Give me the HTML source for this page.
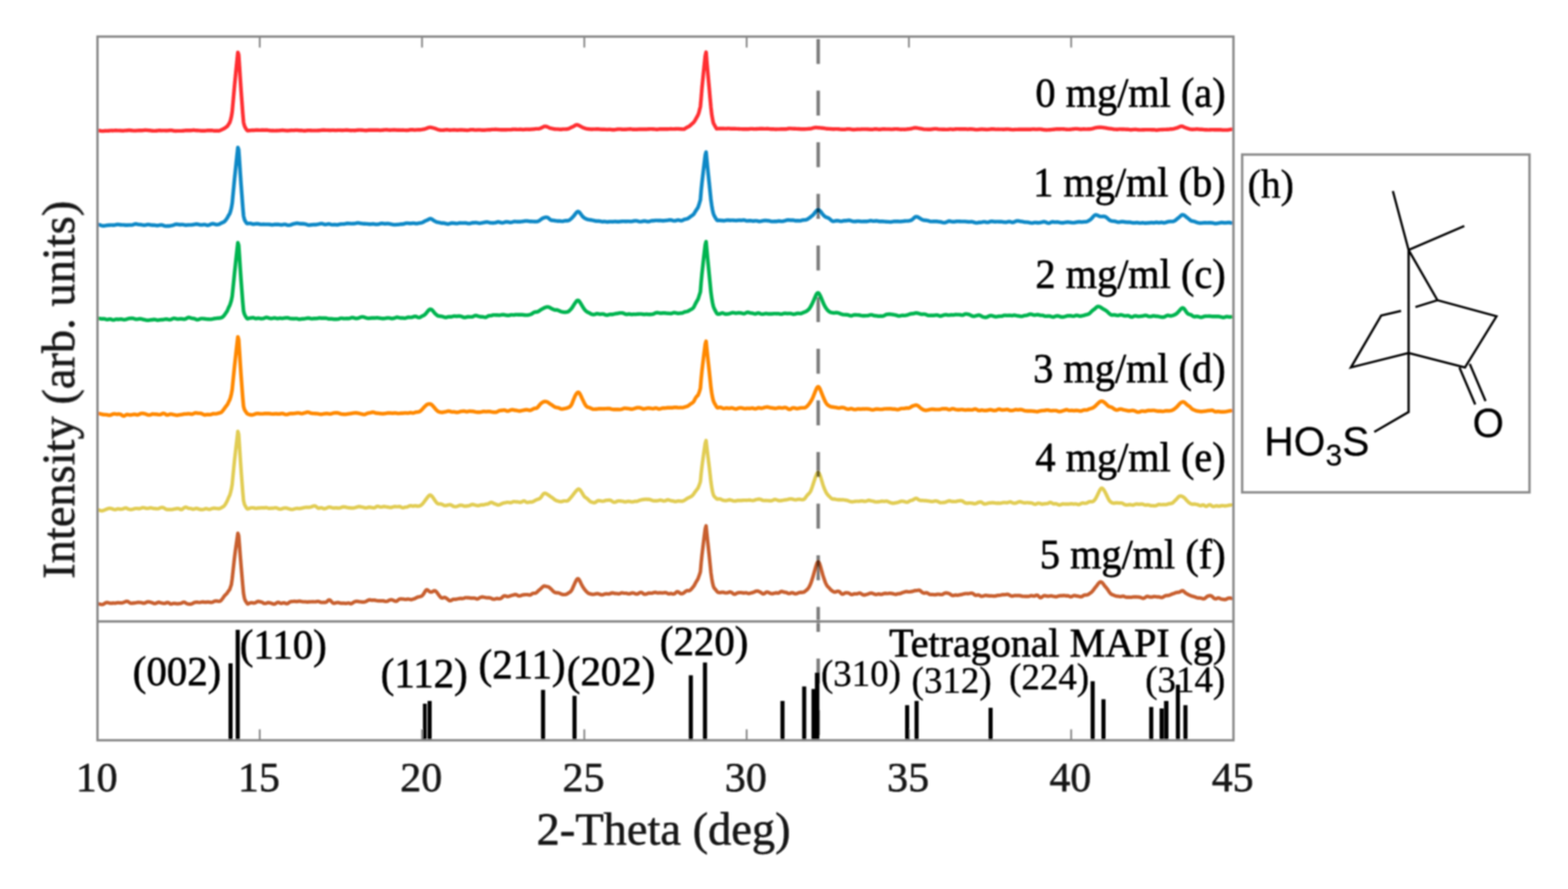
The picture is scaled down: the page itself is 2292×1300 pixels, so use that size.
<!DOCTYPE html>
<html lang="en"><head><meta charset="utf-8"><title>XRD patterns</title>
<style>html,body{margin:0;padding:0;background:#fff;}body{width:2292px;height:1300px;overflow:hidden;}svg{display:block;}text{font-family:"Liberation Serif", "Times New Roman", Times, serif;fill:#000;stroke:#000;stroke-width:0.9px;stroke-linejoin:round;}.sans{font-family:"Liberation Sans", Arial, Helvetica, sans-serif;}.c{fill:none;stroke-linejoin:round;stroke-linecap:butt;}</style></head><body>
<svg width="2292" height="1300" viewBox="0 0 2292 1300">
<defs><filter id="b" x="-2%" y="-2%" width="104%" height="104%"><feGaussianBlur stdDeviation="0.9"/></filter></defs>
<rect width="2292" height="1300" fill="#fff"/>
<g filter="url(#b)">
<path d="M379.7,53.5 v16 M379.7,1082.5 v-16 M616.9,53.5 v16 M616.9,1082.5 v-16 M854.1,53.5 v16 M854.1,1082.5 v-16 M1091.4,53.5 v16 M1091.4,1082.5 v-16 M1328.6,53.5 v16 M1328.6,1082.5 v-16 M1565.8,53.5 v16 M1565.8,1082.5 v-16" stroke="#868686" stroke-width="2.6" fill="none"/>
<path class="c" d="M142.5,190.9 L143.7,190.9 L144.9,191.0 L146.1,191.2 L147.2,191.4 L148.4,191.6 L149.6,191.6 L150.8,191.6 L152.0,191.5 L153.2,191.4 L154.4,191.3 L155.5,191.4 L156.7,191.4 L157.9,191.3 L159.1,191.2 L160.3,191.1 L161.5,190.9 L162.7,190.9 L163.8,191.0 L165.0,191.0 L166.2,190.9 L167.4,190.9 L168.6,190.8 L169.8,190.8 L171.0,190.9 L172.2,190.9 L173.3,190.9 L174.5,190.9 L175.7,191.0 L176.9,191.0 L178.1,191.1 L179.3,191.2 L180.5,191.1 L181.6,191.0 L182.8,190.9 L184.0,190.9 L185.2,190.8 L186.4,190.7 L187.6,190.5 L188.8,190.5 L189.9,190.5 L191.1,190.7 L192.3,190.8 L193.5,190.9 L194.7,191.1 L195.9,191.1 L197.1,191.1 L198.2,191.1 L199.4,191.0 L200.6,190.9 L201.8,190.9 L203.0,190.8 L204.2,190.8 L205.4,190.7 L206.5,190.7 L207.7,190.7 L208.9,190.6 L210.1,190.5 L211.3,190.4 L212.5,190.3 L213.7,190.4 L214.9,190.4 L216.0,190.5 L217.2,190.6 L218.4,190.7 L219.6,190.8 L220.8,191.0 L222.0,191.2 L223.2,191.3 L224.3,191.4 L225.5,191.4 L226.7,191.4 L227.9,191.3 L229.1,191.2 L230.3,191.0 L231.5,190.9 L232.6,190.8 L233.8,190.8 L235.0,190.9 L236.2,191.0 L237.4,190.9 L238.6,190.9 L239.8,190.9 L240.9,190.9 L242.1,191.0 L243.3,191.0 L244.5,191.0 L245.7,190.9 L246.9,190.7 L248.1,190.6 L249.2,190.5 L250.4,190.6 L251.6,190.7 L252.8,191.0 L254.0,191.3 L255.2,191.4 L256.4,191.5 L257.5,191.5 L258.7,191.4 L259.9,191.4 L261.1,191.4 L262.3,191.4 L263.5,191.4 L264.7,191.4 L265.9,191.4 L267.0,191.3 L268.2,191.2 L269.4,191.0 L270.6,190.9 L271.8,190.8 L273.0,190.8 L274.2,190.8 L275.3,190.8 L276.5,190.8 L277.7,190.8 L278.9,190.7 L280.1,190.6 L281.3,190.5 L282.5,190.4 L283.6,190.3 L284.8,190.5 L286.0,190.6 L287.2,190.7 L288.4,190.8 L289.6,190.9 L290.8,190.9 L291.9,191.0 L293.1,191.1 L294.3,191.2 L295.5,191.3 L296.7,191.3 L297.9,191.2 L299.1,191.2 L300.2,191.1 L301.4,191.0 L302.6,190.9 L303.8,190.8 L305.0,190.7 L306.2,190.7 L307.4,190.7 L308.6,190.7 L309.7,190.8 L310.9,190.9 L312.1,191.1 L313.3,191.3 L314.5,191.3 L315.7,191.3 L316.9,191.2 L318.0,191.1 L319.2,191.2 L320.4,191.2 L321.6,190.8 L322.8,190.3 L324.0,189.7 L325.2,189.1 L326.3,188.6 L327.5,188.1 L328.7,187.2 L329.9,186.4 L331.1,185.5 L332.3,184.6 L333.5,182.9 L334.6,181.1 L335.8,179.3 L337.0,175.5 L338.2,170.7 L339.4,163.5 L340.6,150.2 L341.8,136.8 L342.9,124.4 L344.1,112.2 L345.3,100.0 L346.5,88.3 L347.7,76.6 L348.9,80.2 L350.1,97.8 L351.2,115.2 L352.4,132.7 L353.6,148.8 L354.8,165.0 L356.0,178.8 L357.2,183.7 L358.4,186.3 L359.6,188.3 L360.7,190.2 L361.9,191.1 L363.1,191.0 L364.3,190.9 L365.5,190.7 L366.7,190.6 L367.9,190.5 L369.0,190.5 L370.2,190.5 L371.4,190.5 L372.6,190.4 L373.8,190.3 L375.0,190.2 L376.2,190.2 L377.3,190.3 L378.5,190.4 L379.7,190.4 L380.9,190.4 L382.1,190.3 L383.3,190.2 L384.5,190.3 L385.6,190.3 L386.8,190.4 L388.0,190.3 L389.2,190.3 L390.4,190.3 L391.6,190.4 L392.8,190.6 L393.9,190.8 L395.1,190.9 L396.3,191.0 L397.5,191.0 L398.7,191.0 L399.9,191.0 L401.1,191.1 L402.2,191.1 L403.4,191.0 L404.6,191.0 L405.8,191.0 L407.0,190.9 L408.2,190.9 L409.4,190.7 L410.6,190.6 L411.7,190.5 L412.9,190.4 L414.1,190.5 L415.3,190.6 L416.5,190.8 L417.7,190.9 L418.9,191.0 L420.0,191.1 L421.2,191.0 L422.4,190.9 L423.6,190.8 L424.8,190.6 L426.0,190.5 L427.2,190.6 L428.3,190.6 L429.5,190.6 L430.7,190.5 L431.9,190.4 L433.1,190.4 L434.3,190.4 L435.5,190.5 L436.6,190.6 L437.8,190.7 L439.0,190.7 L440.2,190.8 L441.4,190.9 L442.6,191.0 L443.8,191.1 L444.9,191.2 L446.1,191.2 L447.3,191.0 L448.5,190.9 L449.7,190.7 L450.9,190.6 L452.1,190.6 L453.3,190.7 L454.4,190.8 L455.6,190.9 L456.8,190.9 L458.0,190.9 L459.2,190.9 L460.4,190.9 L461.6,190.9 L462.7,190.9 L463.9,190.9 L465.1,190.8 L466.3,190.7 L467.5,190.6 L468.7,190.5 L469.9,190.4 L471.0,190.3 L472.2,190.3 L473.4,190.3 L474.6,190.3 L475.8,190.4 L477.0,190.4 L478.2,190.4 L479.3,190.4 L480.5,190.5 L481.7,190.5 L482.9,190.6 L484.1,190.5 L485.3,190.4 L486.5,190.4 L487.6,190.4 L488.8,190.5 L490.0,190.6 L491.2,190.6 L492.4,190.5 L493.6,190.4 L494.8,190.4 L495.9,190.4 L497.1,190.4 L498.3,190.5 L499.5,190.5 L500.7,190.6 L501.9,190.5 L503.1,190.4 L504.3,190.4 L505.4,190.3 L506.6,190.3 L507.8,190.3 L509.0,190.4 L510.2,190.5 L511.4,190.6 L512.6,190.7 L513.7,190.7 L514.9,190.6 L516.1,190.6 L517.3,190.7 L518.5,190.7 L519.7,190.7 L520.9,190.5 L522.0,190.4 L523.2,190.2 L524.4,190.1 L525.6,190.1 L526.8,190.1 L528.0,190.2 L529.2,190.3 L530.3,190.4 L531.5,190.5 L532.7,190.6 L533.9,190.7 L535.1,190.8 L536.3,190.7 L537.5,190.5 L538.6,190.3 L539.8,190.2 L541.0,190.2 L542.2,190.1 L543.4,190.2 L544.6,190.2 L545.8,190.2 L547.0,190.2 L548.1,190.2 L549.3,190.2 L550.5,190.2 L551.7,190.2 L552.9,190.3 L554.1,190.4 L555.3,190.5 L556.4,190.5 L557.6,190.4 L558.8,190.3 L560.0,190.2 L561.2,190.0 L562.4,189.9 L563.6,189.9 L564.7,189.8 L565.9,189.9 L567.1,190.0 L568.3,190.1 L569.5,190.2 L570.7,190.2 L571.9,190.1 L573.0,190.1 L574.2,190.0 L575.4,190.0 L576.6,190.0 L577.8,190.0 L579.0,190.1 L580.2,190.2 L581.3,190.2 L582.5,190.2 L583.7,190.3 L584.9,190.3 L586.1,190.4 L587.3,190.3 L588.5,190.3 L589.6,190.3 L590.8,190.4 L592.0,190.4 L593.2,190.5 L594.4,190.5 L595.6,190.5 L596.8,190.3 L598.0,190.2 L599.1,189.9 L600.3,189.7 L601.5,189.6 L602.7,189.7 L603.9,189.8 L605.1,190.0 L606.3,190.1 L607.4,190.0 L608.6,189.9 L609.8,189.9 L611.0,189.8 L612.2,189.8 L613.4,189.8 L614.6,189.7 L615.7,189.6 L616.9,189.4 L618.1,189.2 L619.3,189.0 L620.5,188.8 L621.7,188.4 L622.9,188.0 L624.0,187.5 L625.2,187.0 L626.4,186.6 L627.6,186.4 L628.8,186.3 L630.0,186.4 L631.2,186.6 L632.3,186.8 L633.5,187.2 L634.7,187.5 L635.9,187.9 L637.1,188.3 L638.3,188.8 L639.5,189.2 L640.6,189.6 L641.8,189.9 L643.0,190.2 L644.2,190.3 L645.4,190.4 L646.6,190.4 L647.8,190.3 L649.0,190.2 L650.1,190.0 L651.3,189.9 L652.5,189.8 L653.7,189.8 L654.9,189.9 L656.1,190.1 L657.3,190.2 L658.4,190.2 L659.6,190.1 L660.8,190.1 L662.0,190.0 L663.2,190.0 L664.4,190.0 L665.6,190.0 L666.7,190.1 L667.9,190.2 L669.1,190.2 L670.3,190.1 L671.5,190.0 L672.7,190.0 L673.9,190.0 L675.0,190.0 L676.2,190.0 L677.4,190.1 L678.6,190.2 L679.8,190.3 L681.0,190.4 L682.2,190.5 L683.3,190.5 L684.5,190.4 L685.7,190.2 L686.9,189.9 L688.1,189.7 L689.3,189.6 L690.5,189.6 L691.7,189.7 L692.8,189.9 L694.0,190.1 L695.2,190.1 L696.4,190.1 L697.6,190.0 L698.8,189.9 L700.0,189.9 L701.1,189.9 L702.3,190.0 L703.5,190.1 L704.7,190.2 L705.9,190.2 L707.1,190.2 L708.3,190.2 L709.4,190.1 L710.6,190.0 L711.8,189.9 L713.0,189.9 L714.2,189.8 L715.4,189.8 L716.6,189.7 L717.7,189.6 L718.9,189.4 L720.1,189.4 L721.3,189.4 L722.5,189.4 L723.7,189.3 L724.9,189.3 L726.0,189.4 L727.2,189.4 L728.4,189.5 L729.6,189.6 L730.8,189.6 L732.0,189.7 L733.2,189.7 L734.3,189.7 L735.5,189.8 L736.7,189.8 L737.9,189.8 L739.1,189.8 L740.3,189.7 L741.5,189.6 L742.7,189.6 L743.8,189.6 L745.0,189.6 L746.2,189.6 L747.4,189.5 L748.6,189.3 L749.8,189.2 L751.0,189.1 L752.1,189.1 L753.3,189.2 L754.5,189.3 L755.7,189.4 L756.9,189.4 L758.1,189.4 L759.3,189.3 L760.4,189.3 L761.6,189.3 L762.8,189.4 L764.0,189.5 L765.2,189.5 L766.4,189.4 L767.6,189.3 L768.7,189.2 L769.9,189.1 L771.1,189.1 L772.3,189.2 L773.5,189.2 L774.7,189.2 L775.9,189.1 L777.0,189.0 L778.2,189.0 L779.4,188.9 L780.6,188.8 L781.8,188.6 L783.0,188.4 L784.2,188.4 L785.4,188.4 L786.5,188.4 L787.7,188.3 L788.9,188.0 L790.1,187.6 L791.3,187.0 L792.5,186.4 L793.7,185.8 L794.8,185.2 L796.0,184.9 L797.2,184.8 L798.4,185.0 L799.6,185.4 L800.8,185.8 L802.0,186.4 L803.1,186.9 L804.3,187.4 L805.5,187.7 L806.7,188.0 L807.9,188.2 L809.1,188.5 L810.3,188.7 L811.4,188.8 L812.6,188.9 L813.8,188.9 L815.0,188.9 L816.2,189.0 L817.4,189.1 L818.6,189.2 L819.7,189.2 L820.9,189.2 L822.1,189.0 L823.3,188.9 L824.5,188.9 L825.7,188.9 L826.9,188.9 L828.0,188.8 L829.2,188.7 L830.4,188.4 L831.6,187.9 L832.8,187.4 L834.0,186.8 L835.2,186.2 L836.4,185.7 L837.5,185.2 L838.7,184.6 L839.9,183.9 L841.1,183.1 L842.3,182.7 L843.5,182.5 L844.7,182.8 L845.8,183.3 L847.0,183.9 L848.2,184.5 L849.4,185.2 L850.6,185.8 L851.8,186.4 L853.0,186.9 L854.1,187.4 L855.3,187.7 L856.5,188.1 L857.7,188.3 L858.9,188.5 L860.1,188.7 L861.3,188.8 L862.4,188.9 L863.6,189.0 L864.8,189.0 L866.0,189.0 L867.2,188.9 L868.4,188.9 L869.6,188.9 L870.7,188.9 L871.9,188.8 L873.1,188.8 L874.3,188.8 L875.5,188.9 L876.7,189.0 L877.9,189.1 L879.1,189.2 L880.2,189.2 L881.4,189.2 L882.6,189.3 L883.8,189.3 L885.0,189.4 L886.2,189.4 L887.4,189.5 L888.5,189.4 L889.7,189.4 L890.9,189.3 L892.1,189.4 L893.3,189.5 L894.5,189.7 L895.7,189.8 L896.8,189.8 L898.0,189.7 L899.2,189.6 L900.4,189.4 L901.6,189.2 L902.8,189.0 L904.0,188.9 L905.1,188.9 L906.3,188.9 L907.5,189.0 L908.7,189.2 L909.9,189.3 L911.1,189.4 L912.3,189.3 L913.4,189.3 L914.6,189.2 L915.8,189.1 L917.0,189.0 L918.2,188.9 L919.4,188.9 L920.6,188.8 L921.7,188.8 L922.9,188.9 L924.1,189.1 L925.3,189.2 L926.5,189.3 L927.7,189.3 L928.9,189.4 L930.1,189.3 L931.2,189.2 L932.4,189.1 L933.6,189.0 L934.8,189.0 L936.0,189.0 L937.2,189.0 L938.4,189.0 L939.5,189.0 L940.7,189.0 L941.9,189.0 L943.1,189.0 L944.3,189.0 L945.5,189.0 L946.7,188.9 L947.8,188.8 L949.0,188.7 L950.2,188.6 L951.4,188.6 L952.6,188.6 L953.8,188.7 L955.0,188.8 L956.1,188.9 L957.3,189.0 L958.5,189.1 L959.7,189.2 L960.9,189.2 L962.1,189.1 L963.3,188.9 L964.4,188.7 L965.6,188.6 L966.8,188.7 L968.0,188.8 L969.2,188.8 L970.4,188.8 L971.6,188.8 L972.8,188.7 L973.9,188.7 L975.1,188.8 L976.3,188.7 L977.5,188.6 L978.7,188.6 L979.9,188.5 L981.1,188.5 L982.2,188.6 L983.4,188.6 L984.6,188.6 L985.8,188.6 L987.0,188.5 L988.2,188.5 L989.4,188.4 L990.5,188.4 L991.7,188.5 L992.9,188.5 L994.1,188.6 L995.3,188.7 L996.5,188.8 L997.7,188.9 L998.8,188.9 L1000.0,188.8 L1001.2,188.1 L1002.4,187.3 L1003.6,186.6 L1004.8,186.0 L1006.0,185.4 L1007.1,184.9 L1008.3,184.0 L1009.5,182.9 L1010.7,181.8 L1011.9,180.8 L1013.1,179.7 L1014.3,178.6 L1015.4,176.9 L1016.6,174.8 L1017.8,172.7 L1019.0,170.6 L1020.2,168.4 L1021.4,165.3 L1022.6,160.5 L1023.8,155.8 L1024.9,143.5 L1026.1,128.5 L1027.3,116.6 L1028.5,104.6 L1029.7,93.0 L1030.9,81.6 L1032.1,76.3 L1033.2,90.1 L1034.4,103.7 L1035.6,116.9 L1036.8,130.0 L1038.0,144.1 L1039.2,157.1 L1040.4,167.5 L1041.5,173.9 L1042.7,179.7 L1043.9,182.1 L1045.1,184.3 L1046.3,186.4 L1047.5,188.3 L1048.7,188.1 L1049.8,188.1 L1051.0,188.0 L1052.2,188.0 L1053.4,187.9 L1054.6,188.0 L1055.8,188.0 L1057.0,188.0 L1058.1,188.0 L1059.3,188.1 L1060.5,188.1 L1061.7,188.1 L1062.9,188.0 L1064.1,187.9 L1065.3,187.9 L1066.4,188.0 L1067.6,188.1 L1068.8,188.2 L1070.0,188.3 L1071.2,188.3 L1072.4,188.2 L1073.6,188.3 L1074.8,188.3 L1075.9,188.4 L1077.1,188.4 L1078.3,188.4 L1079.5,188.5 L1080.7,188.5 L1081.9,188.6 L1083.1,188.6 L1084.2,188.6 L1085.4,188.7 L1086.6,188.7 L1087.8,188.8 L1089.0,188.8 L1090.2,188.8 L1091.4,188.8 L1092.5,188.8 L1093.7,188.7 L1094.9,188.6 L1096.1,188.5 L1097.3,188.4 L1098.5,188.4 L1099.7,188.4 L1100.8,188.5 L1102.0,188.6 L1103.2,188.6 L1104.4,188.6 L1105.6,188.5 L1106.8,188.5 L1108.0,188.4 L1109.1,188.4 L1110.3,188.3 L1111.5,188.3 L1112.7,188.2 L1113.9,188.2 L1115.1,188.3 L1116.3,188.4 L1117.5,188.4 L1118.6,188.4 L1119.8,188.4 L1121.0,188.3 L1122.2,188.3 L1123.4,188.4 L1124.6,188.5 L1125.8,188.6 L1126.9,188.7 L1128.1,188.8 L1129.3,188.8 L1130.5,188.8 L1131.7,188.9 L1132.9,189.0 L1134.1,189.0 L1135.2,189.0 L1136.4,188.9 L1137.6,188.9 L1138.8,188.9 L1140.0,188.9 L1141.2,188.8 L1142.4,188.8 L1143.5,188.7 L1144.7,188.6 L1145.9,188.7 L1147.1,188.7 L1148.3,188.7 L1149.5,188.7 L1150.7,188.5 L1151.8,188.2 L1153.0,188.0 L1154.2,187.9 L1155.4,187.9 L1156.6,188.0 L1157.8,188.1 L1159.0,188.1 L1160.1,188.2 L1161.3,188.2 L1162.5,188.3 L1163.7,188.4 L1164.9,188.4 L1166.1,188.5 L1167.3,188.5 L1168.5,188.5 L1169.6,188.7 L1170.8,188.8 L1172.0,188.8 L1173.2,188.8 L1174.4,188.7 L1175.6,188.7 L1176.8,188.7 L1177.9,188.6 L1179.1,188.6 L1180.3,188.5 L1181.5,188.4 L1182.7,188.3 L1183.9,188.3 L1185.1,188.1 L1186.2,187.9 L1187.4,187.5 L1188.6,187.2 L1189.8,186.9 L1191.0,186.7 L1192.2,186.5 L1193.4,186.5 L1194.5,186.6 L1195.7,186.7 L1196.9,186.8 L1198.1,186.9 L1199.3,187.0 L1200.5,187.1 L1201.7,187.2 L1202.8,187.3 L1204.0,187.5 L1205.2,187.7 L1206.4,187.9 L1207.6,188.1 L1208.8,188.2 L1210.0,188.3 L1211.2,188.4 L1212.3,188.4 L1213.5,188.5 L1214.7,188.5 L1215.9,188.6 L1217.1,188.7 L1218.3,188.7 L1219.5,188.7 L1220.6,188.6 L1221.8,188.6 L1223.0,188.6 L1224.2,188.6 L1225.4,188.7 L1226.6,188.8 L1227.8,189.0 L1228.9,189.1 L1230.1,189.3 L1231.3,189.3 L1232.5,189.4 L1233.7,189.3 L1234.9,189.3 L1236.1,189.1 L1237.2,188.9 L1238.4,188.7 L1239.6,188.6 L1240.8,188.6 L1242.0,188.8 L1243.2,188.9 L1244.4,189.1 L1245.5,189.3 L1246.7,189.5 L1247.9,189.5 L1249.1,189.5 L1250.3,189.4 L1251.5,189.3 L1252.7,189.1 L1253.8,189.0 L1255.0,189.1 L1256.2,189.1 L1257.4,189.1 L1258.6,189.0 L1259.8,188.9 L1261.0,188.9 L1262.2,188.9 L1263.3,188.9 L1264.5,188.9 L1265.7,188.9 L1266.9,188.9 L1268.1,189.0 L1269.3,189.0 L1270.5,189.1 L1271.6,189.3 L1272.8,189.3 L1274.0,189.4 L1275.2,189.3 L1276.4,189.1 L1277.6,188.9 L1278.8,188.7 L1279.9,188.7 L1281.1,188.7 L1282.3,188.9 L1283.5,189.1 L1284.7,189.2 L1285.9,189.3 L1287.1,189.2 L1288.2,189.0 L1289.4,188.9 L1290.6,188.8 L1291.8,188.7 L1293.0,188.8 L1294.2,188.9 L1295.4,188.9 L1296.5,188.9 L1297.7,188.9 L1298.9,188.9 L1300.1,188.9 L1301.3,189.0 L1302.5,189.1 L1303.7,189.1 L1304.8,189.0 L1306.0,188.9 L1307.2,188.8 L1308.4,188.6 L1309.6,188.6 L1310.8,188.6 L1312.0,188.7 L1313.2,188.9 L1314.3,189.0 L1315.5,189.1 L1316.7,189.2 L1317.9,189.2 L1319.1,189.1 L1320.3,189.1 L1321.5,189.2 L1322.6,189.2 L1323.8,189.1 L1325.0,189.0 L1326.2,188.8 L1327.4,188.7 L1328.6,188.6 L1329.8,188.5 L1330.9,188.4 L1332.1,188.1 L1333.3,187.8 L1334.5,187.5 L1335.7,187.2 L1336.9,187.0 L1338.1,187.0 L1339.2,187.0 L1340.4,187.2 L1341.6,187.4 L1342.8,187.6 L1344.0,187.8 L1345.2,188.0 L1346.4,188.2 L1347.5,188.5 L1348.7,188.7 L1349.9,188.9 L1351.1,189.1 L1352.3,189.1 L1353.5,189.1 L1354.7,189.1 L1355.9,189.2 L1357.0,189.2 L1358.2,189.3 L1359.4,189.3 L1360.6,189.2 L1361.8,189.0 L1363.0,188.8 L1364.2,188.6 L1365.3,188.5 L1366.5,188.4 L1367.7,188.4 L1368.9,188.5 L1370.1,188.7 L1371.3,188.9 L1372.5,189.1 L1373.6,189.1 L1374.8,189.1 L1376.0,189.1 L1377.2,189.2 L1378.4,189.2 L1379.6,189.3 L1380.8,189.3 L1381.9,189.4 L1383.1,189.4 L1384.3,189.4 L1385.5,189.3 L1386.7,189.1 L1387.9,189.0 L1389.1,188.9 L1390.2,188.9 L1391.4,189.1 L1392.6,189.2 L1393.8,189.1 L1395.0,189.0 L1396.2,188.8 L1397.4,188.7 L1398.5,188.6 L1399.7,188.6 L1400.9,188.6 L1402.1,188.7 L1403.3,188.7 L1404.5,188.8 L1405.7,188.8 L1406.9,188.8 L1408.0,188.7 L1409.2,188.6 L1410.4,188.7 L1411.6,188.8 L1412.8,188.9 L1414.0,189.0 L1415.2,189.0 L1416.3,188.9 L1417.5,188.8 L1418.7,188.8 L1419.9,188.8 L1421.1,188.9 L1422.3,189.0 L1423.5,189.2 L1424.6,189.4 L1425.8,189.5 L1427.0,189.6 L1428.2,189.6 L1429.4,189.5 L1430.6,189.4 L1431.8,189.2 L1432.9,189.1 L1434.1,189.0 L1435.3,188.9 L1436.5,189.0 L1437.7,189.1 L1438.9,189.2 L1440.1,189.3 L1441.2,189.4 L1442.4,189.5 L1443.6,189.4 L1444.8,189.3 L1446.0,189.1 L1447.2,189.0 L1448.4,188.8 L1449.6,188.7 L1450.7,188.7 L1451.9,188.8 L1453.1,188.9 L1454.3,189.0 L1455.5,189.1 L1456.7,189.1 L1457.9,189.1 L1459.0,189.0 L1460.2,189.1 L1461.4,189.1 L1462.6,189.1 L1463.8,189.1 L1465.0,189.1 L1466.2,189.2 L1467.3,189.2 L1468.5,189.1 L1469.7,189.0 L1470.9,189.0 L1472.1,188.9 L1473.3,188.9 L1474.5,189.0 L1475.6,189.1 L1476.8,189.3 L1478.0,189.4 L1479.2,189.6 L1480.4,189.6 L1481.6,189.6 L1482.8,189.5 L1483.9,189.4 L1485.1,189.4 L1486.3,189.4 L1487.5,189.4 L1488.7,189.3 L1489.9,189.3 L1491.1,189.2 L1492.2,189.3 L1493.4,189.3 L1494.6,189.3 L1495.8,189.2 L1497.0,189.2 L1498.2,189.2 L1499.4,189.2 L1500.6,189.2 L1501.7,189.3 L1502.9,189.3 L1504.1,189.3 L1505.3,189.2 L1506.5,189.2 L1507.7,189.1 L1508.9,188.9 L1510.0,188.9 L1511.2,188.9 L1512.4,189.0 L1513.6,189.1 L1514.8,189.1 L1516.0,189.1 L1517.2,189.0 L1518.3,188.9 L1519.5,188.9 L1520.7,188.9 L1521.9,189.1 L1523.1,189.2 L1524.3,189.5 L1525.5,189.7 L1526.6,189.8 L1527.8,189.9 L1529.0,190.0 L1530.2,190.0 L1531.4,189.9 L1532.6,189.9 L1533.8,189.8 L1534.9,189.7 L1536.1,189.6 L1537.3,189.5 L1538.5,189.4 L1539.7,189.3 L1540.9,189.2 L1542.1,189.0 L1543.3,188.9 L1544.4,188.8 L1545.6,188.8 L1546.8,188.8 L1548.0,188.8 L1549.2,188.7 L1550.4,188.7 L1551.6,188.6 L1552.7,188.6 L1553.9,188.7 L1555.1,188.8 L1556.3,188.9 L1557.5,189.1 L1558.7,189.2 L1559.9,189.3 L1561.0,189.4 L1562.2,189.4 L1563.4,189.3 L1564.6,189.2 L1565.8,189.1 L1567.0,188.9 L1568.2,188.8 L1569.3,188.6 L1570.5,188.5 L1571.7,188.4 L1572.9,188.4 L1574.1,188.4 L1575.3,188.5 L1576.5,188.6 L1577.6,188.8 L1578.8,189.0 L1580.0,189.0 L1581.2,189.0 L1582.4,188.9 L1583.6,188.8 L1584.8,188.8 L1585.9,188.9 L1587.1,188.9 L1588.3,188.9 L1589.5,188.9 L1590.7,188.8 L1591.9,188.7 L1593.1,188.7 L1594.3,188.6 L1595.4,188.5 L1596.6,188.2 L1597.8,187.9 L1599.0,187.5 L1600.2,187.2 L1601.4,186.9 L1602.6,186.7 L1603.7,186.5 L1604.9,186.4 L1606.1,186.3 L1607.3,186.3 L1608.5,186.3 L1609.7,186.3 L1610.9,186.4 L1612.0,186.5 L1613.2,186.7 L1614.4,186.9 L1615.6,187.0 L1616.8,187.2 L1618.0,187.5 L1619.2,187.7 L1620.3,187.9 L1621.5,188.0 L1622.7,188.1 L1623.9,188.2 L1625.1,188.4 L1626.3,188.6 L1627.5,188.8 L1628.6,189.0 L1629.8,189.1 L1631.0,189.1 L1632.2,189.2 L1633.4,189.2 L1634.6,189.1 L1635.8,188.9 L1637.0,188.9 L1638.1,188.9 L1639.3,189.0 L1640.5,189.0 L1641.7,189.0 L1642.9,189.0 L1644.1,189.1 L1645.3,189.1 L1646.4,189.2 L1647.6,189.2 L1648.8,189.3 L1650.0,189.4 L1651.2,189.6 L1652.4,189.7 L1653.6,189.7 L1654.7,189.6 L1655.9,189.5 L1657.1,189.4 L1658.3,189.4 L1659.5,189.3 L1660.7,189.4 L1661.9,189.5 L1663.0,189.6 L1664.2,189.8 L1665.4,189.9 L1666.6,189.9 L1667.8,189.9 L1669.0,189.9 L1670.2,189.8 L1671.3,189.8 L1672.5,189.7 L1673.7,189.6 L1674.9,189.6 L1676.1,189.6 L1677.3,189.6 L1678.5,189.6 L1679.6,189.6 L1680.8,189.6 L1682.0,189.6 L1683.2,189.7 L1684.4,189.7 L1685.6,189.7 L1686.8,189.8 L1688.0,189.9 L1689.1,190.1 L1690.3,190.2 L1691.5,190.2 L1692.7,190.0 L1693.9,189.8 L1695.1,189.6 L1696.3,189.6 L1697.4,189.5 L1698.6,189.6 L1699.8,189.5 L1701.0,189.4 L1702.2,189.4 L1703.4,189.4 L1704.6,189.4 L1705.7,189.3 L1706.9,189.3 L1708.1,189.1 L1709.3,189.0 L1710.5,188.8 L1711.7,188.8 L1712.9,188.7 L1714.0,188.6 L1715.2,188.4 L1716.4,188.1 L1717.6,187.8 L1718.8,187.4 L1720.0,187.1 L1721.2,186.8 L1722.3,186.3 L1723.5,185.8 L1724.7,185.2 L1725.9,184.7 L1727.1,184.6 L1728.3,184.7 L1729.5,185.2 L1730.6,185.8 L1731.8,186.4 L1733.0,186.8 L1734.2,187.2 L1735.4,187.6 L1736.6,188.0 L1737.8,188.4 L1739.0,188.8 L1740.1,189.0 L1741.3,189.1 L1742.5,189.2 L1743.7,189.2 L1744.9,189.1 L1746.1,189.1 L1747.3,189.0 L1748.4,188.9 L1749.6,188.8 L1750.8,188.9 L1752.0,189.0 L1753.2,189.1 L1754.4,189.2 L1755.6,189.2 L1756.7,189.3 L1757.9,189.4 L1759.1,189.5 L1760.3,189.6 L1761.5,189.7 L1762.7,189.7 L1763.9,189.8 L1765.0,189.9 L1766.2,189.9 L1767.4,189.9 L1768.6,189.8 L1769.8,189.7 L1771.0,189.6 L1772.2,189.6 L1773.3,189.6 L1774.5,189.7 L1775.7,189.7 L1776.9,189.7 L1778.1,189.8 L1779.3,189.8 L1780.5,189.8 L1781.7,189.8 L1782.8,189.8 L1784.0,189.8 L1785.2,189.9 L1786.4,190.0 L1787.6,190.1 L1788.8,190.1 L1790.0,190.1 L1791.1,190.1 L1792.3,190.1 L1793.5,190.1 L1794.7,190.0 L1795.9,189.8 L1797.1,189.6 L1798.3,189.4 L1799.4,189.3 L1800.6,189.3 L1801.5,189.3 L1801.5,189.4" stroke="#ff2d30" stroke-width="5.4"/>
<path class="c" d="M142.5,328.4 L143.7,328.5 L144.9,328.7 L146.1,329.0 L147.2,329.4 L148.4,329.8 L149.6,330.1 L150.8,330.2 L152.0,330.2 L153.2,330.1 L154.4,329.9 L155.5,329.7 L156.7,329.5 L157.9,329.4 L159.1,329.3 L160.3,329.2 L161.5,329.1 L162.7,329.1 L163.8,329.1 L165.0,329.2 L166.2,329.2 L167.4,329.1 L168.6,328.8 L169.8,328.5 L171.0,328.4 L172.2,328.3 L173.3,328.4 L174.5,328.5 L175.7,328.7 L176.9,328.8 L178.1,328.9 L179.3,328.9 L180.5,328.9 L181.6,329.0 L182.8,329.2 L184.0,329.3 L185.2,329.3 L186.4,329.2 L187.6,329.1 L188.8,329.0 L189.9,329.1 L191.1,329.1 L192.3,329.1 L193.5,328.9 L194.7,328.5 L195.9,328.1 L197.1,327.7 L198.2,327.5 L199.4,327.6 L200.6,327.9 L201.8,328.2 L203.0,328.4 L204.2,328.4 L205.4,328.5 L206.5,328.6 L207.7,328.9 L208.9,329.1 L210.1,329.3 L211.3,329.3 L212.5,329.1 L213.7,328.8 L214.9,328.5 L216.0,328.4 L217.2,328.4 L218.4,328.5 L219.6,328.8 L220.8,329.0 L222.0,329.2 L223.2,329.2 L224.3,329.2 L225.5,329.3 L226.7,329.4 L227.9,329.6 L229.1,329.7 L230.3,329.8 L231.5,329.6 L232.6,329.4 L233.8,329.1 L235.0,329.0 L236.2,328.9 L237.4,329.2 L238.6,329.6 L239.8,330.0 L240.9,330.4 L242.1,330.6 L243.3,330.6 L244.5,330.5 L245.7,330.5 L246.9,330.5 L248.1,330.4 L249.2,330.2 L250.4,329.9 L251.6,329.7 L252.8,329.4 L254.0,329.0 L255.2,328.5 L256.4,328.1 L257.5,327.9 L258.7,328.0 L259.9,328.2 L261.1,328.4 L262.3,328.5 L263.5,328.5 L264.7,328.5 L265.9,328.4 L267.0,328.4 L268.2,328.6 L269.4,328.8 L270.6,329.1 L271.8,329.2 L273.0,329.1 L274.2,329.0 L275.3,328.9 L276.5,328.9 L277.7,328.9 L278.9,328.9 L280.1,328.9 L281.3,328.7 L282.5,328.5 L283.6,328.3 L284.8,328.0 L286.0,327.8 L287.2,327.7 L288.4,327.8 L289.6,328.0 L290.8,328.3 L291.9,328.6 L293.1,328.9 L294.3,328.9 L295.5,328.8 L296.7,328.6 L297.9,328.4 L299.1,328.4 L300.2,328.7 L301.4,329.0 L302.6,329.3 L303.8,329.5 L305.0,329.2 L306.2,328.7 L307.4,328.2 L308.6,327.7 L309.7,327.4 L310.9,327.2 L312.1,327.3 L313.3,327.6 L314.5,328.0 L315.7,328.4 L316.9,328.5 L318.0,328.4 L319.2,328.2 L320.4,327.9 L321.6,327.2 L322.8,326.6 L324.0,326.0 L325.2,325.4 L326.3,325.0 L327.5,324.4 L328.7,323.3 L329.9,321.9 L331.1,320.2 L332.3,318.5 L333.5,316.2 L334.6,314.3 L335.8,312.5 L337.0,308.9 L338.2,304.2 L339.4,297.4 L340.6,284.8 L341.8,272.3 L342.9,260.8 L344.1,249.5 L345.3,238.1 L346.5,226.9 L347.7,215.7 L348.9,219.2 L350.1,236.3 L351.2,253.2 L352.4,270.1 L353.6,285.8 L354.8,301.7 L356.0,315.6 L357.2,320.6 L358.4,323.3 L359.6,325.1 L360.7,326.6 L361.9,327.0 L363.1,326.7 L364.3,326.6 L365.5,326.6 L366.7,326.9 L367.9,327.2 L369.0,327.6 L370.2,327.7 L371.4,327.7 L372.6,327.5 L373.8,327.4 L375.0,327.3 L376.2,327.3 L377.3,327.3 L378.5,327.5 L379.7,327.8 L380.9,328.0 L382.1,328.1 L383.3,328.1 L384.5,328.0 L385.6,328.0 L386.8,328.1 L388.0,328.1 L389.2,328.1 L390.4,328.1 L391.6,328.1 L392.8,328.1 L393.9,328.2 L395.1,328.4 L396.3,328.6 L397.5,328.7 L398.7,328.6 L399.9,328.5 L401.1,328.3 L402.2,328.3 L403.4,328.3 L404.6,328.3 L405.8,328.3 L407.0,328.3 L408.2,328.4 L409.4,328.6 L410.6,328.8 L411.7,328.8 L412.9,328.6 L414.1,328.3 L415.3,328.1 L416.5,328.1 L417.7,328.4 L418.9,328.8 L420.0,329.2 L421.2,329.4 L422.4,329.4 L423.6,329.2 L424.8,328.9 L426.0,328.4 L427.2,327.9 L428.3,327.6 L429.5,327.3 L430.7,327.0 L431.9,326.8 L433.1,326.5 L434.3,326.4 L435.5,326.5 L436.6,326.8 L437.8,327.0 L439.0,327.2 L440.2,327.2 L441.4,327.2 L442.6,327.2 L443.8,327.3 L444.9,327.5 L446.1,327.7 L447.3,328.0 L448.5,328.4 L449.7,328.8 L450.9,329.1 L452.1,329.2 L453.3,329.0 L454.4,328.8 L455.6,328.7 L456.8,328.6 L458.0,328.5 L459.2,328.5 L460.4,328.5 L461.6,328.5 L462.7,328.3 L463.9,328.1 L465.1,327.9 L466.3,327.7 L467.5,327.4 L468.7,327.1 L469.9,327.0 L471.0,327.1 L472.2,327.5 L473.4,327.9 L474.6,328.2 L475.8,328.3 L477.0,328.1 L478.2,327.9 L479.3,327.6 L480.5,327.5 L481.7,327.7 L482.9,328.0 L484.1,328.4 L485.3,328.6 L486.5,328.6 L487.6,328.5 L488.8,328.4 L490.0,328.5 L491.2,328.6 L492.4,328.7 L493.6,328.7 L494.8,328.5 L495.9,328.2 L497.1,327.9 L498.3,327.7 L499.5,327.6 L500.7,327.6 L501.9,327.6 L503.1,327.5 L504.3,327.3 L505.4,327.1 L506.6,326.8 L507.8,326.7 L509.0,326.7 L510.2,326.9 L511.4,326.9 L512.6,327.0 L513.7,327.1 L514.9,327.1 L516.1,327.0 L517.3,327.0 L518.5,326.8 L519.7,326.6 L520.9,326.3 L522.0,326.1 L523.2,326.0 L524.4,326.1 L525.6,326.3 L526.8,326.6 L528.0,326.8 L529.2,326.9 L530.3,327.1 L531.5,327.2 L532.7,327.3 L533.9,327.3 L535.1,327.4 L536.3,327.4 L537.5,327.5 L538.6,327.6 L539.8,327.7 L541.0,327.8 L542.2,327.7 L543.4,327.6 L544.6,327.5 L545.8,327.5 L547.0,327.6 L548.1,327.8 L549.3,328.0 L550.5,328.1 L551.7,328.0 L552.9,327.9 L554.1,327.6 L555.3,327.3 L556.4,326.9 L557.6,326.7 L558.8,326.7 L560.0,326.9 L561.2,327.1 L562.4,327.3 L563.6,327.2 L564.7,327.1 L565.9,327.0 L567.1,327.0 L568.3,327.1 L569.5,327.3 L570.7,327.6 L571.9,327.9 L573.0,328.2 L574.2,328.4 L575.4,328.5 L576.6,328.6 L577.8,328.6 L579.0,328.5 L580.2,328.4 L581.3,328.4 L582.5,328.3 L583.7,328.1 L584.9,327.9 L586.1,327.8 L587.3,327.8 L588.5,327.7 L589.6,327.5 L590.8,327.3 L592.0,326.9 L593.2,326.5 L594.4,326.4 L595.6,326.4 L596.8,326.5 L598.0,326.6 L599.1,326.7 L600.3,326.7 L601.5,326.6 L602.7,326.5 L603.9,326.4 L605.1,326.4 L606.3,326.6 L607.4,326.9 L608.6,327.0 L609.8,326.9 L611.0,326.6 L612.2,326.3 L613.4,326.1 L614.6,326.0 L615.7,325.8 L616.9,325.5 L618.1,325.0 L619.3,324.4 L620.5,323.7 L621.7,323.1 L622.9,322.6 L624.0,322.1 L625.2,321.6 L626.4,320.9 L627.6,320.2 L628.8,319.8 L630.0,319.9 L631.2,320.4 L632.3,321.2 L633.5,322.1 L634.7,322.8 L635.9,323.5 L637.1,324.2 L638.3,324.7 L639.5,325.0 L640.6,325.2 L641.8,325.4 L643.0,325.7 L644.2,326.0 L645.4,326.2 L646.6,326.3 L647.8,326.2 L649.0,326.3 L650.1,326.5 L651.3,326.9 L652.5,327.2 L653.7,327.5 L654.9,327.6 L656.1,327.3 L657.3,327.0 L658.4,326.6 L659.6,326.3 L660.8,326.2 L662.0,326.3 L663.2,326.4 L664.4,326.5 L665.6,326.7 L666.7,326.9 L667.9,326.9 L669.1,326.7 L670.3,326.4 L671.5,326.2 L672.7,326.0 L673.9,326.1 L675.0,326.1 L676.2,326.1 L677.4,326.1 L678.6,326.1 L679.8,326.0 L681.0,326.1 L682.2,326.3 L683.3,326.6 L684.5,326.8 L685.7,326.9 L686.9,326.8 L688.1,326.5 L689.3,326.1 L690.5,325.8 L691.7,325.7 L692.8,325.7 L694.0,325.6 L695.2,325.5 L696.4,325.6 L697.6,325.8 L698.8,326.1 L700.0,326.4 L701.1,326.5 L702.3,326.4 L703.5,326.2 L704.7,325.9 L705.9,325.7 L707.1,325.5 L708.3,325.2 L709.4,325.0 L710.6,324.8 L711.8,324.7 L713.0,324.9 L714.2,325.2 L715.4,325.5 L716.6,325.8 L717.7,325.9 L718.9,325.9 L720.1,326.0 L721.3,326.0 L722.5,325.9 L723.7,325.7 L724.9,325.5 L726.0,325.0 L727.2,324.6 L728.4,324.5 L729.6,324.7 L730.8,325.1 L732.0,325.5 L733.2,325.7 L734.3,325.8 L735.5,325.6 L736.7,325.3 L737.9,324.9 L739.1,324.5 L740.3,324.4 L741.5,324.5 L742.7,324.6 L743.8,324.9 L745.0,325.2 L746.2,325.3 L747.4,325.1 L748.6,324.8 L749.8,324.5 L751.0,324.2 L752.1,324.0 L753.3,324.0 L754.5,324.1 L755.7,324.2 L756.9,324.3 L758.1,324.3 L759.3,324.3 L760.4,324.2 L761.6,324.1 L762.8,323.9 L764.0,323.8 L765.2,323.6 L766.4,323.4 L767.6,323.2 L768.7,323.1 L769.9,323.1 L771.1,323.2 L772.3,323.4 L773.5,323.6 L774.7,323.7 L775.9,323.8 L777.0,323.8 L778.2,323.9 L779.4,323.9 L780.6,324.0 L781.8,324.0 L783.0,324.1 L784.2,324.0 L785.4,323.9 L786.5,323.5 L787.7,323.0 L788.9,322.2 L790.1,321.3 L791.3,320.4 L792.5,319.6 L793.7,319.0 L794.8,318.5 L796.0,318.2 L797.2,317.9 L798.4,317.8 L799.6,317.9 L800.8,318.3 L802.0,319.1 L803.1,320.2 L804.3,321.2 L805.5,321.9 L806.7,322.2 L807.9,322.3 L809.1,322.4 L810.3,322.5 L811.4,322.8 L812.6,322.9 L813.8,323.1 L815.0,323.2 L816.2,323.3 L817.4,323.3 L818.6,323.3 L819.7,323.4 L820.9,323.6 L822.1,323.6 L823.3,323.5 L824.5,323.2 L825.7,322.9 L826.9,322.7 L828.0,322.7 L829.2,322.7 L830.4,322.6 L831.6,322.2 L832.8,321.5 L834.0,320.5 L835.2,319.4 L836.4,318.3 L837.5,317.1 L838.7,315.8 L839.9,314.3 L841.1,312.7 L842.3,311.1 L843.5,309.9 L844.7,309.3 L845.8,309.6 L847.0,310.5 L848.2,312.0 L849.4,313.6 L850.6,315.2 L851.8,316.7 L853.0,317.8 L854.1,318.7 L855.3,319.4 L856.5,320.0 L857.7,320.4 L858.9,320.9 L860.1,321.2 L861.3,321.4 L862.4,321.5 L863.6,321.7 L864.8,321.8 L866.0,322.1 L867.2,322.3 L868.4,322.6 L869.6,322.9 L870.7,323.2 L871.9,323.3 L873.1,323.4 L874.3,323.3 L875.5,323.3 L876.7,323.5 L877.9,323.7 L879.1,324.0 L880.2,324.2 L881.4,324.2 L882.6,324.0 L883.8,323.9 L885.0,324.1 L886.2,324.3 L887.4,324.5 L888.5,324.5 L889.7,324.3 L890.9,324.2 L892.1,324.1 L893.3,324.1 L894.5,324.2 L895.7,324.2 L896.8,324.1 L898.0,324.0 L899.2,324.0 L900.4,324.0 L901.6,324.2 L902.8,324.3 L904.0,324.3 L905.1,324.2 L906.3,324.0 L907.5,323.9 L908.7,323.7 L909.9,323.6 L911.1,323.6 L912.3,323.6 L913.4,323.7 L914.6,323.8 L915.8,323.8 L917.0,323.6 L918.2,323.6 L919.4,323.6 L920.6,323.8 L921.7,323.9 L922.9,323.9 L924.1,323.7 L925.3,323.5 L926.5,323.2 L927.7,323.0 L928.9,322.9 L930.1,322.9 L931.2,323.2 L932.4,323.4 L933.6,323.8 L934.8,324.1 L936.0,324.1 L937.2,324.0 L938.4,323.8 L939.5,323.5 L940.7,323.3 L941.9,323.2 L943.1,323.3 L944.3,323.5 L945.5,323.8 L946.7,324.0 L947.8,324.0 L949.0,323.8 L950.2,323.5 L951.4,323.2 L952.6,322.9 L953.8,322.7 L955.0,322.7 L956.1,322.6 L957.3,322.5 L958.5,322.4 L959.7,322.4 L960.9,322.4 L962.1,322.5 L963.3,322.5 L964.4,322.5 L965.6,322.5 L966.8,322.6 L968.0,322.7 L969.2,322.7 L970.4,322.7 L971.6,322.6 L972.8,322.5 L973.9,322.4 L975.1,322.3 L976.3,322.1 L977.5,321.8 L978.7,321.7 L979.9,321.6 L981.1,321.7 L982.2,322.1 L983.4,322.5 L984.6,322.8 L985.8,322.9 L987.0,322.9 L988.2,322.5 L989.4,322.1 L990.5,321.9 L991.7,321.8 L992.9,322.1 L994.1,322.4 L995.3,322.7 L996.5,322.6 L997.7,322.2 L998.8,321.6 L1000.0,321.0 L1001.2,320.6 L1002.4,320.4 L1003.6,320.1 L1004.8,319.7 L1006.0,319.2 L1007.1,318.4 L1008.3,317.5 L1009.5,316.6 L1010.7,315.7 L1011.9,314.9 L1013.1,314.1 L1014.3,312.9 L1015.4,311.0 L1016.6,309.0 L1017.8,307.1 L1019.0,305.4 L1020.2,303.6 L1021.4,300.2 L1022.6,296.3 L1023.8,292.3 L1024.9,278.8 L1026.1,267.1 L1027.3,256.9 L1028.5,246.7 L1029.7,236.8 L1030.9,227.0 L1032.1,222.4 L1033.2,234.1 L1034.4,246.0 L1035.6,257.6 L1036.8,268.9 L1038.0,280.6 L1039.2,292.4 L1040.4,300.7 L1041.5,307.0 L1042.7,312.1 L1043.9,315.2 L1045.1,317.4 L1046.3,319.5 L1047.5,321.4 L1048.7,322.4 L1049.8,322.3 L1051.0,322.3 L1052.2,322.3 L1053.4,322.3 L1054.6,322.5 L1055.8,322.5 L1057.0,322.7 L1058.1,322.7 L1059.3,322.6 L1060.5,322.3 L1061.7,322.1 L1062.9,322.0 L1064.1,322.0 L1065.3,322.0 L1066.4,322.2 L1067.6,322.2 L1068.8,322.1 L1070.0,322.1 L1071.2,322.1 L1072.4,322.2 L1073.6,322.4 L1074.8,322.4 L1075.9,322.5 L1077.1,322.4 L1078.3,322.3 L1079.5,322.1 L1080.7,322.0 L1081.9,322.1 L1083.1,322.2 L1084.2,322.1 L1085.4,322.0 L1086.6,321.8 L1087.8,321.9 L1089.0,322.2 L1090.2,322.6 L1091.4,322.9 L1092.5,323.0 L1093.7,322.9 L1094.9,322.7 L1096.1,322.7 L1097.3,322.7 L1098.5,322.9 L1099.7,323.1 L1100.8,323.2 L1102.0,323.2 L1103.2,323.0 L1104.4,322.9 L1105.6,322.9 L1106.8,323.1 L1108.0,323.4 L1109.1,323.7 L1110.3,323.7 L1111.5,323.6 L1112.7,323.4 L1113.9,323.1 L1115.1,322.8 L1116.3,322.6 L1117.5,322.5 L1118.6,322.4 L1119.8,322.5 L1121.0,322.6 L1122.2,322.7 L1123.4,322.8 L1124.6,323.0 L1125.8,323.3 L1126.9,323.6 L1128.1,323.8 L1129.3,323.9 L1130.5,323.9 L1131.7,323.8 L1132.9,323.8 L1134.1,323.8 L1135.2,323.7 L1136.4,323.5 L1137.6,323.3 L1138.8,323.2 L1140.0,323.3 L1141.2,323.5 L1142.4,323.6 L1143.5,323.6 L1144.7,323.5 L1145.9,323.2 L1147.1,322.9 L1148.3,322.5 L1149.5,322.1 L1150.7,321.8 L1151.8,321.7 L1153.0,321.7 L1154.2,321.9 L1155.4,322.0 L1156.6,322.0 L1157.8,322.0 L1159.0,322.0 L1160.1,322.2 L1161.3,322.5 L1162.5,322.7 L1163.7,322.8 L1164.9,322.8 L1166.1,322.8 L1167.3,322.8 L1168.5,322.9 L1169.6,322.8 L1170.8,322.6 L1172.0,322.2 L1173.2,321.9 L1174.4,321.7 L1175.6,321.6 L1176.8,321.6 L1177.9,321.5 L1179.1,321.2 L1180.3,320.6 L1181.5,319.8 L1182.7,318.9 L1183.9,318.0 L1185.1,317.1 L1186.2,316.2 L1187.4,315.3 L1188.6,314.2 L1189.8,312.8 L1191.0,311.3 L1192.2,309.7 L1193.4,308.3 L1194.5,307.4 L1195.7,307.0 L1196.9,307.2 L1198.1,307.9 L1199.3,309.0 L1200.5,310.5 L1201.7,312.2 L1202.8,313.7 L1204.0,315.0 L1205.2,316.1 L1206.4,317.0 L1207.6,317.6 L1208.8,318.0 L1210.0,318.5 L1211.2,319.0 L1212.3,319.8 L1213.5,320.8 L1214.7,321.9 L1215.9,322.8 L1217.1,323.5 L1218.3,323.6 L1219.5,323.4 L1220.6,323.1 L1221.8,322.8 L1223.0,322.6 L1224.2,322.7 L1225.4,322.9 L1226.6,323.2 L1227.8,323.5 L1228.9,323.6 L1230.1,323.6 L1231.3,323.3 L1232.5,323.0 L1233.7,322.8 L1234.9,322.7 L1236.1,322.7 L1237.2,322.7 L1238.4,322.5 L1239.6,322.3 L1240.8,322.2 L1242.0,322.3 L1243.2,322.6 L1244.4,323.0 L1245.5,323.3 L1246.7,323.6 L1247.9,323.8 L1249.1,323.9 L1250.3,323.8 L1251.5,323.7 L1252.7,323.5 L1253.8,323.4 L1255.0,323.4 L1256.2,323.5 L1257.4,323.6 L1258.6,323.8 L1259.8,323.9 L1261.0,323.9 L1262.2,323.8 L1263.3,323.7 L1264.5,323.7 L1265.7,323.7 L1266.9,323.7 L1268.1,323.6 L1269.3,323.4 L1270.5,323.2 L1271.6,322.9 L1272.8,322.8 L1274.0,322.9 L1275.2,323.1 L1276.4,323.4 L1277.6,323.4 L1278.8,323.3 L1279.9,323.0 L1281.1,322.9 L1282.3,323.1 L1283.5,323.4 L1284.7,323.7 L1285.9,323.7 L1287.1,323.7 L1288.2,323.7 L1289.4,323.7 L1290.6,323.8 L1291.8,323.9 L1293.0,324.0 L1294.2,324.1 L1295.4,324.2 L1296.5,324.3 L1297.7,324.4 L1298.9,324.4 L1300.1,324.5 L1301.3,324.6 L1302.5,324.5 L1303.7,324.3 L1304.8,324.1 L1306.0,323.9 L1307.2,323.8 L1308.4,323.8 L1309.6,323.8 L1310.8,323.8 L1312.0,323.7 L1313.2,323.8 L1314.3,323.9 L1315.5,324.0 L1316.7,323.9 L1317.9,323.7 L1319.1,323.6 L1320.3,323.5 L1321.5,323.3 L1322.6,323.2 L1323.8,323.1 L1325.0,323.1 L1326.2,323.1 L1327.4,323.1 L1328.6,322.9 L1329.8,322.7 L1330.9,322.4 L1332.1,321.9 L1333.3,321.2 L1334.5,320.2 L1335.7,319.0 L1336.9,317.9 L1338.1,317.2 L1339.2,316.9 L1340.4,317.0 L1341.6,317.4 L1342.8,318.1 L1344.0,318.8 L1345.2,319.6 L1346.4,320.4 L1347.5,321.0 L1348.7,321.5 L1349.9,321.8 L1351.1,322.0 L1352.3,322.2 L1353.5,322.3 L1354.7,322.4 L1355.9,322.6 L1357.0,322.9 L1358.2,323.3 L1359.4,323.6 L1360.6,323.9 L1361.8,323.9 L1363.0,323.9 L1364.2,323.8 L1365.3,323.7 L1366.5,323.7 L1367.7,323.6 L1368.9,323.7 L1370.1,323.8 L1371.3,324.1 L1372.5,324.2 L1373.6,324.4 L1374.8,324.5 L1376.0,324.7 L1377.2,325.1 L1378.4,325.4 L1379.6,325.6 L1380.8,325.6 L1381.9,325.3 L1383.1,324.9 L1384.3,324.4 L1385.5,323.8 L1386.7,323.4 L1387.9,323.3 L1389.1,323.5 L1390.2,323.8 L1391.4,324.1 L1392.6,324.3 L1393.8,324.3 L1395.0,324.3 L1396.2,324.0 L1397.4,323.8 L1398.5,323.7 L1399.7,323.6 L1400.9,323.6 L1402.1,323.7 L1403.3,323.8 L1404.5,323.9 L1405.7,323.9 L1406.9,323.9 L1408.0,323.9 L1409.2,323.9 L1410.4,323.9 L1411.6,324.0 L1412.8,324.1 L1414.0,324.3 L1415.2,324.4 L1416.3,324.5 L1417.5,324.4 L1418.7,324.4 L1419.9,324.3 L1421.1,324.4 L1422.3,324.6 L1423.5,325.0 L1424.6,325.4 L1425.8,325.7 L1427.0,325.9 L1428.2,325.8 L1429.4,325.6 L1430.6,325.3 L1431.8,325.3 L1432.9,325.2 L1434.1,325.1 L1435.3,324.9 L1436.5,324.6 L1437.7,324.4 L1438.9,324.4 L1440.1,324.5 L1441.2,324.8 L1442.4,325.0 L1443.6,325.1 L1444.8,325.0 L1446.0,324.6 L1447.2,324.1 L1448.4,323.7 L1449.6,323.6 L1450.7,323.7 L1451.9,324.0 L1453.1,324.2 L1454.3,324.3 L1455.5,324.3 L1456.7,324.1 L1457.9,324.1 L1459.0,324.1 L1460.2,324.2 L1461.4,324.3 L1462.6,324.3 L1463.8,324.3 L1465.0,324.4 L1466.2,324.6 L1467.3,324.8 L1468.5,324.9 L1469.7,325.0 L1470.9,325.0 L1472.1,324.7 L1473.3,324.4 L1474.5,324.1 L1475.6,324.0 L1476.8,324.3 L1478.0,324.7 L1479.2,325.1 L1480.4,325.2 L1481.6,325.0 L1482.8,324.5 L1483.9,323.9 L1485.1,323.4 L1486.3,323.1 L1487.5,323.0 L1488.7,323.1 L1489.9,323.3 L1491.1,323.6 L1492.2,323.8 L1493.4,323.9 L1494.6,324.1 L1495.8,324.4 L1497.0,324.6 L1498.2,324.8 L1499.4,324.9 L1500.6,324.9 L1501.7,325.0 L1502.9,325.1 L1504.1,325.4 L1505.3,325.7 L1506.5,325.9 L1507.7,326.1 L1508.9,326.1 L1510.0,325.9 L1511.2,325.6 L1512.4,325.4 L1513.6,325.4 L1514.8,325.5 L1516.0,325.7 L1517.2,325.8 L1518.3,325.8 L1519.5,325.6 L1520.7,325.5 L1521.9,325.2 L1523.1,324.9 L1524.3,324.5 L1525.5,324.3 L1526.6,324.3 L1527.8,324.6 L1529.0,325.0 L1530.2,325.6 L1531.4,326.0 L1532.6,326.3 L1533.8,326.1 L1534.9,325.7 L1536.1,325.1 L1537.3,324.7 L1538.5,324.5 L1539.7,324.5 L1540.9,324.8 L1542.1,324.9 L1543.3,324.9 L1544.4,324.8 L1545.6,324.8 L1546.8,324.9 L1548.0,325.1 L1549.2,325.4 L1550.4,325.6 L1551.6,325.8 L1552.7,325.8 L1553.9,325.8 L1555.1,325.6 L1556.3,325.4 L1557.5,325.2 L1558.7,325.0 L1559.9,324.9 L1561.0,324.8 L1562.2,324.9 L1563.4,325.1 L1564.6,325.2 L1565.8,325.4 L1567.0,325.6 L1568.2,325.6 L1569.3,325.6 L1570.5,325.5 L1571.7,325.3 L1572.9,325.0 L1574.1,324.8 L1575.3,324.7 L1576.5,324.5 L1577.6,324.4 L1578.8,324.5 L1580.0,324.6 L1581.2,324.7 L1582.4,324.6 L1583.6,324.5 L1584.8,324.4 L1585.9,324.4 L1587.1,324.3 L1588.3,324.1 L1589.5,323.7 L1590.7,323.1 L1591.9,322.4 L1593.1,321.7 L1594.3,320.8 L1595.4,319.7 L1596.6,318.4 L1597.8,317.0 L1599.0,315.7 L1600.2,314.8 L1601.4,314.3 L1602.6,314.4 L1603.7,314.7 L1604.9,315.2 L1606.1,315.8 L1607.3,316.3 L1608.5,316.6 L1609.7,316.6 L1610.9,316.6 L1612.0,316.5 L1613.2,316.5 L1614.4,316.5 L1615.6,316.9 L1616.8,317.6 L1618.0,318.5 L1619.2,319.6 L1620.3,320.7 L1621.5,321.6 L1622.7,322.3 L1623.9,322.9 L1625.1,323.2 L1626.3,323.4 L1627.5,323.4 L1628.6,323.5 L1629.8,323.6 L1631.0,324.0 L1632.2,324.4 L1633.4,324.7 L1634.6,325.0 L1635.8,324.9 L1637.0,324.7 L1638.1,324.4 L1639.3,324.2 L1640.5,324.2 L1641.7,324.2 L1642.9,324.4 L1644.1,324.7 L1645.3,324.8 L1646.4,324.9 L1647.6,325.0 L1648.8,325.0 L1650.0,325.0 L1651.2,325.0 L1652.4,325.1 L1653.6,325.4 L1654.7,325.6 L1655.9,325.8 L1657.1,325.9 L1658.3,325.9 L1659.5,325.7 L1660.7,325.6 L1661.9,325.5 L1663.0,325.6 L1664.2,325.8 L1665.4,326.0 L1666.6,326.1 L1667.8,326.1 L1669.0,325.9 L1670.2,325.8 L1671.3,325.9 L1672.5,326.1 L1673.7,326.2 L1674.9,326.2 L1676.1,326.1 L1677.3,326.0 L1678.5,326.0 L1679.6,325.9 L1680.8,325.7 L1682.0,325.6 L1683.2,325.5 L1684.4,325.6 L1685.6,325.7 L1686.8,325.7 L1688.0,325.6 L1689.1,325.3 L1690.3,325.2 L1691.5,325.3 L1692.7,325.5 L1693.9,325.7 L1695.1,325.6 L1696.3,325.4 L1697.4,325.2 L1698.6,325.3 L1699.8,325.5 L1701.0,325.8 L1702.2,325.8 L1703.4,325.5 L1704.6,325.2 L1705.7,324.7 L1706.9,324.4 L1708.1,324.1 L1709.3,324.0 L1710.5,323.9 L1711.7,323.9 L1712.9,323.9 L1714.0,323.9 L1715.2,323.6 L1716.4,323.2 L1717.6,322.5 L1718.8,321.7 L1720.0,320.6 L1721.2,319.7 L1722.3,318.7 L1723.5,317.7 L1724.7,316.7 L1725.9,315.6 L1727.1,314.6 L1728.3,314.1 L1729.5,314.1 L1730.6,314.6 L1731.8,315.4 L1733.0,316.4 L1734.2,317.4 L1735.4,318.3 L1736.6,319.2 L1737.8,320.2 L1739.0,321.3 L1740.1,322.2 L1741.3,322.9 L1742.5,323.3 L1743.7,323.4 L1744.9,323.7 L1746.1,324.0 L1747.3,324.4 L1748.4,324.9 L1749.6,325.3 L1750.8,325.6 L1752.0,325.9 L1753.2,326.1 L1754.4,326.2 L1755.6,326.1 L1756.7,326.1 L1757.9,326.0 L1759.1,325.9 L1760.3,325.7 L1761.5,325.7 L1762.7,325.8 L1763.9,325.9 L1765.0,325.9 L1766.2,325.8 L1767.4,325.8 L1768.6,325.7 L1769.8,325.8 L1771.0,325.8 L1772.2,326.0 L1773.3,326.2 L1774.5,326.5 L1775.7,326.8 L1776.9,326.9 L1778.1,326.8 L1779.3,326.6 L1780.5,326.4 L1781.7,326.2 L1782.8,326.0 L1784.0,325.7 L1785.2,325.5 L1786.4,325.4 L1787.6,325.6 L1788.8,325.7 L1790.0,325.9 L1791.1,325.9 L1792.3,325.8 L1793.5,325.6 L1794.7,325.5 L1795.9,325.5 L1797.1,325.5 L1798.3,325.7 L1799.4,326.0 L1800.6,326.1 L1801.5,326.2 L1801.5,326.4" stroke="#0d88c6" stroke-width="5.4"/>
<path class="c" d="M142.5,466.3 L143.7,465.9 L144.9,465.8 L146.1,465.9 L147.2,466.1 L148.4,466.2 L149.6,466.2 L150.8,466.2 L152.0,466.3 L153.2,466.4 L154.4,466.8 L155.5,467.1 L156.7,467.3 L157.9,467.2 L159.1,466.9 L160.3,466.6 L161.5,466.6 L162.7,467.0 L163.8,467.5 L165.0,467.9 L166.2,467.9 L167.4,467.6 L168.6,467.1 L169.8,466.9 L171.0,466.8 L172.2,467.0 L173.3,467.0 L174.5,466.9 L175.7,466.8 L176.9,466.7 L178.1,466.8 L179.3,467.1 L180.5,467.3 L181.6,467.5 L182.8,467.4 L184.0,467.2 L185.2,466.8 L186.4,466.3 L187.6,466.0 L188.8,465.7 L189.9,465.6 L191.1,465.5 L192.3,465.5 L193.5,465.5 L194.7,465.7 L195.9,466.0 L197.1,466.4 L198.2,466.8 L199.4,466.9 L200.6,466.8 L201.8,466.6 L203.0,466.4 L204.2,466.2 L205.4,466.3 L206.5,466.4 L207.7,466.8 L208.9,467.0 L210.1,467.3 L211.3,467.5 L212.5,467.8 L213.7,468.1 L214.9,468.3 L216.0,468.4 L217.2,468.3 L218.4,468.1 L219.6,467.9 L220.8,467.8 L222.0,467.7 L223.2,467.5 L224.3,467.3 L225.5,467.2 L226.7,467.4 L227.9,467.7 L229.1,468.0 L230.3,468.2 L231.5,468.1 L232.6,467.9 L233.8,467.7 L235.0,467.6 L236.2,467.5 L237.4,467.5 L238.6,467.3 L239.8,467.1 L240.9,466.9 L242.1,466.8 L243.3,466.7 L244.5,466.8 L245.7,467.1 L246.9,467.3 L248.1,467.5 L249.2,467.4 L250.4,467.0 L251.6,466.4 L252.8,465.8 L254.0,465.5 L255.2,465.6 L256.4,465.9 L257.5,466.2 L258.7,466.5 L259.9,466.6 L261.1,466.5 L262.3,466.4 L263.5,466.3 L264.7,466.2 L265.9,466.3 L267.0,466.5 L268.2,466.7 L269.4,466.7 L270.6,466.6 L271.8,466.1 L273.0,465.4 L274.2,464.7 L275.3,464.3 L276.5,464.3 L277.7,464.6 L278.9,465.0 L280.1,465.4 L281.3,465.6 L282.5,465.7 L283.6,465.9 L284.8,466.3 L286.0,466.8 L287.2,467.3 L288.4,467.5 L289.6,467.4 L290.8,467.0 L291.9,466.5 L293.1,466.2 L294.3,465.9 L295.5,465.9 L296.7,465.9 L297.9,466.1 L299.1,466.2 L300.2,466.3 L301.4,466.5 L302.6,466.6 L303.8,466.8 L305.0,466.8 L306.2,466.9 L307.4,466.9 L308.6,466.8 L309.7,466.6 L310.9,466.4 L312.1,466.1 L313.3,465.8 L314.5,465.7 L315.7,465.6 L316.9,465.4 L318.0,465.3 L319.2,465.2 L320.4,465.2 L321.6,465.0 L322.8,464.8 L324.0,464.4 L325.2,463.7 L326.3,462.7 L327.5,461.5 L328.7,459.8 L329.9,458.1 L331.1,456.3 L332.3,454.3 L333.5,451.5 L334.6,448.9 L335.8,446.7 L337.0,443.1 L338.2,439.1 L339.4,433.2 L340.6,421.5 L341.8,409.7 L342.9,398.6 L344.1,387.5 L345.3,376.3 L346.5,365.6 L347.7,355.0 L348.9,358.9 L350.1,376.2 L351.2,393.2 L352.4,410.3 L353.6,426.0 L354.8,441.5 L356.0,454.7 L357.2,459.2 L358.4,461.7 L359.6,463.6 L360.7,465.4 L361.9,466.1 L363.1,465.8 L364.3,465.4 L365.5,465.2 L366.7,465.0 L367.9,464.8 L369.0,464.5 L370.2,464.6 L371.4,465.0 L372.6,465.5 L373.8,465.8 L375.0,465.7 L376.2,465.5 L377.3,465.3 L378.5,465.4 L379.7,465.6 L380.9,465.8 L382.1,466.0 L383.3,465.9 L384.5,465.8 L385.6,465.5 L386.8,465.0 L388.0,464.5 L389.2,464.2 L390.4,464.3 L391.6,464.6 L392.8,465.0 L393.9,465.4 L395.1,465.6 L396.3,465.7 L397.5,465.6 L398.7,465.4 L399.9,465.2 L401.1,465.0 L402.2,465.0 L403.4,465.3 L404.6,465.6 L405.8,465.7 L407.0,465.6 L408.2,465.4 L409.4,465.3 L410.6,465.4 L411.7,465.5 L412.9,465.6 L414.1,465.4 L415.3,465.2 L416.5,465.0 L417.7,464.9 L418.9,464.8 L420.0,464.8 L421.2,464.9 L422.4,465.2 L423.6,465.6 L424.8,465.9 L426.0,465.9 L427.2,466.0 L428.3,466.0 L429.5,466.1 L430.7,466.0 L431.9,465.9 L433.1,465.9 L434.3,466.0 L435.5,466.4 L436.6,466.7 L437.8,466.8 L439.0,466.7 L440.2,466.5 L441.4,466.3 L442.6,466.2 L443.8,466.2 L444.9,466.1 L446.1,465.9 L447.3,465.7 L448.5,465.4 L449.7,465.2 L450.9,465.1 L452.1,465.2 L453.3,465.6 L454.4,465.9 L455.6,466.1 L456.8,466.0 L458.0,465.9 L459.2,465.8 L460.4,465.8 L461.6,465.7 L462.7,465.6 L463.9,465.5 L465.1,465.3 L466.3,465.0 L467.5,465.0 L468.7,465.2 L469.9,465.3 L471.0,465.3 L472.2,465.2 L473.4,465.2 L474.6,465.1 L475.8,465.2 L477.0,465.4 L478.2,465.7 L479.3,466.0 L480.5,466.3 L481.7,466.3 L482.9,466.2 L484.1,466.2 L485.3,466.3 L486.5,466.5 L487.6,466.7 L488.8,466.8 L490.0,466.8 L491.2,466.8 L492.4,466.7 L493.6,466.6 L494.8,466.5 L495.9,466.1 L497.1,465.7 L498.3,465.4 L499.5,465.4 L500.7,465.5 L501.9,465.8 L503.1,465.9 L504.3,465.9 L505.4,465.8 L506.6,465.7 L507.8,465.7 L509.0,465.7 L510.2,465.7 L511.4,465.4 L512.6,465.0 L513.7,464.6 L514.9,464.4 L516.1,464.5 L517.3,464.9 L518.5,465.3 L519.7,465.5 L520.9,465.7 L522.0,465.6 L523.2,465.4 L524.4,464.9 L525.6,464.5 L526.8,464.0 L528.0,463.6 L529.2,463.4 L530.3,463.4 L531.5,463.6 L532.7,464.0 L533.9,464.4 L535.1,464.8 L536.3,465.1 L537.5,465.4 L538.6,465.5 L539.8,465.4 L541.0,465.3 L542.2,465.2 L543.4,465.0 L544.6,464.9 L545.8,465.0 L547.0,465.0 L548.1,465.0 L549.3,464.9 L550.5,464.8 L551.7,464.7 L552.9,464.9 L554.1,465.1 L555.3,465.2 L556.4,465.4 L557.6,465.6 L558.8,465.8 L560.0,465.8 L561.2,465.7 L562.4,465.6 L563.6,465.4 L564.7,465.2 L565.9,465.0 L567.1,464.9 L568.3,464.9 L569.5,465.1 L570.7,465.4 L571.9,465.7 L573.0,465.8 L574.2,465.7 L575.4,465.5 L576.6,465.1 L577.8,464.7 L579.0,464.3 L580.2,463.9 L581.3,464.0 L582.5,464.3 L583.7,464.7 L584.9,464.9 L586.1,465.0 L587.3,464.9 L588.5,465.0 L589.6,465.2 L590.8,465.4 L592.0,465.3 L593.2,465.0 L594.4,464.6 L595.6,464.2 L596.8,464.0 L598.0,464.0 L599.1,464.1 L600.3,464.1 L601.5,464.0 L602.7,463.8 L603.9,463.4 L605.1,462.9 L606.3,462.6 L607.4,462.6 L608.6,463.0 L609.8,463.6 L611.0,464.2 L612.2,464.4 L613.4,464.3 L614.6,463.7 L615.7,463.0 L616.9,462.3 L618.1,461.7 L619.3,461.2 L620.5,460.4 L621.7,459.4 L622.9,458.1 L624.0,456.7 L625.2,455.2 L626.4,453.7 L627.6,452.8 L628.8,452.3 L630.0,452.4 L631.2,453.0 L632.3,454.1 L633.5,455.5 L634.7,457.0 L635.9,458.4 L637.1,459.5 L638.3,460.6 L639.5,461.5 L640.6,462.0 L641.8,462.2 L643.0,462.3 L644.2,462.5 L645.4,462.7 L646.6,462.9 L647.8,463.3 L649.0,463.7 L650.1,464.0 L651.3,464.2 L652.5,464.1 L653.7,463.7 L654.9,463.4 L656.1,463.2 L657.3,463.2 L658.4,463.3 L659.6,463.3 L660.8,463.0 L662.0,462.7 L663.2,462.4 L664.4,462.3 L665.6,462.4 L666.7,462.5 L667.9,462.5 L669.1,462.4 L670.3,462.2 L671.5,462.2 L672.7,462.4 L673.9,462.6 L675.0,463.0 L676.2,463.5 L677.4,464.0 L678.6,464.2 L679.8,464.2 L681.0,464.0 L682.2,463.6 L683.3,463.3 L684.5,463.2 L685.7,463.3 L686.9,463.4 L688.1,463.4 L689.3,463.4 L690.5,463.3 L691.7,462.8 L692.8,462.2 L694.0,461.7 L695.2,461.4 L696.4,461.5 L697.6,461.9 L698.8,462.3 L700.0,462.6 L701.1,462.9 L702.3,463.2 L703.5,463.3 L704.7,463.3 L705.9,463.4 L707.1,463.7 L708.3,463.9 L709.4,464.0 L710.6,463.8 L711.8,463.2 L713.0,462.5 L714.2,461.9 L715.4,461.6 L716.6,461.6 L717.7,461.5 L718.9,461.3 L720.1,460.9 L721.3,460.6 L722.5,460.6 L723.7,460.6 L724.9,460.7 L726.0,460.8 L727.2,460.8 L728.4,460.9 L729.6,461.0 L730.8,460.9 L732.0,460.7 L733.2,460.4 L734.3,460.3 L735.5,460.2 L736.7,460.3 L737.9,460.5 L739.1,460.8 L740.3,461.0 L741.5,461.2 L742.7,461.3 L743.8,461.2 L745.0,461.0 L746.2,460.6 L747.4,460.4 L748.6,460.4 L749.8,460.6 L751.0,460.6 L752.1,460.5 L753.3,460.2 L754.5,460.1 L755.7,460.1 L756.9,460.2 L758.1,460.2 L759.3,460.2 L760.4,460.2 L761.6,460.1 L762.8,460.2 L764.0,460.3 L765.2,460.5 L766.4,460.7 L767.6,460.8 L768.7,460.9 L769.9,460.9 L771.1,460.8 L772.3,460.6 L773.5,460.3 L774.7,460.0 L775.9,459.7 L777.0,459.1 L778.2,458.4 L779.4,457.6 L780.6,456.8 L781.8,456.4 L783.0,456.3 L784.2,456.2 L785.4,456.0 L786.5,455.6 L787.7,454.9 L788.9,454.1 L790.1,453.3 L791.3,452.5 L792.5,451.8 L793.7,451.2 L794.8,450.6 L796.0,450.0 L797.2,449.5 L798.4,449.2 L799.6,448.9 L800.8,448.9 L802.0,449.0 L803.1,449.6 L804.3,450.1 L805.5,450.8 L806.7,451.5 L807.9,452.1 L809.1,452.6 L810.3,453.0 L811.4,453.3 L812.6,453.2 L813.8,453.2 L815.0,453.4 L816.2,453.9 L817.4,454.4 L818.6,455.0 L819.7,455.5 L820.9,455.9 L822.1,456.1 L823.3,456.4 L824.5,456.5 L825.7,456.6 L826.9,456.5 L828.0,456.4 L829.2,456.2 L830.4,455.7 L831.6,454.9 L832.8,453.8 L834.0,452.6 L835.2,451.3 L836.4,449.8 L837.5,448.0 L838.7,446.1 L839.9,444.3 L841.1,442.5 L842.3,440.9 L843.5,439.6 L844.7,439.2 L845.8,439.6 L847.0,440.9 L848.2,442.7 L849.4,444.7 L850.6,446.7 L851.8,448.7 L853.0,450.5 L854.1,452.2 L855.3,453.6 L856.5,454.8 L857.7,455.7 L858.9,456.5 L860.1,457.1 L861.3,457.6 L862.4,458.2 L863.6,458.9 L864.8,459.4 L866.0,459.8 L867.2,460.0 L868.4,459.9 L869.6,459.6 L870.7,459.2 L871.9,458.8 L873.1,458.7 L874.3,458.9 L875.5,459.2 L876.7,459.5 L877.9,459.4 L879.1,459.3 L880.2,459.1 L881.4,459.1 L882.6,459.4 L883.8,460.0 L885.0,460.4 L886.2,460.8 L887.4,460.8 L888.5,460.6 L889.7,460.2 L890.9,459.8 L892.1,459.6 L893.3,459.7 L894.5,459.8 L895.7,459.7 L896.8,459.4 L898.0,459.2 L899.2,458.9 L900.4,458.7 L901.6,458.5 L902.8,458.3 L904.0,458.0 L905.1,457.8 L906.3,457.6 L907.5,457.6 L908.7,457.6 L909.9,457.7 L911.1,458.0 L912.3,458.5 L913.4,459.1 L914.6,459.5 L915.8,459.7 L917.0,459.6 L918.2,459.3 L919.4,459.2 L920.6,459.3 L921.7,459.6 L922.9,459.7 L924.1,459.7 L925.3,459.6 L926.5,459.5 L927.7,459.6 L928.9,459.6 L930.1,459.5 L931.2,459.4 L932.4,459.3 L933.6,459.2 L934.8,459.1 L936.0,459.1 L937.2,459.1 L938.4,459.3 L939.5,459.5 L940.7,459.7 L941.9,459.7 L943.1,459.6 L944.3,459.5 L945.5,459.4 L946.7,459.6 L947.8,459.7 L949.0,459.7 L950.2,459.7 L951.4,459.7 L952.6,459.6 L953.8,459.5 L955.0,459.2 L956.1,458.7 L957.3,458.1 L958.5,457.6 L959.7,457.3 L960.9,457.3 L962.1,457.4 L963.3,457.6 L964.4,457.8 L965.6,458.0 L966.8,458.0 L968.0,457.8 L969.2,457.7 L970.4,457.7 L971.6,457.7 L972.8,457.8 L973.9,458.0 L975.1,458.1 L976.3,458.2 L977.5,458.3 L978.7,458.4 L979.9,458.5 L981.1,458.5 L982.2,458.1 L983.4,457.7 L984.6,457.3 L985.8,457.2 L987.0,457.4 L988.2,457.7 L989.4,458.0 L990.5,458.2 L991.7,458.3 L992.9,458.1 L994.1,458.0 L995.3,457.9 L996.5,457.8 L997.7,457.6 L998.8,457.1 L1000.0,456.6 L1001.2,456.1 L1002.4,455.8 L1003.6,455.6 L1004.8,455.3 L1006.0,454.9 L1007.1,454.2 L1008.3,453.5 L1009.5,452.8 L1010.7,452.2 L1011.9,451.5 L1013.1,450.5 L1014.3,448.9 L1015.4,446.6 L1016.6,444.1 L1017.8,441.9 L1019.0,439.7 L1020.2,437.8 L1021.4,434.3 L1022.6,430.5 L1023.8,426.6 L1024.9,412.6 L1026.1,400.1 L1027.3,389.2 L1028.5,378.3 L1029.7,368.0 L1030.9,358.0 L1032.1,353.4 L1033.2,365.8 L1034.4,378.3 L1035.6,390.6 L1036.8,402.7 L1038.0,415.1 L1039.2,427.4 L1040.4,436.0 L1041.5,442.5 L1042.7,447.9 L1043.9,451.1 L1045.1,453.4 L1046.3,455.6 L1047.5,457.8 L1048.7,459.1 L1049.8,459.2 L1051.0,459.2 L1052.2,459.0 L1053.4,458.5 L1054.6,458.0 L1055.8,457.7 L1057.0,457.9 L1058.1,458.4 L1059.3,458.9 L1060.5,459.2 L1061.7,459.3 L1062.9,459.1 L1064.1,459.0 L1065.3,458.8 L1066.4,458.5 L1067.6,458.2 L1068.8,457.8 L1070.0,457.4 L1071.2,457.3 L1072.4,457.4 L1073.6,457.6 L1074.8,457.9 L1075.9,458.0 L1077.1,457.9 L1078.3,457.7 L1079.5,457.5 L1080.7,457.5 L1081.9,457.6 L1083.1,457.7 L1084.2,458.0 L1085.4,458.3 L1086.6,458.6 L1087.8,458.7 L1089.0,458.3 L1090.2,457.7 L1091.4,457.1 L1092.5,456.7 L1093.7,456.7 L1094.9,457.1 L1096.1,457.5 L1097.3,457.8 L1098.5,457.9 L1099.7,458.0 L1100.8,458.3 L1102.0,458.7 L1103.2,459.0 L1104.4,459.0 L1105.6,458.6 L1106.8,458.1 L1108.0,457.8 L1109.1,457.8 L1110.3,458.2 L1111.5,458.7 L1112.7,459.1 L1113.9,459.4 L1115.1,459.4 L1116.3,459.2 L1117.5,458.8 L1118.6,458.6 L1119.8,458.5 L1121.0,458.7 L1122.2,458.9 L1123.4,459.0 L1124.6,459.0 L1125.8,459.0 L1126.9,459.0 L1128.1,459.0 L1129.3,458.9 L1130.5,458.7 L1131.7,458.6 L1132.9,458.6 L1134.1,458.6 L1135.2,458.7 L1136.4,458.6 L1137.6,458.6 L1138.8,458.8 L1140.0,459.1 L1141.2,459.3 L1142.4,459.4 L1143.5,459.1 L1144.7,458.7 L1145.9,458.4 L1147.1,458.2 L1148.3,458.2 L1149.5,458.4 L1150.7,458.6 L1151.8,458.5 L1153.0,458.4 L1154.2,458.4 L1155.4,458.5 L1156.6,458.7 L1157.8,459.0 L1159.0,459.3 L1160.1,459.5 L1161.3,459.4 L1162.5,459.2 L1163.7,458.7 L1164.9,458.4 L1166.1,458.2 L1167.3,458.3 L1168.5,458.4 L1169.6,458.5 L1170.8,458.5 L1172.0,458.1 L1173.2,457.6 L1174.4,457.1 L1175.6,456.6 L1176.8,456.1 L1177.9,455.6 L1179.1,454.9 L1180.3,454.1 L1181.5,453.0 L1182.7,451.8 L1183.9,450.2 L1185.1,448.2 L1186.2,446.0 L1187.4,443.7 L1188.6,441.1 L1189.8,438.4 L1191.0,435.5 L1192.2,432.7 L1193.4,430.3 L1194.5,428.7 L1195.7,428.2 L1196.9,428.9 L1198.1,430.7 L1199.3,433.1 L1200.5,435.9 L1201.7,438.7 L1202.8,441.6 L1204.0,444.3 L1205.2,446.9 L1206.4,449.0 L1207.6,450.9 L1208.8,452.5 L1210.0,453.9 L1211.2,454.9 L1212.3,455.8 L1213.5,456.4 L1214.7,456.9 L1215.9,457.2 L1217.1,457.4 L1218.3,457.5 L1219.5,457.6 L1220.6,457.4 L1221.8,457.3 L1223.0,457.3 L1224.2,457.4 L1225.4,457.7 L1226.6,458.0 L1227.8,458.5 L1228.9,459.0 L1230.1,459.4 L1231.3,459.8 L1232.5,460.0 L1233.7,460.1 L1234.9,460.1 L1236.1,460.2 L1237.2,460.2 L1238.4,460.3 L1239.6,460.5 L1240.8,460.9 L1242.0,461.4 L1243.2,461.8 L1244.4,461.8 L1245.5,461.5 L1246.7,461.0 L1247.9,460.7 L1249.1,460.5 L1250.3,460.5 L1251.5,460.5 L1252.7,460.6 L1253.8,460.6 L1255.0,460.7 L1256.2,460.8 L1257.4,461.1 L1258.6,461.4 L1259.8,461.6 L1261.0,461.7 L1262.2,461.8 L1263.3,461.7 L1264.5,461.7 L1265.7,461.6 L1266.9,461.6 L1268.1,461.5 L1269.3,461.3 L1270.5,461.0 L1271.6,460.6 L1272.8,460.4 L1274.0,460.4 L1275.2,460.7 L1276.4,461.1 L1277.6,461.5 L1278.8,461.7 L1279.9,461.7 L1281.1,461.9 L1282.3,462.0 L1283.5,462.3 L1284.7,462.4 L1285.9,462.3 L1287.1,462.3 L1288.2,462.3 L1289.4,462.3 L1290.6,462.1 L1291.8,461.7 L1293.0,461.2 L1294.2,460.5 L1295.4,460.0 L1296.5,459.7 L1297.7,459.6 L1298.9,459.5 L1300.1,459.5 L1301.3,459.5 L1302.5,459.6 L1303.7,459.8 L1304.8,460.0 L1306.0,460.2 L1307.2,460.4 L1308.4,460.6 L1309.6,460.9 L1310.8,461.2 L1312.0,461.7 L1313.2,462.0 L1314.3,462.1 L1315.5,461.9 L1316.7,461.6 L1317.9,461.4 L1319.1,461.3 L1320.3,461.3 L1321.5,461.4 L1322.6,461.4 L1323.8,461.2 L1325.0,460.9 L1326.2,460.6 L1327.4,460.2 L1328.6,459.8 L1329.8,459.4 L1330.9,459.0 L1332.1,458.8 L1333.3,458.8 L1334.5,458.7 L1335.7,458.5 L1336.9,458.1 L1338.1,457.8 L1339.2,457.7 L1340.4,457.8 L1341.6,458.0 L1342.8,458.4 L1344.0,458.8 L1345.2,459.2 L1346.4,459.5 L1347.5,459.6 L1348.7,459.5 L1349.9,459.4 L1351.1,459.4 L1352.3,459.6 L1353.5,460.0 L1354.7,460.5 L1355.9,461.0 L1357.0,461.3 L1358.2,461.4 L1359.4,461.3 L1360.6,461.3 L1361.8,461.3 L1363.0,461.3 L1364.2,461.3 L1365.3,461.2 L1366.5,461.0 L1367.7,460.9 L1368.9,460.8 L1370.1,460.8 L1371.3,461.1 L1372.5,461.6 L1373.6,462.1 L1374.8,462.2 L1376.0,462.0 L1377.2,461.5 L1378.4,461.1 L1379.6,460.7 L1380.8,460.5 L1381.9,460.3 L1383.1,460.3 L1384.3,460.5 L1385.5,460.8 L1386.7,460.9 L1387.9,460.9 L1389.1,460.7 L1390.2,460.5 L1391.4,460.5 L1392.6,460.6 L1393.8,460.5 L1395.0,460.3 L1396.2,460.1 L1397.4,460.0 L1398.5,460.1 L1399.7,460.1 L1400.9,460.1 L1402.1,460.1 L1403.3,460.3 L1404.5,460.5 L1405.7,460.8 L1406.9,460.9 L1408.0,460.6 L1409.2,460.0 L1410.4,459.4 L1411.6,459.1 L1412.8,459.1 L1414.0,459.3 L1415.2,459.6 L1416.3,459.9 L1417.5,460.3 L1418.7,460.9 L1419.9,461.4 L1421.1,462.1 L1422.3,462.4 L1423.5,462.5 L1424.6,462.3 L1425.8,462.0 L1427.0,461.6 L1428.2,461.3 L1429.4,461.0 L1430.6,460.8 L1431.8,460.9 L1432.9,461.4 L1434.1,462.0 L1435.3,462.7 L1436.5,463.2 L1437.7,463.6 L1438.9,463.8 L1440.1,464.0 L1441.2,464.0 L1442.4,463.8 L1443.6,463.3 L1444.8,462.6 L1446.0,462.1 L1447.2,461.7 L1448.4,461.5 L1449.6,461.6 L1450.7,461.9 L1451.9,462.3 L1453.1,462.6 L1454.3,463.0 L1455.5,463.2 L1456.7,463.1 L1457.9,462.9 L1459.0,462.7 L1460.2,462.5 L1461.4,462.4 L1462.6,462.4 L1463.8,462.4 L1465.0,462.1 L1466.2,461.7 L1467.3,461.4 L1468.5,461.1 L1469.7,461.1 L1470.9,461.3 L1472.1,461.4 L1473.3,461.4 L1474.5,461.2 L1475.6,461.1 L1476.8,461.3 L1478.0,461.4 L1479.2,461.5 L1480.4,461.3 L1481.6,461.0 L1482.8,461.0 L1483.9,461.2 L1485.1,461.4 L1486.3,461.6 L1487.5,461.8 L1488.7,462.0 L1489.9,462.2 L1491.1,462.5 L1492.2,462.6 L1493.4,462.6 L1494.6,462.3 L1495.8,462.0 L1497.0,461.6 L1498.2,461.4 L1499.4,461.3 L1500.6,461.1 L1501.7,460.8 L1502.9,460.4 L1504.1,459.9 L1505.3,459.5 L1506.5,459.4 L1507.7,459.6 L1508.9,460.0 L1510.0,460.4 L1511.2,460.7 L1512.4,460.8 L1513.6,460.6 L1514.8,460.4 L1516.0,460.1 L1517.2,460.2 L1518.3,460.4 L1519.5,460.8 L1520.7,461.0 L1521.9,461.1 L1523.1,461.1 L1524.3,461.2 L1525.5,461.6 L1526.6,462.0 L1527.8,462.4 L1529.0,462.4 L1530.2,462.4 L1531.4,462.2 L1532.6,462.1 L1533.8,462.1 L1534.9,462.4 L1536.1,462.8 L1537.3,463.2 L1538.5,463.5 L1539.7,463.5 L1540.9,463.3 L1542.1,462.8 L1543.3,462.3 L1544.4,462.0 L1545.6,461.9 L1546.8,462.0 L1548.0,462.4 L1549.2,462.8 L1550.4,463.3 L1551.6,463.5 L1552.7,463.5 L1553.9,463.5 L1555.1,463.3 L1556.3,463.0 L1557.5,462.6 L1558.7,462.3 L1559.9,461.9 L1561.0,461.8 L1562.2,461.6 L1563.4,461.7 L1564.6,461.7 L1565.8,461.9 L1567.0,462.2 L1568.2,462.4 L1569.3,462.4 L1570.5,462.2 L1571.7,461.6 L1572.9,461.2 L1574.1,461.1 L1575.3,461.3 L1576.5,461.7 L1577.6,462.1 L1578.8,462.3 L1580.0,462.2 L1581.2,462.0 L1582.4,461.7 L1583.6,461.4 L1584.8,461.1 L1585.9,460.7 L1587.1,460.4 L1588.3,460.1 L1589.5,459.8 L1590.7,459.4 L1591.9,458.8 L1593.1,457.9 L1594.3,456.7 L1595.4,455.5 L1596.6,454.4 L1597.8,453.4 L1599.0,452.6 L1600.2,451.6 L1601.4,450.6 L1602.6,449.5 L1603.7,448.5 L1604.9,448.2 L1606.1,448.2 L1607.3,448.6 L1608.5,449.2 L1609.7,449.9 L1610.9,450.7 L1612.0,451.5 L1613.2,452.2 L1614.4,452.9 L1615.6,453.5 L1616.8,454.3 L1618.0,455.2 L1619.2,456.2 L1620.3,457.4 L1621.5,458.5 L1622.7,459.5 L1623.9,460.3 L1625.1,460.7 L1626.3,460.6 L1627.5,460.5 L1628.6,460.5 L1629.8,460.6 L1631.0,460.9 L1632.2,461.2 L1633.4,461.4 L1634.6,461.3 L1635.8,461.0 L1637.0,460.7 L1638.1,460.5 L1639.3,460.5 L1640.5,460.8 L1641.7,461.2 L1642.9,461.6 L1644.1,461.9 L1645.3,461.9 L1646.4,461.8 L1647.6,461.6 L1648.8,461.5 L1650.0,461.8 L1651.2,462.4 L1652.4,463.1 L1653.6,463.5 L1654.7,463.6 L1655.9,463.2 L1657.1,462.6 L1658.3,462.1 L1659.5,461.9 L1660.7,462.0 L1661.9,462.3 L1663.0,462.6 L1664.2,462.7 L1665.4,462.6 L1666.6,462.6 L1667.8,462.4 L1669.0,462.3 L1670.2,462.1 L1671.3,461.9 L1672.5,461.5 L1673.7,461.3 L1674.9,461.3 L1676.1,461.5 L1677.3,462.0 L1678.5,462.5 L1679.6,462.8 L1680.8,462.9 L1682.0,462.9 L1683.2,462.6 L1684.4,462.2 L1685.6,462.0 L1686.8,462.0 L1688.0,462.2 L1689.1,462.3 L1690.3,462.5 L1691.5,462.5 L1692.7,462.7 L1693.9,462.9 L1695.1,463.2 L1696.3,463.4 L1697.4,463.6 L1698.6,463.8 L1699.8,463.8 L1701.0,463.7 L1702.2,463.4 L1703.4,462.7 L1704.6,462.0 L1705.7,461.5 L1706.9,461.2 L1708.1,461.3 L1709.3,461.6 L1710.5,461.9 L1711.7,462.0 L1712.9,461.7 L1714.0,461.4 L1715.2,461.0 L1716.4,460.5 L1717.6,460.0 L1718.8,459.2 L1720.0,458.4 L1721.2,457.3 L1722.3,456.2 L1723.5,454.8 L1724.7,453.4 L1725.9,452.0 L1727.1,450.9 L1728.3,450.3 L1729.5,450.4 L1730.6,451.2 L1731.8,452.7 L1733.0,454.5 L1734.2,456.4 L1735.4,457.9 L1736.6,458.9 L1737.8,459.5 L1739.0,459.8 L1740.1,460.1 L1741.3,460.6 L1742.5,461.4 L1743.7,462.3 L1744.9,462.9 L1746.1,463.2 L1747.3,463.0 L1748.4,462.7 L1749.6,462.6 L1750.8,462.7 L1752.0,463.1 L1753.2,463.5 L1754.4,463.8 L1755.6,464.0 L1756.7,463.9 L1757.9,463.6 L1759.1,463.1 L1760.3,462.7 L1761.5,462.5 L1762.7,462.4 L1763.9,462.4 L1765.0,462.4 L1766.2,462.4 L1767.4,462.3 L1768.6,462.4 L1769.8,462.5 L1771.0,462.6 L1772.2,462.7 L1773.3,462.7 L1774.5,462.7 L1775.7,462.7 L1776.9,462.7 L1778.1,462.7 L1779.3,462.7 L1780.5,462.7 L1781.7,462.8 L1782.8,463.0 L1784.0,463.3 L1785.2,463.7 L1786.4,464.0 L1787.6,464.2 L1788.8,464.2 L1790.0,463.9 L1791.1,463.5 L1792.3,463.1 L1793.5,463.0 L1794.7,463.1 L1795.9,463.4 L1797.1,463.5 L1798.3,463.5 L1799.4,463.4 L1800.6,463.2 L1801.5,463.0 L1801.5,462.8" stroke="#05b450" stroke-width="5.4"/>
<path class="c" d="M142.5,604.7 L143.7,604.8 L144.9,604.9 L146.1,605.0 L147.2,605.3 L148.4,605.6 L149.6,606.0 L150.8,606.2 L152.0,606.3 L153.2,606.4 L154.4,606.4 L155.5,606.5 L156.7,606.7 L157.9,607.0 L159.1,607.2 L160.3,607.2 L161.5,607.0 L162.7,606.6 L163.8,606.0 L165.0,605.5 L166.2,605.3 L167.4,605.3 L168.6,605.4 L169.8,605.6 L171.0,605.7 L172.2,605.7 L173.3,605.5 L174.5,605.5 L175.7,605.8 L176.9,606.3 L178.1,607.1 L179.3,607.8 L180.5,608.3 L181.6,608.2 L182.8,607.6 L184.0,606.8 L185.2,606.2 L186.4,606.1 L187.6,606.3 L188.8,606.6 L189.9,606.8 L191.1,606.8 L192.3,606.6 L193.5,606.4 L194.7,606.2 L195.9,606.0 L197.1,606.0 L198.2,606.1 L199.4,606.5 L200.6,606.7 L201.8,606.6 L203.0,606.1 L204.2,605.5 L205.4,604.9 L206.5,604.6 L207.7,604.5 L208.9,604.6 L210.1,604.7 L211.3,605.0 L212.5,605.3 L213.7,605.8 L214.9,606.2 L216.0,606.6 L217.2,606.9 L218.4,606.9 L219.6,606.6 L220.8,606.2 L222.0,605.7 L223.2,605.4 L224.3,605.5 L225.5,605.6 L226.7,605.7 L227.9,605.7 L229.1,605.8 L230.3,606.0 L231.5,606.3 L232.6,606.4 L233.8,606.4 L235.0,606.0 L236.2,605.5 L237.4,604.9 L238.6,604.5 L239.8,604.6 L240.9,605.1 L242.1,605.9 L243.3,606.6 L244.5,606.9 L245.7,606.7 L246.9,606.2 L248.1,605.8 L249.2,605.5 L250.4,605.6 L251.6,605.8 L252.8,606.1 L254.0,606.4 L255.2,606.6 L256.4,606.9 L257.5,607.1 L258.7,607.2 L259.9,607.1 L261.1,606.8 L262.3,606.6 L263.5,606.5 L264.7,606.4 L265.9,606.2 L267.0,606.0 L268.2,605.7 L269.4,605.5 L270.6,605.4 L271.8,605.4 L273.0,605.3 L274.2,605.1 L275.3,605.0 L276.5,605.1 L277.7,605.2 L278.9,605.5 L280.1,605.7 L281.3,605.6 L282.5,605.1 L283.6,604.5 L284.8,604.0 L286.0,603.8 L287.2,603.9 L288.4,604.1 L289.6,604.3 L290.8,604.4 L291.9,604.4 L293.1,604.5 L294.3,604.7 L295.5,605.2 L296.7,605.8 L297.9,606.4 L299.1,606.7 L300.2,606.7 L301.4,606.4 L302.6,606.2 L303.8,606.2 L305.0,606.3 L306.2,606.4 L307.4,606.3 L308.6,606.0 L309.7,605.6 L310.9,605.2 L312.1,605.0 L313.3,605.1 L314.5,605.1 L315.7,605.1 L316.9,604.8 L318.0,604.6 L319.2,604.2 L320.4,604.0 L321.6,603.6 L322.8,603.2 L324.0,602.4 L325.2,601.2 L326.3,599.7 L327.5,598.1 L328.7,596.4 L329.9,594.8 L331.1,593.3 L332.3,591.7 L333.5,589.4 L334.6,587.0 L335.8,584.8 L337.0,581.0 L338.2,576.3 L339.4,569.8 L340.6,557.6 L341.8,545.7 L342.9,534.7 L344.1,524.0 L345.3,513.2 L346.5,502.9 L347.7,492.6 L348.9,496.8 L350.1,514.6 L351.2,532.1 L352.4,549.4 L353.6,565.4 L354.8,581.0 L356.0,594.3 L357.2,598.6 L358.4,600.8 L359.6,602.4 L360.7,604.2 L361.9,605.3 L363.1,605.7 L364.3,606.1 L365.5,606.5 L366.7,606.7 L367.9,606.7 L369.0,606.7 L370.2,606.4 L371.4,606.0 L372.6,605.6 L373.8,605.1 L375.0,604.8 L376.2,604.7 L377.3,604.7 L378.5,604.8 L379.7,605.0 L380.9,605.1 L382.1,605.1 L383.3,605.1 L384.5,605.1 L385.6,604.9 L386.8,604.8 L388.0,604.7 L389.2,604.7 L390.4,604.7 L391.6,604.7 L392.8,604.7 L393.9,604.8 L395.1,605.0 L396.3,605.2 L397.5,605.4 L398.7,605.4 L399.9,605.3 L401.1,605.2 L402.2,605.1 L403.4,605.0 L404.6,605.2 L405.8,605.3 L407.0,605.4 L408.2,605.3 L409.4,605.2 L410.6,604.9 L411.7,604.7 L412.9,604.7 L414.1,604.9 L415.3,605.4 L416.5,605.8 L417.7,606.1 L418.9,606.1 L420.0,606.0 L421.2,605.6 L422.4,605.2 L423.6,604.9 L424.8,604.7 L426.0,604.8 L427.2,604.8 L428.3,604.7 L429.5,604.6 L430.7,604.5 L431.9,604.3 L433.1,604.1 L434.3,604.0 L435.5,603.9 L436.6,603.9 L437.8,604.1 L439.0,604.5 L440.2,604.8 L441.4,604.8 L442.6,604.6 L443.8,604.2 L444.9,603.9 L446.1,603.6 L447.3,603.2 L448.5,602.9 L449.7,602.7 L450.9,602.9 L452.1,603.2 L453.3,603.7 L454.4,604.1 L455.6,604.3 L456.8,604.5 L458.0,604.6 L459.2,604.6 L460.4,604.7 L461.6,604.8 L462.7,604.9 L463.9,604.9 L465.1,605.1 L466.3,605.4 L467.5,605.6 L468.7,605.7 L469.9,605.8 L471.0,605.6 L472.2,605.4 L473.4,605.2 L474.6,605.0 L475.8,604.8 L477.0,604.7 L478.2,604.7 L479.3,604.9 L480.5,605.1 L481.7,605.3 L482.9,605.3 L484.1,605.1 L485.3,604.7 L486.5,604.3 L487.6,604.0 L488.8,603.9 L490.0,603.8 L491.2,603.7 L492.4,603.7 L493.6,603.8 L494.8,604.1 L495.9,604.4 L497.1,604.9 L498.3,605.3 L499.5,605.5 L500.7,605.6 L501.9,605.7 L503.1,605.8 L504.3,605.9 L505.4,605.8 L506.6,605.6 L507.8,605.4 L509.0,605.2 L510.2,605.1 L511.4,604.9 L512.6,604.8 L513.7,604.5 L514.9,604.4 L516.1,604.2 L517.3,604.0 L518.5,603.9 L519.7,603.8 L520.9,603.8 L522.0,604.0 L523.2,604.2 L524.4,604.5 L525.6,604.7 L526.8,605.0 L528.0,605.3 L529.2,605.5 L530.3,605.8 L531.5,606.1 L532.7,606.1 L533.9,605.8 L535.1,605.2 L536.3,604.7 L537.5,604.3 L538.6,604.0 L539.8,603.9 L541.0,603.7 L542.2,603.4 L543.4,603.0 L544.6,602.8 L545.8,602.9 L547.0,603.2 L548.1,603.6 L549.3,604.0 L550.5,604.2 L551.7,604.3 L552.9,604.3 L554.1,604.5 L555.3,604.7 L556.4,604.8 L557.6,604.9 L558.8,605.0 L560.0,605.0 L561.2,604.9 L562.4,604.7 L563.6,604.6 L564.7,604.4 L565.9,604.2 L567.1,604.0 L568.3,604.0 L569.5,603.9 L570.7,604.0 L571.9,604.1 L573.0,604.2 L574.2,604.2 L575.4,604.1 L576.6,604.0 L577.8,604.0 L579.0,604.2 L580.2,604.4 L581.3,604.5 L582.5,604.6 L583.7,604.6 L584.9,604.4 L586.1,604.2 L587.3,604.2 L588.5,604.2 L589.6,604.1 L590.8,604.0 L592.0,603.9 L593.2,603.9 L594.4,604.0 L595.6,604.1 L596.8,604.0 L598.0,603.8 L599.1,603.5 L600.3,603.4 L601.5,603.7 L602.7,603.9 L603.9,604.0 L605.1,603.7 L606.3,603.3 L607.4,602.9 L608.6,602.6 L609.8,602.6 L611.0,602.5 L612.2,602.2 L613.4,601.7 L614.6,600.9 L615.7,599.9 L616.9,598.8 L618.1,597.5 L619.3,596.1 L620.5,594.8 L621.7,593.7 L622.9,592.6 L624.0,591.7 L625.2,591.1 L626.4,590.8 L627.6,590.6 L628.8,590.7 L630.0,591.1 L631.2,592.0 L632.3,593.1 L633.5,594.4 L634.7,595.8 L635.9,597.3 L637.1,598.7 L638.3,600.0 L639.5,601.0 L640.6,601.8 L641.8,602.3 L643.0,602.7 L644.2,602.9 L645.4,603.0 L646.6,603.0 L647.8,602.8 L649.0,602.5 L650.1,602.3 L651.3,602.1 L652.5,601.8 L653.7,601.5 L654.9,601.2 L656.1,601.1 L657.3,601.3 L658.4,601.7 L659.6,602.2 L660.8,602.4 L662.0,602.4 L663.2,602.3 L664.4,602.4 L665.6,602.6 L666.7,602.9 L667.9,603.0 L669.1,602.9 L670.3,602.6 L671.5,602.3 L672.7,601.9 L673.9,601.7 L675.0,601.5 L676.2,601.4 L677.4,601.3 L678.6,601.3 L679.8,601.5 L681.0,601.8 L682.2,602.0 L683.3,602.0 L684.5,601.7 L685.7,601.4 L686.9,601.3 L688.1,601.4 L689.3,601.5 L690.5,601.5 L691.7,601.7 L692.8,601.8 L694.0,602.1 L695.2,602.4 L696.4,602.6 L697.6,602.7 L698.8,602.7 L700.0,602.8 L701.1,602.8 L702.3,602.6 L703.5,602.4 L704.7,602.1 L705.9,601.8 L707.1,601.8 L708.3,601.8 L709.4,601.9 L710.6,602.0 L711.8,601.9 L713.0,601.8 L714.2,601.8 L715.4,601.8 L716.6,601.9 L717.7,602.1 L718.9,602.4 L720.1,602.6 L721.3,602.7 L722.5,602.8 L723.7,602.9 L724.9,602.8 L726.0,602.5 L727.2,601.9 L728.4,601.3 L729.6,600.7 L730.8,600.4 L732.0,600.3 L733.2,600.2 L734.3,600.0 L735.5,599.9 L736.7,599.7 L737.9,599.9 L739.1,600.3 L740.3,600.8 L741.5,601.1 L742.7,601.1 L743.8,600.7 L745.0,600.3 L746.2,599.8 L747.4,599.4 L748.6,599.3 L749.8,599.3 L751.0,599.5 L752.1,599.8 L753.3,600.0 L754.5,600.2 L755.7,600.4 L756.9,600.7 L758.1,600.9 L759.3,601.0 L760.4,601.0 L761.6,600.7 L762.8,600.4 L764.0,600.2 L765.2,599.9 L766.4,599.6 L767.6,599.3 L768.7,599.1 L769.9,599.2 L771.1,599.4 L772.3,599.7 L773.5,600.0 L774.7,600.1 L775.9,599.8 L777.0,599.3 L778.2,598.7 L779.4,597.9 L780.6,597.4 L781.8,597.1 L783.0,597.0 L784.2,596.8 L785.4,596.1 L786.5,595.0 L787.7,593.5 L788.9,592.0 L790.1,590.7 L791.3,589.6 L792.5,588.8 L793.7,588.0 L794.8,587.5 L796.0,587.1 L797.2,587.1 L798.4,587.3 L799.6,587.7 L800.8,588.3 L802.0,589.1 L803.1,589.9 L804.3,590.7 L805.5,591.5 L806.7,592.3 L807.9,593.1 L809.1,594.0 L810.3,594.7 L811.4,595.3 L812.6,595.6 L813.8,595.8 L815.0,596.1 L816.2,596.3 L817.4,596.8 L818.6,597.4 L819.7,597.8 L820.9,598.1 L822.1,598.0 L823.3,597.8 L824.5,597.6 L825.7,597.4 L826.9,597.2 L828.0,596.9 L829.2,596.5 L830.4,596.1 L831.6,595.6 L832.8,594.9 L834.0,593.8 L835.2,592.0 L836.4,589.5 L837.5,586.5 L838.7,583.5 L839.9,580.7 L841.1,578.2 L842.3,576.2 L843.5,574.6 L844.7,573.7 L845.8,573.8 L847.0,574.9 L848.2,576.9 L849.4,579.4 L850.6,582.1 L851.8,584.6 L853.0,587.1 L854.1,589.5 L855.3,591.6 L856.5,593.4 L857.7,594.6 L858.9,595.4 L860.1,595.7 L861.3,596.0 L862.4,596.4 L863.6,596.9 L864.8,597.6 L866.0,598.1 L867.2,598.4 L868.4,598.4 L869.6,598.4 L870.7,598.3 L871.9,598.2 L873.1,598.1 L874.3,597.9 L875.5,597.7 L876.7,597.7 L877.9,597.7 L879.1,597.7 L880.2,597.8 L881.4,597.9 L882.6,597.8 L883.8,597.7 L885.0,597.6 L886.2,597.6 L887.4,597.5 L888.5,597.5 L889.7,597.5 L890.9,597.5 L892.1,597.7 L893.3,598.1 L894.5,598.4 L895.7,598.6 L896.8,598.7 L898.0,598.7 L899.2,598.8 L900.4,598.8 L901.6,598.8 L902.8,598.7 L904.0,598.8 L905.1,598.9 L906.3,598.9 L907.5,598.7 L908.7,598.4 L909.9,598.0 L911.1,597.5 L912.3,597.1 L913.4,597.0 L914.6,597.1 L915.8,597.2 L917.0,597.4 L918.2,597.5 L919.4,597.7 L920.6,597.9 L921.7,598.2 L922.9,598.3 L924.1,598.3 L925.3,598.0 L926.5,597.7 L927.7,597.3 L928.9,596.9 L930.1,596.5 L931.2,596.2 L932.4,596.1 L933.6,596.1 L934.8,596.2 L936.0,596.5 L937.2,596.9 L938.4,597.3 L939.5,597.8 L940.7,598.0 L941.9,597.9 L943.1,597.6 L944.3,597.3 L945.5,597.0 L946.7,596.9 L947.8,596.8 L949.0,596.8 L950.2,597.0 L951.4,597.2 L952.6,597.4 L953.8,597.6 L955.0,597.5 L956.1,597.3 L957.3,596.9 L958.5,596.7 L959.7,596.9 L960.9,597.3 L962.1,597.8 L963.3,598.1 L964.4,598.0 L965.6,597.7 L966.8,597.3 L968.0,596.9 L969.2,596.8 L970.4,596.8 L971.6,596.7 L972.8,596.6 L973.9,596.5 L975.1,596.3 L976.3,596.2 L977.5,596.1 L978.7,596.2 L979.9,596.2 L981.1,596.3 L982.2,596.3 L983.4,596.2 L984.6,595.9 L985.8,595.7 L987.0,595.6 L988.2,595.7 L989.4,595.8 L990.5,596.0 L991.7,596.1 L992.9,596.1 L994.1,596.1 L995.3,596.0 L996.5,596.1 L997.7,596.1 L998.8,595.9 L1000.0,595.5 L1001.2,595.1 L1002.4,594.8 L1003.6,594.4 L1004.8,593.9 L1006.0,593.4 L1007.1,592.6 L1008.3,591.7 L1009.5,590.7 L1010.7,590.0 L1011.9,589.2 L1013.1,588.2 L1014.3,586.8 L1015.4,584.5 L1016.6,582.3 L1017.8,580.5 L1019.0,579.1 L1020.2,578.1 L1021.4,575.3 L1022.6,571.8 L1023.8,567.7 L1024.9,554.0 L1026.1,542.1 L1027.3,532.0 L1028.5,522.0 L1029.7,512.5 L1030.9,503.3 L1032.1,499.0 L1033.2,510.3 L1034.4,521.6 L1035.6,532.5 L1036.8,543.4 L1038.0,555.0 L1039.2,566.7 L1040.4,575.0 L1041.5,581.0 L1042.7,585.9 L1043.9,588.8 L1045.1,590.9 L1046.3,593.0 L1047.5,595.1 L1048.7,596.3 L1049.8,596.2 L1051.0,595.9 L1052.2,595.7 L1053.4,595.8 L1054.6,596.1 L1055.8,596.7 L1057.0,597.1 L1058.1,597.3 L1059.3,597.1 L1060.5,596.8 L1061.7,596.6 L1062.9,596.7 L1064.1,596.9 L1065.3,597.1 L1066.4,597.0 L1067.6,596.8 L1068.8,596.5 L1070.0,596.5 L1071.2,596.9 L1072.4,597.3 L1073.6,597.7 L1074.8,598.0 L1075.9,598.1 L1077.1,597.8 L1078.3,597.3 L1079.5,596.9 L1080.7,596.6 L1081.9,596.4 L1083.1,596.4 L1084.2,596.6 L1085.4,596.9 L1086.6,597.2 L1087.8,597.5 L1089.0,597.6 L1090.2,597.5 L1091.4,597.2 L1092.5,597.1 L1093.7,597.1 L1094.9,597.2 L1096.1,597.2 L1097.3,597.1 L1098.5,596.9 L1099.7,596.8 L1100.8,596.9 L1102.0,597.4 L1103.2,597.7 L1104.4,597.8 L1105.6,597.4 L1106.8,596.9 L1108.0,596.4 L1109.1,596.3 L1110.3,596.5 L1111.5,596.8 L1112.7,597.0 L1113.9,596.8 L1115.1,596.6 L1116.3,596.2 L1117.5,595.9 L1118.6,595.6 L1119.8,595.4 L1121.0,595.3 L1122.2,595.3 L1123.4,595.5 L1124.6,595.8 L1125.8,596.1 L1126.9,596.4 L1128.1,596.5 L1129.3,596.5 L1130.5,596.8 L1131.7,597.0 L1132.9,597.2 L1134.1,597.1 L1135.2,596.9 L1136.4,596.6 L1137.6,596.2 L1138.8,596.1 L1140.0,596.2 L1141.2,596.4 L1142.4,596.6 L1143.5,596.6 L1144.7,596.5 L1145.9,596.2 L1147.1,596.0 L1148.3,596.0 L1149.5,596.3 L1150.7,597.0 L1151.8,597.8 L1153.0,598.5 L1154.2,598.6 L1155.4,598.3 L1156.6,597.6 L1157.8,596.9 L1159.0,596.5 L1160.1,596.4 L1161.3,596.6 L1162.5,596.9 L1163.7,597.3 L1164.9,597.5 L1166.1,597.5 L1167.3,597.2 L1168.5,596.9 L1169.6,596.6 L1170.8,596.5 L1172.0,596.4 L1173.2,596.4 L1174.4,596.4 L1175.6,596.3 L1176.8,596.1 L1177.9,595.5 L1179.1,594.6 L1180.3,593.5 L1181.5,592.1 L1182.7,590.6 L1183.9,588.9 L1185.1,587.1 L1186.2,585.2 L1187.4,582.9 L1188.6,580.3 L1189.8,577.4 L1191.0,574.2 L1192.2,571.3 L1193.4,568.6 L1194.5,566.5 L1195.7,565.5 L1196.9,565.9 L1198.1,567.7 L1199.3,570.4 L1200.5,573.5 L1201.7,576.5 L1202.8,579.3 L1204.0,582.1 L1205.2,584.8 L1206.4,587.4 L1207.6,589.5 L1208.8,591.1 L1210.0,592.3 L1211.2,593.1 L1212.3,593.8 L1213.5,594.4 L1214.7,594.8 L1215.9,595.0 L1217.1,595.2 L1218.3,595.3 L1219.5,595.5 L1220.6,595.6 L1221.8,595.8 L1223.0,596.0 L1224.2,596.3 L1225.4,596.6 L1226.6,596.6 L1227.8,596.5 L1228.9,596.2 L1230.1,596.0 L1231.3,595.9 L1232.5,596.0 L1233.7,596.3 L1234.9,596.8 L1236.1,597.4 L1237.2,597.9 L1238.4,598.2 L1239.6,598.4 L1240.8,598.3 L1242.0,598.0 L1243.2,597.6 L1244.4,597.5 L1245.5,597.8 L1246.7,598.3 L1247.9,598.7 L1249.1,598.9 L1250.3,598.9 L1251.5,598.6 L1252.7,598.2 L1253.8,598.1 L1255.0,598.0 L1256.2,598.1 L1257.4,598.2 L1258.6,598.2 L1259.8,598.1 L1261.0,598.0 L1262.2,598.0 L1263.3,598.1 L1264.5,598.0 L1265.7,597.9 L1266.9,597.9 L1268.1,598.0 L1269.3,598.1 L1270.5,598.2 L1271.6,598.5 L1272.8,598.8 L1274.0,599.1 L1275.2,599.3 L1276.4,599.3 L1277.6,599.0 L1278.8,598.6 L1279.9,598.3 L1281.1,598.2 L1282.3,598.2 L1283.5,598.3 L1284.7,598.4 L1285.9,598.6 L1287.1,598.6 L1288.2,598.6 L1289.4,598.5 L1290.6,598.3 L1291.8,598.1 L1293.0,597.9 L1294.2,597.9 L1295.4,597.9 L1296.5,597.8 L1297.7,597.9 L1298.9,597.8 L1300.1,597.7 L1301.3,597.7 L1302.5,597.8 L1303.7,598.0 L1304.8,598.2 L1306.0,598.2 L1307.2,598.2 L1308.4,598.3 L1309.6,598.6 L1310.8,598.9 L1312.0,599.0 L1313.2,598.9 L1314.3,598.5 L1315.5,598.0 L1316.7,597.6 L1317.9,597.4 L1319.1,597.4 L1320.3,597.4 L1321.5,597.4 L1322.6,597.2 L1323.8,597.0 L1325.0,596.7 L1326.2,596.7 L1327.4,596.8 L1328.6,596.7 L1329.8,596.3 L1330.9,595.6 L1332.1,594.8 L1333.3,594.1 L1334.5,593.6 L1335.7,593.2 L1336.9,592.8 L1338.1,592.5 L1339.2,592.5 L1340.4,592.7 L1341.6,593.3 L1342.8,594.1 L1344.0,595.2 L1345.2,596.2 L1346.4,597.2 L1347.5,598.0 L1348.7,598.7 L1349.9,599.2 L1351.1,599.7 L1352.3,600.0 L1353.5,600.1 L1354.7,599.9 L1355.9,599.7 L1357.0,599.5 L1358.2,599.2 L1359.4,598.9 L1360.6,598.7 L1361.8,598.5 L1363.0,598.4 L1364.2,598.5 L1365.3,598.7 L1366.5,598.8 L1367.7,598.9 L1368.9,598.9 L1370.1,598.9 L1371.3,598.9 L1372.5,598.9 L1373.6,598.8 L1374.8,598.5 L1376.0,598.2 L1377.2,597.9 L1378.4,597.7 L1379.6,597.7 L1380.8,597.7 L1381.9,597.7 L1383.1,597.7 L1384.3,598.0 L1385.5,598.5 L1386.7,599.0 L1387.9,599.1 L1389.1,598.9 L1390.2,598.3 L1391.4,597.9 L1392.6,597.7 L1393.8,597.9 L1395.0,598.2 L1396.2,598.6 L1397.4,598.9 L1398.5,599.1 L1399.7,599.2 L1400.9,599.3 L1402.1,599.3 L1403.3,599.1 L1404.5,598.9 L1405.7,598.9 L1406.9,599.0 L1408.0,599.2 L1409.2,599.4 L1410.4,599.5 L1411.6,599.6 L1412.8,599.4 L1414.0,599.3 L1415.2,599.2 L1416.3,599.2 L1417.5,599.3 L1418.7,599.4 L1419.9,599.4 L1421.1,599.4 L1422.3,599.1 L1423.5,598.6 L1424.6,598.3 L1425.8,598.2 L1427.0,598.5 L1428.2,599.2 L1429.4,599.9 L1430.6,600.3 L1431.8,600.3 L1432.9,600.1 L1434.1,599.8 L1435.3,599.7 L1436.5,599.9 L1437.7,600.1 L1438.9,600.3 L1440.1,600.4 L1441.2,600.3 L1442.4,600.2 L1443.6,600.0 L1444.8,599.7 L1446.0,599.4 L1447.2,599.2 L1448.4,599.2 L1449.6,599.5 L1450.7,599.9 L1451.9,600.2 L1453.1,600.3 L1454.3,600.4 L1455.5,600.2 L1456.7,599.7 L1457.9,599.1 L1459.0,598.6 L1460.2,598.3 L1461.4,598.5 L1462.6,598.9 L1463.8,599.4 L1465.0,599.5 L1466.2,599.5 L1467.3,599.4 L1468.5,599.3 L1469.7,599.1 L1470.9,598.9 L1472.1,598.8 L1473.3,599.0 L1474.5,599.5 L1475.6,600.0 L1476.8,600.3 L1478.0,600.4 L1479.2,600.3 L1480.4,600.1 L1481.6,599.8 L1482.8,599.5 L1483.9,599.2 L1485.1,599.0 L1486.3,599.1 L1487.5,599.3 L1488.7,599.4 L1489.9,599.2 L1491.1,599.0 L1492.2,598.9 L1493.4,599.1 L1494.6,599.5 L1495.8,599.9 L1497.0,600.3 L1498.2,600.6 L1499.4,600.8 L1500.6,600.9 L1501.7,601.0 L1502.9,601.0 L1504.1,601.0 L1505.3,601.0 L1506.5,601.0 L1507.7,601.0 L1508.9,601.1 L1510.0,601.2 L1511.2,601.3 L1512.4,601.5 L1513.6,601.7 L1514.8,601.9 L1516.0,602.0 L1517.2,601.8 L1518.3,601.4 L1519.5,601.1 L1520.7,600.8 L1521.9,600.6 L1523.1,600.5 L1524.3,600.4 L1525.5,600.4 L1526.6,600.3 L1527.8,600.0 L1529.0,599.8 L1530.2,599.6 L1531.4,599.6 L1532.6,599.8 L1533.8,600.1 L1534.9,600.4 L1536.1,600.6 L1537.3,600.6 L1538.5,600.5 L1539.7,600.4 L1540.9,600.4 L1542.1,600.4 L1543.3,600.4 L1544.4,600.6 L1545.6,601.0 L1546.8,601.5 L1548.0,601.8 L1549.2,601.8 L1550.4,601.6 L1551.6,601.3 L1552.7,601.0 L1553.9,600.7 L1555.1,600.3 L1556.3,599.9 L1557.5,599.4 L1558.7,599.2 L1559.9,599.3 L1561.0,599.7 L1562.2,600.1 L1563.4,600.4 L1564.6,600.4 L1565.8,600.3 L1567.0,600.3 L1568.2,600.4 L1569.3,600.5 L1570.5,600.5 L1571.7,600.3 L1572.9,600.3 L1574.1,600.3 L1575.3,600.4 L1576.5,600.5 L1577.6,600.8 L1578.8,601.0 L1580.0,601.0 L1581.2,600.8 L1582.4,600.3 L1583.6,599.8 L1584.8,599.5 L1585.9,599.5 L1587.1,599.6 L1588.3,599.6 L1589.5,599.3 L1590.7,598.8 L1591.9,598.2 L1593.1,597.8 L1594.3,597.5 L1595.4,597.2 L1596.6,596.8 L1597.8,596.2 L1599.0,595.4 L1600.2,594.5 L1601.4,593.4 L1602.6,592.3 L1603.7,591.1 L1604.9,590.0 L1606.1,588.8 L1607.3,587.8 L1608.5,587.0 L1609.7,586.6 L1610.9,586.6 L1612.0,587.0 L1613.2,587.7 L1614.4,588.6 L1615.6,589.6 L1616.8,590.7 L1618.0,591.9 L1619.2,593.0 L1620.3,594.0 L1621.5,594.7 L1622.7,595.0 L1623.9,595.2 L1625.1,595.7 L1626.3,596.4 L1627.5,597.2 L1628.6,598.1 L1629.8,598.8 L1631.0,599.3 L1632.2,599.6 L1633.4,599.5 L1634.6,599.1 L1635.8,598.6 L1637.0,598.3 L1638.1,598.3 L1639.3,598.4 L1640.5,598.7 L1641.7,599.1 L1642.9,599.4 L1644.1,599.6 L1645.3,599.9 L1646.4,600.1 L1647.6,600.4 L1648.8,600.7 L1650.0,600.8 L1651.2,600.7 L1652.4,600.6 L1653.6,600.4 L1654.7,600.2 L1655.9,600.2 L1657.1,600.4 L1658.3,600.8 L1659.5,601.3 L1660.7,601.8 L1661.9,602.3 L1663.0,602.6 L1664.2,602.6 L1665.4,602.4 L1666.6,601.9 L1667.8,601.4 L1669.0,601.1 L1670.2,601.1 L1671.3,601.2 L1672.5,601.4 L1673.7,601.5 L1674.9,601.3 L1676.1,600.9 L1677.3,600.5 L1678.5,600.3 L1679.6,600.3 L1680.8,600.4 L1682.0,600.4 L1683.2,600.3 L1684.4,600.1 L1685.6,600.1 L1686.8,600.1 L1688.0,600.3 L1689.1,600.6 L1690.3,600.8 L1691.5,601.1 L1692.7,601.2 L1693.9,601.3 L1695.1,601.2 L1696.3,601.2 L1697.4,601.3 L1698.6,601.5 L1699.8,601.6 L1701.0,601.4 L1702.2,601.1 L1703.4,600.9 L1704.6,600.7 L1705.7,600.7 L1706.9,600.8 L1708.1,600.9 L1709.3,600.8 L1710.5,600.6 L1711.7,600.4 L1712.9,600.1 L1714.0,599.6 L1715.2,599.0 L1716.4,598.2 L1717.6,597.2 L1718.8,596.3 L1720.0,595.2 L1721.2,594.0 L1722.3,592.7 L1723.5,591.3 L1724.7,590.0 L1725.9,589.0 L1727.1,588.2 L1728.3,587.8 L1729.5,587.6 L1730.6,588.0 L1731.8,588.8 L1733.0,589.8 L1734.2,591.0 L1735.4,592.1 L1736.6,592.9 L1737.8,593.7 L1739.0,594.5 L1740.1,595.7 L1741.3,596.9 L1742.5,598.0 L1743.7,598.8 L1744.9,599.3 L1746.1,599.7 L1747.3,600.2 L1748.4,600.6 L1749.6,601.0 L1750.8,601.2 L1752.0,601.3 L1753.2,601.5 L1754.4,601.7 L1755.6,601.8 L1756.7,601.8 L1757.9,601.6 L1759.1,601.5 L1760.3,601.4 L1761.5,601.2 L1762.7,601.1 L1763.9,600.9 L1765.0,600.7 L1766.2,600.5 L1767.4,600.4 L1768.6,600.3 L1769.8,600.1 L1771.0,599.9 L1772.2,600.0 L1773.3,600.5 L1774.5,601.2 L1775.7,601.8 L1776.9,602.0 L1778.1,602.0 L1779.3,601.8 L1780.5,601.7 L1781.7,601.8 L1782.8,602.0 L1784.0,602.2 L1785.2,602.3 L1786.4,602.3 L1787.6,602.3 L1788.8,602.2 L1790.0,602.1 L1791.1,602.1 L1792.3,601.8 L1793.5,601.6 L1794.7,601.3 L1795.9,601.1 L1797.1,600.9 L1798.3,600.7 L1799.4,600.6 L1800.6,600.4 L1801.5,600.1 L1801.5,599.9" stroke="#ff8800" stroke-width="5.4"/>
<path class="c" d="M142.5,745.1 L143.7,745.5 L144.9,745.9 L146.1,746.4 L147.2,746.8 L148.4,747.0 L149.6,746.9 L150.8,746.6 L152.0,746.1 L153.2,745.7 L154.4,745.2 L155.5,744.6 L156.7,744.2 L157.9,743.8 L159.1,743.5 L160.3,743.3 L161.5,743.4 L162.7,743.7 L163.8,744.0 L165.0,744.5 L166.2,744.9 L167.4,745.2 L168.6,745.2 L169.8,744.9 L171.0,744.4 L172.2,744.1 L173.3,744.2 L174.5,744.4 L175.7,744.6 L176.9,744.6 L178.1,744.5 L179.3,744.2 L180.5,743.8 L181.6,743.3 L182.8,743.0 L184.0,742.8 L185.2,743.2 L186.4,743.8 L187.6,744.4 L188.8,744.8 L189.9,745.0 L191.1,745.1 L192.3,745.1 L193.5,744.8 L194.7,744.5 L195.9,744.1 L197.1,743.8 L198.2,743.5 L199.4,743.5 L200.6,743.6 L201.8,743.7 L203.0,743.8 L204.2,743.8 L205.4,743.5 L206.5,743.0 L207.7,742.6 L208.9,742.4 L210.1,742.5 L211.3,742.8 L212.5,743.1 L213.7,743.4 L214.9,743.5 L216.0,743.4 L217.2,743.2 L218.4,742.9 L219.6,742.7 L220.8,742.7 L222.0,742.9 L223.2,743.2 L224.3,743.5 L225.5,743.7 L226.7,743.7 L227.9,743.8 L229.1,744.0 L230.3,744.0 L231.5,743.8 L232.6,743.3 L233.8,742.8 L235.0,742.4 L236.2,742.1 L237.4,742.1 L238.6,742.3 L239.8,742.8 L240.9,743.6 L242.1,744.4 L243.3,744.9 L244.5,745.1 L245.7,745.2 L246.9,745.2 L248.1,745.2 L249.2,745.2 L250.4,745.2 L251.6,745.0 L252.8,744.9 L254.0,744.6 L255.2,744.3 L256.4,744.1 L257.5,743.9 L258.7,743.6 L259.9,743.6 L261.1,743.8 L262.3,744.2 L263.5,744.8 L264.7,745.2 L265.9,745.0 L267.0,744.3 L268.2,743.3 L269.4,742.3 L270.6,741.8 L271.8,741.7 L273.0,742.1 L274.2,742.7 L275.3,743.2 L276.5,743.5 L277.7,743.5 L278.9,743.6 L280.1,744.0 L281.3,744.5 L282.5,744.6 L283.6,744.4 L284.8,744.0 L286.0,743.6 L287.2,743.4 L288.4,743.6 L289.6,744.0 L290.8,744.5 L291.9,744.9 L293.1,745.1 L294.3,745.2 L295.5,745.2 L296.7,745.1 L297.9,744.8 L299.1,744.4 L300.2,743.9 L301.4,743.7 L302.6,744.0 L303.8,744.4 L305.0,744.7 L306.2,744.9 L307.4,744.7 L308.6,744.2 L309.7,743.7 L310.9,743.4 L312.1,743.2 L313.3,743.2 L314.5,743.3 L315.7,743.5 L316.9,743.5 L318.0,743.7 L319.2,743.8 L320.4,743.9 L321.6,743.5 L322.8,742.9 L324.0,742.2 L325.2,741.5 L326.3,740.9 L327.5,740.0 L328.7,738.5 L329.9,736.6 L331.1,734.4 L332.3,732.1 L333.5,729.3 L334.6,726.6 L335.8,724.3 L337.0,720.2 L338.2,715.2 L339.4,708.2 L340.6,695.5 L341.8,683.3 L342.9,672.3 L344.1,661.8 L345.3,651.4 L346.5,641.2 L347.7,630.9 L348.9,635.0 L350.1,652.6 L351.2,670.0 L352.4,687.3 L353.6,703.1 L354.8,718.8 L356.0,732.2 L357.2,737.0 L358.4,739.7 L359.6,741.7 L360.7,743.5 L361.9,744.2 L363.1,743.9 L364.3,743.5 L365.5,743.0 L366.7,742.7 L367.9,742.5 L369.0,742.5 L370.2,742.6 L371.4,742.9 L372.6,743.1 L373.8,743.3 L375.0,743.3 L376.2,743.1 L377.3,742.9 L378.5,742.8 L379.7,742.8 L380.9,742.7 L382.1,742.6 L383.3,742.7 L384.5,742.7 L385.6,742.7 L386.8,742.6 L388.0,742.4 L389.2,742.3 L390.4,742.6 L391.6,743.0 L392.8,743.3 L393.9,743.4 L395.1,743.3 L396.3,743.2 L397.5,743.2 L398.7,743.2 L399.9,743.0 L401.1,742.8 L402.2,742.5 L403.4,742.6 L404.6,742.8 L405.8,743.3 L407.0,743.9 L408.2,744.4 L409.4,744.5 L410.6,744.4 L411.7,744.1 L412.9,743.7 L414.1,743.3 L415.3,743.0 L416.5,742.8 L417.7,742.8 L418.9,743.0 L420.0,743.3 L421.2,743.7 L422.4,744.1 L423.6,744.4 L424.8,744.7 L426.0,745.0 L427.2,745.0 L428.3,744.7 L429.5,744.4 L430.7,744.0 L431.9,743.8 L433.1,743.5 L434.3,743.4 L435.5,743.5 L436.6,743.6 L437.8,743.7 L439.0,743.6 L440.2,743.3 L441.4,743.1 L442.6,742.7 L443.8,742.4 L444.9,742.2 L446.1,742.0 L447.3,741.9 L448.5,741.9 L449.7,742.0 L450.9,741.9 L452.1,741.9 L453.3,741.7 L454.4,741.4 L455.6,741.0 L456.8,740.5 L458.0,740.1 L459.2,739.8 L460.4,739.8 L461.6,740.3 L462.7,741.3 L463.9,742.3 L465.1,743.1 L466.3,743.2 L467.5,742.8 L468.7,742.5 L469.9,742.5 L471.0,742.8 L472.2,743.3 L473.4,743.8 L474.6,743.8 L475.8,743.6 L477.0,743.1 L478.2,742.5 L479.3,742.0 L480.5,741.7 L481.7,741.6 L482.9,741.8 L484.1,742.1 L485.3,742.4 L486.5,742.7 L487.6,742.9 L488.8,742.9 L490.0,742.7 L491.2,742.7 L492.4,742.8 L493.6,742.9 L494.8,742.9 L495.9,743.0 L497.1,742.7 L498.3,742.3 L499.5,741.8 L500.7,741.4 L501.9,741.2 L503.1,741.3 L504.3,741.4 L505.4,741.6 L506.6,741.9 L507.8,742.2 L509.0,742.4 L510.2,742.6 L511.4,742.7 L512.6,742.8 L513.7,742.9 L514.9,742.9 L516.1,742.9 L517.3,742.7 L518.5,742.5 L519.7,742.1 L520.9,741.8 L522.0,741.4 L523.2,741.1 L524.4,740.9 L525.6,740.9 L526.8,741.1 L528.0,741.3 L529.2,741.5 L530.3,741.7 L531.5,742.0 L532.7,742.4 L533.9,742.6 L535.1,742.7 L536.3,742.5 L537.5,742.1 L538.6,741.8 L539.8,741.7 L541.0,741.8 L542.2,741.9 L543.4,742.2 L544.6,742.5 L545.8,742.6 L547.0,742.6 L548.1,742.2 L549.3,741.5 L550.5,740.8 L551.7,740.4 L552.9,740.5 L554.1,740.9 L555.3,741.3 L556.4,741.5 L557.6,741.4 L558.8,741.2 L560.0,740.9 L561.2,740.7 L562.4,740.8 L563.6,741.0 L564.7,741.2 L565.9,741.4 L567.1,741.6 L568.3,741.8 L569.5,742.1 L570.7,742.2 L571.9,742.2 L573.0,741.8 L574.2,741.4 L575.4,741.1 L576.6,740.8 L577.8,740.7 L579.0,740.9 L580.2,741.0 L581.3,741.0 L582.5,740.8 L583.7,740.7 L584.9,740.9 L586.1,741.5 L587.3,742.1 L588.5,742.5 L589.6,742.5 L590.8,742.1 L592.0,741.8 L593.2,741.6 L594.4,741.5 L595.6,741.2 L596.8,740.7 L598.0,740.1 L599.1,739.7 L600.3,739.6 L601.5,739.7 L602.7,740.0 L603.9,740.1 L605.1,739.9 L606.3,739.7 L607.4,739.7 L608.6,739.9 L609.8,740.1 L611.0,740.2 L612.2,740.1 L613.4,739.8 L614.6,739.3 L615.7,738.5 L616.9,737.5 L618.1,736.3 L619.3,734.7 L620.5,733.1 L621.7,731.5 L622.9,729.9 L624.0,728.4 L625.2,726.9 L626.4,725.4 L627.6,724.3 L628.8,723.9 L630.0,724.4 L631.2,725.5 L632.3,726.8 L633.5,728.4 L634.7,730.2 L635.9,732.0 L637.1,733.7 L638.3,735.2 L639.5,736.2 L640.6,736.8 L641.8,737.0 L643.0,736.9 L644.2,736.9 L645.4,737.2 L646.6,737.7 L647.8,738.4 L649.0,739.0 L650.1,739.3 L651.3,739.3 L652.5,739.1 L653.7,738.9 L654.9,738.6 L656.1,738.2 L657.3,738.0 L658.4,738.1 L659.6,738.6 L660.8,739.3 L662.0,740.0 L663.2,740.5 L664.4,740.8 L665.6,741.0 L666.7,740.8 L667.9,740.5 L669.1,740.1 L670.3,739.6 L671.5,739.1 L672.7,738.9 L673.9,738.8 L675.0,738.9 L676.2,739.2 L677.4,739.7 L678.6,740.1 L679.8,740.2 L681.0,740.1 L682.2,739.9 L683.3,739.8 L684.5,739.7 L685.7,739.4 L686.9,739.0 L688.1,738.5 L689.3,737.9 L690.5,737.7 L691.7,737.8 L692.8,738.1 L694.0,738.5 L695.2,738.8 L696.4,739.1 L697.6,739.3 L698.8,739.4 L700.0,739.3 L701.1,738.9 L702.3,738.5 L703.5,738.3 L704.7,738.2 L705.9,738.3 L707.1,738.2 L708.3,737.9 L709.4,737.5 L710.6,737.3 L711.8,737.2 L713.0,737.0 L714.2,736.5 L715.4,735.8 L716.6,735.1 L717.7,734.6 L718.9,734.8 L720.1,735.2 L721.3,735.9 L722.5,736.5 L723.7,737.0 L724.9,737.4 L726.0,737.8 L727.2,738.3 L728.4,738.4 L729.6,738.3 L730.8,737.9 L732.0,737.3 L733.2,736.7 L734.3,736.1 L735.5,735.7 L736.7,735.4 L737.9,735.2 L739.1,735.0 L740.3,734.8 L741.5,734.5 L742.7,734.5 L743.8,734.7 L745.0,735.0 L746.2,735.1 L747.4,734.9 L748.6,734.4 L749.8,733.8 L751.0,733.5 L752.1,733.5 L753.3,733.7 L754.5,733.9 L755.7,733.9 L756.9,733.9 L758.1,734.2 L759.3,734.4 L760.4,734.6 L761.6,734.4 L762.8,733.9 L764.0,733.2 L765.2,732.7 L766.4,732.7 L767.6,733.2 L768.7,733.9 L769.9,734.6 L771.1,734.8 L772.3,734.6 L773.5,734.3 L774.7,734.1 L775.9,734.1 L777.0,734.1 L778.2,733.9 L779.4,733.5 L780.6,732.8 L781.8,732.1 L783.0,731.4 L784.2,730.9 L785.4,730.4 L786.5,730.0 L787.7,729.6 L788.9,729.0 L790.1,727.9 L791.3,726.5 L792.5,724.6 L793.7,723.0 L794.8,721.8 L796.0,721.3 L797.2,721.4 L798.4,721.9 L799.6,722.6 L800.8,723.4 L802.0,724.1 L803.1,725.0 L804.3,725.8 L805.5,726.6 L806.7,727.5 L807.9,728.3 L809.1,729.3 L810.3,730.3 L811.4,731.1 L812.6,731.8 L813.8,732.2 L815.0,732.6 L816.2,732.9 L817.4,733.2 L818.6,733.5 L819.7,733.6 L820.9,733.4 L822.1,733.2 L823.3,732.8 L824.5,732.5 L825.7,732.5 L826.9,732.5 L828.0,732.7 L829.2,732.5 L830.4,731.9 L831.6,730.8 L832.8,729.4 L834.0,728.1 L835.2,726.6 L836.4,725.2 L837.5,723.7 L838.7,722.1 L839.9,720.6 L841.1,719.1 L842.3,717.7 L843.5,716.4 L844.7,715.4 L845.8,715.1 L847.0,715.6 L848.2,716.7 L849.4,718.4 L850.6,720.3 L851.8,722.4 L853.0,724.4 L854.1,726.0 L855.3,727.1 L856.5,727.9 L857.7,728.7 L858.9,729.7 L860.1,730.9 L861.3,732.1 L862.4,733.1 L863.6,733.8 L864.8,734.3 L866.0,734.6 L867.2,735.0 L868.4,735.1 L869.6,734.9 L870.7,734.3 L871.9,733.5 L873.1,732.7 L874.3,732.1 L875.5,732.0 L876.7,732.2 L877.9,732.5 L879.1,732.8 L880.2,733.0 L881.4,733.0 L882.6,732.8 L883.8,732.3 L885.0,731.9 L886.2,731.7 L887.4,731.6 L888.5,731.5 L889.7,731.3 L890.9,731.3 L892.1,731.5 L893.3,732.1 L894.5,732.9 L895.7,733.7 L896.8,734.3 L898.0,734.5 L899.2,734.3 L900.4,733.8 L901.6,733.2 L902.8,732.8 L904.0,732.5 L905.1,732.5 L906.3,732.7 L907.5,732.7 L908.7,732.9 L909.9,733.0 L911.1,733.3 L912.3,733.7 L913.4,733.9 L914.6,733.9 L915.8,733.6 L917.0,733.3 L918.2,733.1 L919.4,733.1 L920.6,733.3 L921.7,733.6 L922.9,733.8 L924.1,733.9 L925.3,733.8 L926.5,733.5 L927.7,733.2 L928.9,733.1 L930.1,733.1 L931.2,733.1 L932.4,732.6 L933.6,732.2 L934.8,731.7 L936.0,731.3 L937.2,731.1 L938.4,730.8 L939.5,730.6 L940.7,730.4 L941.9,730.3 L943.1,730.2 L944.3,730.2 L945.5,730.2 L946.7,730.3 L947.8,730.2 L949.0,730.3 L950.2,730.6 L951.4,731.0 L952.6,731.5 L953.8,731.9 L955.0,732.2 L956.1,732.3 L957.3,732.3 L958.5,732.3 L959.7,732.3 L960.9,732.2 L962.1,732.0 L963.3,731.7 L964.4,731.4 L965.6,731.3 L966.8,731.6 L968.0,732.0 L969.2,732.4 L970.4,732.6 L971.6,732.5 L972.8,732.2 L973.9,731.6 L975.1,731.1 L976.3,730.9 L977.5,731.1 L978.7,731.5 L979.9,731.9 L981.1,732.2 L982.2,732.4 L983.4,732.6 L984.6,732.8 L985.8,733.2 L987.0,733.4 L988.2,733.3 L989.4,733.0 L990.5,732.7 L991.7,732.6 L992.9,732.6 L994.1,732.8 L995.3,732.9 L996.5,732.9 L997.7,732.9 L998.8,732.4 L1000.0,731.9 L1001.2,731.1 L1002.4,730.3 L1003.6,729.4 L1004.8,728.7 L1006.0,728.2 L1007.1,727.6 L1008.3,727.0 L1009.5,726.4 L1010.7,725.7 L1011.9,724.7 L1013.1,723.4 L1014.3,722.0 L1015.4,720.1 L1016.6,718.6 L1017.8,717.0 L1019.0,715.4 L1020.2,714.0 L1021.4,711.1 L1022.6,707.9 L1023.8,704.3 L1024.9,692.4 L1026.1,682.0 L1027.3,673.0 L1028.5,664.4 L1029.7,656.1 L1030.9,648.0 L1032.1,644.2 L1033.2,654.1 L1034.4,664.0 L1035.6,673.6 L1036.8,683.3 L1038.0,693.8 L1039.2,704.7 L1040.4,712.8 L1041.5,718.8 L1042.7,723.4 L1043.9,725.8 L1045.1,727.0 L1046.3,728.1 L1047.5,729.4 L1048.7,730.0 L1049.8,729.7 L1051.0,729.6 L1052.2,729.7 L1053.4,729.9 L1054.6,730.5 L1055.8,731.1 L1057.0,731.6 L1058.1,731.8 L1059.3,732.0 L1060.5,732.1 L1061.7,732.0 L1062.9,731.7 L1064.1,731.4 L1065.3,731.1 L1066.4,730.9 L1067.6,731.1 L1068.8,731.4 L1070.0,731.8 L1071.2,732.2 L1072.4,732.5 L1073.6,732.7 L1074.8,732.6 L1075.9,732.4 L1077.1,732.1 L1078.3,731.9 L1079.5,731.9 L1080.7,731.9 L1081.9,731.9 L1083.1,731.9 L1084.2,731.8 L1085.4,731.7 L1086.6,731.6 L1087.8,731.5 L1089.0,731.5 L1090.2,731.6 L1091.4,731.6 L1092.5,731.5 L1093.7,731.4 L1094.9,731.2 L1096.1,731.3 L1097.3,731.5 L1098.5,731.8 L1099.7,732.0 L1100.8,731.9 L1102.0,731.7 L1103.2,731.3 L1104.4,730.8 L1105.6,730.5 L1106.8,730.3 L1108.0,730.1 L1109.1,729.9 L1110.3,729.9 L1111.5,730.2 L1112.7,730.7 L1113.9,731.3 L1115.1,731.7 L1116.3,731.9 L1117.5,732.0 L1118.6,731.9 L1119.8,731.9 L1121.0,732.0 L1122.2,732.0 L1123.4,732.1 L1124.6,732.2 L1125.8,732.3 L1126.9,732.3 L1128.1,732.1 L1129.3,731.7 L1130.5,731.2 L1131.7,730.6 L1132.9,730.3 L1134.1,730.5 L1135.2,731.0 L1136.4,731.4 L1137.6,731.9 L1138.8,732.1 L1140.0,732.2 L1141.2,732.1 L1142.4,731.9 L1143.5,731.8 L1144.7,731.5 L1145.9,731.3 L1147.1,731.1 L1148.3,730.9 L1149.5,730.8 L1150.7,730.6 L1151.8,730.3 L1153.0,729.9 L1154.2,729.7 L1155.4,729.6 L1156.6,729.7 L1157.8,729.8 L1159.0,730.1 L1160.1,730.4 L1161.3,730.8 L1162.5,731.0 L1163.7,730.9 L1164.9,730.6 L1166.1,730.3 L1167.3,730.1 L1168.5,730.1 L1169.6,730.2 L1170.8,730.5 L1172.0,730.7 L1173.2,730.7 L1174.4,730.4 L1175.6,729.8 L1176.8,728.6 L1177.9,727.0 L1179.1,725.3 L1180.3,723.8 L1181.5,722.6 L1182.7,721.5 L1183.9,720.0 L1185.1,718.0 L1186.2,715.1 L1187.4,711.8 L1188.6,708.1 L1189.8,704.4 L1191.0,700.7 L1192.2,697.1 L1193.4,694.1 L1194.5,691.9 L1195.7,691.0 L1196.9,691.6 L1198.1,693.6 L1199.3,696.8 L1200.5,700.7 L1201.7,704.7 L1202.8,708.5 L1204.0,712.0 L1205.2,715.0 L1206.4,717.8 L1207.6,720.1 L1208.8,722.1 L1210.0,723.7 L1211.2,724.9 L1212.3,726.0 L1213.5,727.2 L1214.7,728.3 L1215.9,729.3 L1217.1,729.7 L1218.3,729.8 L1219.5,729.7 L1220.6,729.9 L1221.8,730.2 L1223.0,730.5 L1224.2,730.7 L1225.4,730.8 L1226.6,730.7 L1227.8,730.8 L1228.9,730.8 L1230.1,730.8 L1231.3,730.8 L1232.5,730.9 L1233.7,731.0 L1234.9,731.2 L1236.1,731.4 L1237.2,731.6 L1238.4,731.8 L1239.6,732.2 L1240.8,732.7 L1242.0,733.1 L1243.2,733.5 L1244.4,733.7 L1245.5,733.8 L1246.7,733.7 L1247.9,733.5 L1249.1,733.3 L1250.3,733.2 L1251.5,733.0 L1252.7,733.0 L1253.8,733.0 L1255.0,733.1 L1256.2,733.0 L1257.4,732.7 L1258.6,732.5 L1259.8,732.6 L1261.0,732.7 L1262.2,732.9 L1263.3,733.1 L1264.5,733.1 L1265.7,733.0 L1266.9,732.6 L1268.1,732.1 L1269.3,731.7 L1270.5,731.7 L1271.6,731.9 L1272.8,732.2 L1274.0,732.5 L1275.2,732.7 L1276.4,733.0 L1277.6,733.3 L1278.8,733.7 L1279.9,734.0 L1281.1,734.0 L1282.3,733.8 L1283.5,733.8 L1284.7,733.7 L1285.9,733.5 L1287.1,733.3 L1288.2,733.1 L1289.4,732.9 L1290.6,733.0 L1291.8,733.2 L1293.0,733.2 L1294.2,733.0 L1295.4,732.9 L1296.5,732.9 L1297.7,733.3 L1298.9,733.8 L1300.1,734.4 L1301.3,735.0 L1302.5,735.3 L1303.7,735.7 L1304.8,735.8 L1306.0,735.8 L1307.2,735.7 L1308.4,735.4 L1309.6,735.2 L1310.8,735.1 L1312.0,734.8 L1313.2,734.5 L1314.3,734.0 L1315.5,733.5 L1316.7,733.1 L1317.9,732.9 L1319.1,733.0 L1320.3,733.1 L1321.5,733.4 L1322.6,733.8 L1323.8,734.1 L1325.0,734.4 L1326.2,734.4 L1327.4,734.0 L1328.6,733.3 L1329.8,732.6 L1330.9,732.1 L1332.1,731.8 L1333.3,731.5 L1334.5,731.0 L1335.7,730.3 L1336.9,729.5 L1338.1,728.9 L1339.2,728.8 L1340.4,729.1 L1341.6,730.0 L1342.8,730.8 L1344.0,731.4 L1345.2,731.8 L1346.4,731.9 L1347.5,731.9 L1348.7,731.9 L1349.9,732.0 L1351.1,732.1 L1352.3,732.2 L1353.5,732.2 L1354.7,732.3 L1355.9,732.5 L1357.0,732.7 L1358.2,732.8 L1359.4,733.0 L1360.6,733.3 L1361.8,733.4 L1363.0,733.4 L1364.2,733.2 L1365.3,732.9 L1366.5,732.7 L1367.7,732.6 L1368.9,732.7 L1370.1,733.0 L1371.3,733.5 L1372.5,734.2 L1373.6,734.7 L1374.8,735.1 L1376.0,735.0 L1377.2,735.0 L1378.4,734.9 L1379.6,734.8 L1380.8,734.6 L1381.9,734.4 L1383.1,734.0 L1384.3,733.4 L1385.5,732.9 L1386.7,732.6 L1387.9,732.4 L1389.1,732.6 L1390.2,733.0 L1391.4,733.3 L1392.6,733.4 L1393.8,733.4 L1395.0,733.5 L1396.2,733.5 L1397.4,733.4 L1398.5,733.1 L1399.7,732.8 L1400.9,732.5 L1402.1,732.4 L1403.3,732.2 L1404.5,732.2 L1405.7,732.4 L1406.9,732.8 L1408.0,733.5 L1409.2,734.3 L1410.4,735.1 L1411.6,735.6 L1412.8,735.8 L1414.0,735.8 L1415.2,735.7 L1416.3,735.6 L1417.5,735.5 L1418.7,735.5 L1419.9,735.7 L1421.1,735.9 L1422.3,736.1 L1423.5,736.4 L1424.6,736.6 L1425.8,736.5 L1427.0,736.1 L1428.2,735.5 L1429.4,735.0 L1430.6,734.5 L1431.8,734.2 L1432.9,734.1 L1434.1,734.2 L1435.3,734.8 L1436.5,735.6 L1437.7,736.5 L1438.9,737.0 L1440.1,737.0 L1441.2,736.8 L1442.4,736.4 L1443.6,736.1 L1444.8,735.8 L1446.0,735.4 L1447.2,735.3 L1448.4,735.3 L1449.6,735.2 L1450.7,735.2 L1451.9,735.2 L1453.1,735.3 L1454.3,735.5 L1455.5,735.7 L1456.7,735.8 L1457.9,735.8 L1459.0,735.7 L1460.2,735.8 L1461.4,735.9 L1462.6,735.8 L1463.8,735.6 L1465.0,735.3 L1466.2,735.0 L1467.3,734.9 L1468.5,734.9 L1469.7,735.0 L1470.9,735.2 L1472.1,735.1 L1473.3,734.9 L1474.5,734.5 L1475.6,734.0 L1476.8,733.9 L1478.0,734.3 L1479.2,734.9 L1480.4,735.4 L1481.6,735.7 L1482.8,735.9 L1483.9,735.8 L1485.1,735.6 L1486.3,735.1 L1487.5,734.5 L1488.7,734.1 L1489.9,733.7 L1491.1,733.7 L1492.2,733.9 L1493.4,734.3 L1494.6,734.7 L1495.8,735.0 L1497.0,735.3 L1498.2,735.4 L1499.4,735.2 L1500.6,735.0 L1501.7,735.0 L1502.9,735.1 L1504.1,735.3 L1505.3,735.3 L1506.5,735.3 L1507.7,735.5 L1508.9,735.9 L1510.0,736.4 L1511.2,737.0 L1512.4,737.3 L1513.6,737.3 L1514.8,736.8 L1516.0,736.3 L1517.2,735.9 L1518.3,735.8 L1519.5,736.0 L1520.7,736.4 L1521.9,736.9 L1523.1,737.1 L1524.3,737.1 L1525.5,736.9 L1526.6,736.7 L1527.8,736.6 L1529.0,736.5 L1530.2,736.4 L1531.4,736.2 L1532.6,735.8 L1533.8,735.1 L1534.9,734.7 L1536.1,734.8 L1537.3,735.4 L1538.5,736.1 L1539.7,736.7 L1540.9,736.8 L1542.1,736.7 L1543.3,736.7 L1544.4,736.8 L1545.6,737.3 L1546.8,737.8 L1548.0,738.3 L1549.2,738.4 L1550.4,738.0 L1551.6,737.5 L1552.7,737.1 L1553.9,736.9 L1555.1,737.0 L1556.3,737.1 L1557.5,737.1 L1558.7,737.1 L1559.9,737.2 L1561.0,737.2 L1562.2,737.1 L1563.4,737.0 L1564.6,736.8 L1565.8,736.7 L1567.0,736.7 L1568.2,737.0 L1569.3,737.1 L1570.5,737.0 L1571.7,736.9 L1572.9,737.0 L1574.1,737.2 L1575.3,737.6 L1576.5,737.9 L1577.6,737.7 L1578.8,737.2 L1580.0,736.5 L1581.2,735.9 L1582.4,735.6 L1583.6,735.7 L1584.8,735.9 L1585.9,736.0 L1587.1,736.0 L1588.3,735.7 L1589.5,735.1 L1590.7,734.4 L1591.9,733.8 L1593.1,733.6 L1594.3,733.6 L1595.4,733.6 L1596.6,733.6 L1597.8,733.2 L1599.0,732.3 L1600.2,730.9 L1601.4,729.2 L1602.6,727.2 L1603.7,724.9 L1604.9,722.4 L1606.1,719.9 L1607.3,717.4 L1608.5,715.4 L1609.7,714.1 L1610.9,713.8 L1612.0,714.6 L1613.2,716.0 L1614.4,717.9 L1615.6,720.1 L1616.8,722.5 L1618.0,725.0 L1619.2,727.6 L1620.3,729.9 L1621.5,731.8 L1622.7,733.3 L1623.9,734.3 L1625.1,735.0 L1626.3,735.5 L1627.5,735.8 L1628.6,735.8 L1629.8,735.6 L1631.0,735.4 L1632.2,735.3 L1633.4,735.3 L1634.6,735.5 L1635.8,735.6 L1637.0,735.6 L1638.1,735.5 L1639.3,735.5 L1640.5,735.9 L1641.7,736.6 L1642.9,737.3 L1644.1,737.9 L1645.3,738.3 L1646.4,738.4 L1647.6,738.5 L1648.8,738.3 L1650.0,738.1 L1651.2,737.9 L1652.4,737.9 L1653.6,738.2 L1654.7,738.5 L1655.9,738.6 L1657.1,738.4 L1658.3,737.9 L1659.5,737.4 L1660.7,737.1 L1661.9,737.1 L1663.0,737.2 L1664.2,737.4 L1665.4,737.4 L1666.6,737.3 L1667.8,737.1 L1669.0,737.0 L1670.2,737.2 L1671.3,737.6 L1672.5,738.1 L1673.7,738.5 L1674.9,738.6 L1676.1,738.4 L1677.3,738.3 L1678.5,738.3 L1679.6,738.6 L1680.8,739.0 L1682.0,739.3 L1683.2,739.4 L1684.4,739.5 L1685.6,739.5 L1686.8,739.7 L1688.0,739.7 L1689.1,739.5 L1690.3,739.2 L1691.5,738.6 L1692.7,738.0 L1693.9,737.6 L1695.1,737.7 L1696.3,737.9 L1697.4,738.0 L1698.6,738.0 L1699.8,737.9 L1701.0,737.8 L1702.2,737.9 L1703.4,738.0 L1704.6,737.9 L1705.7,737.6 L1706.9,737.2 L1708.1,736.8 L1709.3,736.6 L1710.5,736.4 L1711.7,736.3 L1712.9,736.0 L1714.0,735.4 L1715.2,734.4 L1716.4,733.2 L1717.6,732.0 L1718.8,730.8 L1720.0,729.6 L1721.2,728.3 L1722.3,727.0 L1723.5,725.9 L1724.7,725.4 L1725.9,725.3 L1727.1,725.6 L1728.3,726.0 L1729.5,726.7 L1730.6,727.4 L1731.8,728.5 L1733.0,729.8 L1734.2,731.2 L1735.4,732.5 L1736.6,733.8 L1737.8,734.8 L1739.0,735.7 L1740.1,736.4 L1741.3,736.9 L1742.5,737.2 L1743.7,737.3 L1744.9,737.2 L1746.1,737.2 L1747.3,737.3 L1748.4,737.5 L1749.6,737.7 L1750.8,738.0 L1752.0,738.5 L1753.2,739.1 L1754.4,739.5 L1755.6,739.4 L1756.7,738.8 L1757.9,738.4 L1759.1,738.5 L1760.3,739.0 L1761.5,739.9 L1762.7,740.4 L1763.9,740.3 L1765.0,739.7 L1766.2,738.9 L1767.4,738.3 L1768.6,738.2 L1769.8,738.7 L1771.0,739.5 L1772.2,740.2 L1773.3,740.6 L1774.5,740.6 L1775.7,740.3 L1776.9,739.9 L1778.1,739.7 L1779.3,739.8 L1780.5,740.1 L1781.7,740.3 L1782.8,740.1 L1784.0,739.9 L1785.2,739.6 L1786.4,739.4 L1787.6,739.5 L1788.8,739.6 L1790.0,739.8 L1791.1,739.8 L1792.3,739.7 L1793.5,739.5 L1794.7,739.2 L1795.9,738.9 L1797.1,738.8 L1798.3,738.6 L1799.4,738.5 L1800.6,738.5 L1801.5,738.8 L1801.5,739.4" stroke="#e1cc52" stroke-width="5.2"/>
<path class="c" d="M142.5,882.4 L143.7,882.9 L144.9,883.3 L146.1,883.5 L147.2,883.8 L148.4,884.0 L149.6,884.0 L150.8,883.7 L152.0,883.0 L153.2,882.3 L154.4,881.6 L155.5,881.1 L156.7,881.0 L157.9,881.2 L159.1,881.6 L160.3,882.0 L161.5,882.2 L162.7,882.2 L163.8,882.1 L165.0,881.9 L166.2,881.9 L167.4,882.0 L168.6,882.1 L169.8,881.8 L171.0,881.5 L172.2,881.4 L173.3,881.4 L174.5,881.5 L175.7,881.7 L176.9,881.7 L178.1,881.7 L179.3,881.4 L180.5,881.0 L181.6,880.5 L182.8,880.1 L184.0,879.5 L185.2,879.3 L186.4,879.5 L187.6,880.0 L188.8,880.9 L189.9,881.6 L191.1,882.1 L192.3,882.1 L193.5,882.1 L194.7,881.9 L195.9,881.8 L197.1,881.7 L198.2,881.5 L199.4,881.3 L200.6,881.0 L201.8,880.9 L203.0,880.9 L204.2,881.0 L205.4,881.0 L206.5,881.2 L207.7,881.6 L208.9,881.9 L210.1,882.1 L211.3,882.0 L212.5,881.5 L213.7,880.9 L214.9,880.3 L216.0,880.0 L217.2,880.0 L218.4,880.3 L219.6,880.6 L220.8,880.8 L222.0,881.3 L223.2,881.7 L224.3,882.2 L225.5,882.6 L226.7,882.6 L227.9,882.3 L229.1,881.7 L230.3,881.1 L231.5,880.7 L232.6,880.7 L233.8,881.1 L235.0,881.5 L236.2,881.8 L237.4,882.1 L238.6,882.3 L239.8,882.5 L240.9,882.4 L242.1,882.0 L243.3,881.5 L244.5,881.0 L245.7,881.1 L246.9,881.7 L248.1,882.5 L249.2,883.1 L250.4,883.2 L251.6,882.9 L252.8,882.5 L254.0,882.3 L255.2,882.3 L256.4,882.4 L257.5,882.7 L258.7,882.9 L259.9,882.9 L261.1,882.8 L262.3,882.6 L263.5,882.5 L264.7,882.2 L265.9,881.7 L267.0,881.0 L268.2,880.6 L269.4,880.6 L270.6,881.1 L271.8,881.9 L273.0,882.6 L274.2,883.0 L275.3,883.2 L276.5,883.4 L277.7,883.4 L278.9,883.4 L280.1,883.1 L281.3,882.6 L282.5,881.9 L283.6,881.3 L284.8,880.9 L286.0,880.7 L287.2,880.6 L288.4,880.5 L289.6,880.8 L290.8,881.0 L291.9,881.0 L293.1,880.8 L294.3,880.5 L295.5,880.3 L296.7,880.2 L297.9,880.4 L299.1,880.6 L300.2,880.7 L301.4,880.6 L302.6,880.4 L303.8,880.3 L305.0,880.4 L306.2,880.6 L307.4,880.8 L308.6,880.9 L309.7,880.9 L310.9,880.5 L312.1,879.9 L313.3,879.3 L314.5,878.9 L315.7,878.8 L316.9,878.8 L318.0,879.1 L319.2,879.3 L320.4,879.3 L321.6,879.1 L322.8,878.3 L324.0,877.0 L325.2,875.5 L326.3,873.9 L327.5,872.2 L328.7,870.7 L329.9,869.5 L331.1,868.3 L332.3,866.8 L333.5,865.1 L334.6,863.5 L335.8,861.9 L337.0,858.3 L338.2,854.9 L339.4,846.4 L340.6,835.3 L341.8,824.2 L342.9,814.4 L344.1,805.2 L345.3,796.6 L346.5,788.4 L347.7,779.8 L348.9,783.4 L350.1,798.2 L351.2,812.6 L352.4,827.3 L353.6,841.2 L354.8,855.1 L356.0,867.9 L357.2,874.5 L358.4,878.0 L359.6,879.9 L360.7,881.7 L361.9,883.2 L363.1,882.8 L364.3,882.2 L365.5,881.7 L366.7,881.4 L367.9,881.4 L369.0,881.5 L370.2,881.8 L371.4,881.8 L372.6,881.6 L373.8,881.1 L375.0,880.3 L376.2,879.7 L377.3,879.4 L378.5,879.6 L379.7,879.9 L380.9,880.1 L382.1,880.4 L383.3,880.9 L384.5,881.5 L385.6,882.2 L386.8,882.5 L388.0,882.5 L389.2,882.1 L390.4,881.6 L391.6,881.2 L392.8,881.2 L393.9,881.4 L395.1,881.7 L396.3,882.1 L397.5,882.5 L398.7,883.0 L399.9,883.4 L401.1,883.4 L402.2,883.0 L403.4,882.2 L404.6,881.5 L405.8,880.9 L407.0,880.8 L408.2,881.2 L409.4,881.9 L410.6,882.3 L411.7,882.3 L412.9,881.9 L414.1,881.5 L415.3,881.5 L416.5,881.8 L417.7,882.4 L418.9,882.8 L420.0,882.7 L421.2,882.1 L422.4,881.2 L423.6,880.4 L424.8,879.8 L426.0,879.7 L427.2,879.6 L428.3,879.5 L429.5,879.4 L430.7,879.4 L431.9,879.4 L433.1,879.7 L434.3,879.6 L435.5,879.4 L436.6,879.2 L437.8,879.2 L439.0,879.2 L440.2,879.5 L441.4,879.7 L442.6,879.9 L443.8,880.0 L444.9,880.0 L446.1,880.0 L447.3,880.1 L448.5,880.3 L449.7,880.3 L450.9,880.2 L452.1,880.1 L453.3,880.0 L454.4,880.0 L455.6,880.0 L456.8,879.9 L458.0,880.0 L459.2,880.0 L460.4,880.0 L461.6,879.9 L462.7,879.7 L463.9,879.5 L465.1,879.4 L466.3,879.7 L467.5,880.1 L468.7,880.7 L469.9,881.0 L471.0,881.0 L472.2,880.9 L473.4,880.8 L474.6,880.8 L475.8,880.8 L477.0,880.4 L478.2,879.4 L479.3,878.2 L480.5,877.4 L481.7,877.3 L482.9,878.0 L484.1,879.3 L485.3,880.6 L486.5,881.7 L487.6,882.2 L488.8,882.2 L490.0,881.8 L491.2,881.5 L492.4,881.2 L493.6,881.0 L494.8,881.1 L495.9,881.5 L497.1,881.9 L498.3,882.1 L499.5,882.2 L500.7,882.1 L501.9,882.0 L503.1,882.1 L504.3,882.3 L505.4,882.4 L506.6,882.3 L507.8,882.0 L509.0,881.8 L510.2,881.8 L511.4,882.3 L512.6,882.8 L513.7,882.8 L514.9,882.1 L516.1,881.2 L517.3,880.5 L518.5,879.9 L519.7,879.6 L520.9,879.3 L522.0,879.3 L523.2,879.4 L524.4,879.7 L525.6,879.9 L526.8,880.0 L528.0,880.2 L529.2,880.3 L530.3,880.3 L531.5,880.4 L532.7,880.2 L533.9,879.9 L535.1,879.4 L536.3,878.8 L537.5,878.1 L538.6,877.5 L539.8,877.2 L541.0,877.2 L542.2,877.5 L543.4,877.8 L544.6,877.7 L545.8,877.6 L547.0,877.6 L548.1,877.7 L549.3,878.1 L550.5,878.3 L551.7,878.5 L552.9,878.6 L554.1,878.6 L555.3,878.7 L556.4,878.6 L557.6,878.5 L558.8,878.6 L560.0,878.7 L561.2,878.8 L562.4,879.2 L563.6,879.5 L564.7,879.5 L565.9,879.3 L567.1,878.8 L568.3,878.1 L569.5,877.5 L570.7,877.2 L571.9,877.1 L573.0,877.2 L574.2,877.6 L575.4,878.1 L576.6,878.7 L577.8,879.1 L579.0,879.3 L580.2,878.9 L581.3,878.0 L582.5,877.0 L583.7,876.3 L584.9,875.9 L586.1,875.8 L587.3,875.9 L588.5,876.0 L589.6,876.1 L590.8,876.3 L592.0,876.5 L593.2,876.6 L594.4,876.3 L595.6,876.2 L596.8,876.1 L598.0,876.3 L599.1,876.5 L600.3,876.9 L601.5,876.8 L602.7,876.4 L603.9,876.1 L605.1,875.8 L606.3,875.3 L607.4,874.7 L608.6,874.1 L609.8,873.5 L611.0,873.0 L612.2,872.8 L613.4,872.6 L614.6,872.3 L615.7,871.9 L616.9,871.2 L618.1,870.0 L619.3,868.3 L620.5,866.3 L621.7,864.3 L622.9,862.9 L624.0,862.4 L625.2,862.9 L626.4,863.8 L627.6,864.9 L628.8,865.6 L630.0,865.8 L631.2,865.6 L632.3,865.1 L633.5,864.4 L634.7,863.8 L635.9,863.8 L637.1,864.6 L638.3,865.8 L639.5,867.5 L640.6,869.0 L641.8,870.7 L643.0,872.2 L644.2,873.5 L645.4,874.3 L646.6,874.4 L647.8,874.2 L649.0,873.8 L650.1,873.6 L651.3,874.0 L652.5,874.8 L653.7,875.7 L654.9,876.7 L656.1,877.7 L657.3,878.4 L658.4,878.4 L659.6,878.0 L660.8,877.2 L662.0,876.6 L663.2,876.3 L664.4,876.3 L665.6,876.3 L666.7,876.3 L667.9,876.0 L669.1,875.8 L670.3,875.5 L671.5,875.3 L672.7,875.2 L673.9,875.2 L675.0,875.3 L676.2,875.2 L677.4,875.0 L678.6,874.6 L679.8,874.1 L681.0,874.0 L682.2,874.0 L683.3,874.1 L684.5,874.2 L685.7,874.2 L686.9,874.4 L688.1,874.6 L689.3,874.7 L690.5,874.7 L691.7,874.6 L692.8,874.5 L694.0,874.7 L695.2,875.2 L696.4,875.7 L697.6,875.9 L698.8,875.6 L700.0,874.8 L701.1,874.1 L702.3,873.6 L703.5,873.2 L704.7,872.9 L705.9,873.0 L707.1,873.3 L708.3,873.5 L709.4,873.7 L710.6,874.0 L711.8,874.2 L713.0,874.2 L714.2,874.2 L715.4,874.2 L716.6,874.4 L717.7,874.8 L718.9,875.3 L720.1,875.9 L721.3,876.2 L722.5,876.2 L723.7,875.9 L724.9,875.5 L726.0,875.2 L727.2,875.2 L728.4,875.5 L729.6,875.6 L730.8,875.5 L732.0,875.2 L733.2,874.4 L734.3,873.3 L735.5,872.1 L736.7,871.4 L737.9,871.3 L739.1,871.5 L740.3,872.0 L741.5,872.3 L742.7,872.3 L743.8,872.1 L745.0,871.7 L746.2,871.2 L747.4,870.9 L748.6,870.5 L749.8,870.2 L751.0,869.9 L752.1,869.5 L753.3,869.4 L754.5,869.6 L755.7,870.2 L756.9,870.8 L758.1,871.3 L759.3,871.4 L760.4,871.2 L761.6,870.9 L762.8,870.4 L764.0,870.0 L765.2,869.8 L766.4,869.7 L767.6,869.6 L768.7,869.5 L769.9,869.5 L771.1,869.6 L772.3,869.8 L773.5,870.1 L774.7,870.1 L775.9,869.7 L777.0,868.9 L778.2,868.0 L779.4,867.6 L780.6,867.5 L781.8,867.5 L783.0,867.2 L784.2,866.5 L785.4,865.5 L786.5,864.3 L787.7,863.2 L788.9,862.2 L790.1,861.2 L791.3,860.1 L792.5,858.9 L793.7,857.8 L794.8,857.1 L796.0,856.9 L797.2,857.2 L798.4,857.5 L799.6,857.8 L800.8,858.0 L802.0,858.4 L803.1,859.2 L804.3,860.2 L805.5,861.3 L806.7,862.5 L807.9,863.8 L809.1,865.0 L810.3,865.9 L811.4,866.4 L812.6,866.7 L813.8,866.8 L815.0,866.8 L816.2,867.0 L817.4,867.3 L818.6,867.8 L819.7,868.3 L820.9,868.9 L822.1,869.3 L823.3,869.4 L824.5,869.5 L825.7,869.4 L826.9,869.2 L828.0,868.9 L829.2,868.3 L830.4,867.5 L831.6,866.8 L832.8,866.1 L834.0,865.2 L835.2,863.7 L836.4,861.6 L837.5,859.1 L838.7,856.4 L839.9,853.7 L841.1,851.2 L842.3,848.7 L843.5,846.9 L844.7,846.1 L845.8,846.8 L847.0,848.5 L848.2,850.8 L849.4,853.4 L850.6,855.8 L851.8,857.9 L853.0,859.8 L854.1,861.4 L855.3,862.9 L856.5,864.3 L857.7,865.6 L858.9,866.7 L860.1,867.5 L861.3,868.0 L862.4,868.4 L863.6,868.6 L864.8,868.9 L866.0,869.2 L867.2,869.2 L868.4,869.0 L869.6,868.7 L870.7,868.4 L871.9,868.2 L873.1,868.1 L874.3,868.2 L875.5,868.6 L876.7,869.0 L877.9,869.5 L879.1,869.8 L880.2,869.8 L881.4,869.6 L882.6,869.2 L883.8,868.7 L885.0,868.4 L886.2,868.3 L887.4,868.4 L888.5,868.5 L889.7,868.6 L890.9,868.4 L892.1,868.0 L893.3,867.5 L894.5,867.0 L895.7,867.0 L896.8,867.3 L898.0,867.7 L899.2,867.8 L900.4,867.9 L901.6,868.0 L902.8,868.2 L904.0,868.3 L905.1,868.3 L906.3,867.9 L907.5,867.4 L908.7,866.9 L909.9,867.0 L911.1,867.2 L912.3,867.5 L913.4,867.5 L914.6,867.5 L915.8,867.6 L917.0,867.9 L918.2,868.2 L919.4,868.4 L920.6,868.2 L921.7,867.8 L922.9,867.3 L924.1,867.1 L925.3,867.1 L926.5,867.3 L927.7,867.8 L928.9,868.3 L930.1,868.7 L931.2,868.7 L932.4,868.3 L933.6,867.7 L934.8,866.8 L936.0,866.3 L937.2,866.3 L938.4,866.7 L939.5,867.5 L940.7,868.3 L941.9,868.9 L943.1,869.0 L944.3,868.8 L945.5,868.3 L946.7,867.8 L947.8,867.4 L949.0,867.2 L950.2,867.3 L951.4,867.5 L952.6,867.4 L953.8,867.2 L955.0,866.8 L956.1,866.5 L957.3,866.2 L958.5,866.3 L959.7,866.7 L960.9,867.0 L962.1,867.1 L963.3,866.9 L964.4,866.8 L965.6,866.8 L966.8,867.0 L968.0,867.1 L969.2,867.0 L970.4,866.8 L971.6,866.7 L972.8,866.6 L973.9,866.8 L975.1,867.3 L976.3,868.0 L977.5,868.4 L978.7,868.3 L979.9,867.9 L981.1,867.9 L982.2,868.2 L983.4,868.6 L984.6,868.6 L985.8,868.3 L987.0,867.4 L988.2,866.3 L989.4,865.4 L990.5,865.3 L991.7,865.7 L992.9,866.6 L994.1,867.5 L995.3,868.1 L996.5,868.2 L997.7,868.0 L998.8,867.4 L1000.0,866.6 L1001.2,865.7 L1002.4,864.6 L1003.6,863.9 L1004.8,863.6 L1006.0,863.8 L1007.1,863.9 L1008.3,863.4 L1009.5,862.6 L1010.7,861.3 L1011.9,859.8 L1013.1,858.5 L1014.3,856.9 L1015.4,854.9 L1016.6,852.8 L1017.8,850.6 L1019.0,848.7 L1020.2,846.7 L1021.4,843.4 L1022.6,839.9 L1023.8,836.1 L1024.9,823.2 L1026.1,811.6 L1027.3,801.6 L1028.5,791.7 L1029.7,782.3 L1030.9,773.1 L1032.1,768.9 L1033.2,780.0 L1034.4,791.3 L1035.6,802.4 L1036.8,813.5 L1038.0,825.4 L1039.2,837.3 L1040.4,845.9 L1041.5,852.2 L1042.7,857.2 L1043.9,859.8 L1045.1,861.2 L1046.3,862.6 L1047.5,864.3 L1048.7,865.6 L1049.8,866.2 L1051.0,866.5 L1052.2,866.6 L1053.4,866.4 L1054.6,866.2 L1055.8,866.1 L1057.0,866.1 L1058.1,866.3 L1059.3,866.7 L1060.5,867.0 L1061.7,867.0 L1062.9,866.9 L1064.1,866.6 L1065.3,866.1 L1066.4,865.7 L1067.6,865.7 L1068.8,866.1 L1070.0,866.8 L1071.2,867.8 L1072.4,868.6 L1073.6,869.0 L1074.8,868.7 L1075.9,868.1 L1077.1,867.4 L1078.3,867.0 L1079.5,866.7 L1080.7,866.6 L1081.9,866.5 L1083.1,866.5 L1084.2,866.7 L1085.4,866.9 L1086.6,867.1 L1087.8,867.1 L1089.0,867.0 L1090.2,866.8 L1091.4,867.0 L1092.5,867.4 L1093.7,867.8 L1094.9,867.9 L1096.1,867.6 L1097.3,867.3 L1098.5,866.9 L1099.7,866.7 L1100.8,866.3 L1102.0,865.9 L1103.2,865.3 L1104.4,864.7 L1105.6,864.4 L1106.8,864.3 L1108.0,864.4 L1109.1,864.9 L1110.3,865.4 L1111.5,866.1 L1112.7,866.8 L1113.9,867.7 L1115.1,868.3 L1116.3,868.4 L1117.5,867.9 L1118.6,867.0 L1119.8,866.2 L1121.0,865.8 L1122.2,865.9 L1123.4,866.4 L1124.6,867.0 L1125.8,867.5 L1126.9,867.9 L1128.1,868.2 L1129.3,868.1 L1130.5,867.9 L1131.7,867.5 L1132.9,867.2 L1134.1,866.9 L1135.2,866.9 L1136.4,867.2 L1137.6,867.3 L1138.8,866.8 L1140.0,866.0 L1141.2,865.2 L1142.4,864.8 L1143.5,865.0 L1144.7,865.5 L1145.9,865.9 L1147.1,866.1 L1148.3,866.2 L1149.5,866.5 L1150.7,867.0 L1151.8,867.6 L1153.0,868.0 L1154.2,867.9 L1155.4,867.5 L1156.6,866.9 L1157.8,866.7 L1159.0,866.9 L1160.1,867.5 L1161.3,868.0 L1162.5,868.3 L1163.7,868.2 L1164.9,867.9 L1166.1,867.4 L1167.3,866.9 L1168.5,866.5 L1169.6,866.3 L1170.8,866.2 L1172.0,866.3 L1173.2,866.2 L1174.4,866.0 L1175.6,865.5 L1176.8,864.7 L1177.9,863.8 L1179.1,862.8 L1180.3,861.6 L1181.5,860.2 L1182.7,858.3 L1183.9,856.1 L1185.1,853.3 L1186.2,850.1 L1187.4,846.4 L1188.6,842.4 L1189.8,838.1 L1191.0,833.9 L1192.2,829.7 L1193.4,825.9 L1194.5,823.0 L1195.7,821.6 L1196.9,822.2 L1198.1,824.5 L1199.3,828.2 L1200.5,832.6 L1201.7,837.0 L1202.8,841.0 L1204.0,844.7 L1205.2,848.2 L1206.4,851.5 L1207.6,854.2 L1208.8,856.3 L1210.0,857.8 L1211.2,858.9 L1212.3,860.1 L1213.5,861.4 L1214.7,862.7 L1215.9,863.7 L1217.1,864.6 L1218.3,865.3 L1219.5,865.7 L1220.6,865.8 L1221.8,865.5 L1223.0,865.0 L1224.2,864.6 L1225.4,864.6 L1226.6,865.0 L1227.8,865.9 L1228.9,867.2 L1230.1,868.3 L1231.3,868.8 L1232.5,868.6 L1233.7,868.0 L1234.9,867.3 L1236.1,866.9 L1237.2,866.8 L1238.4,866.9 L1239.6,867.0 L1240.8,867.4 L1242.0,868.1 L1243.2,868.9 L1244.4,869.4 L1245.5,869.4 L1246.7,869.1 L1247.9,868.6 L1249.1,868.4 L1250.3,868.4 L1251.5,868.5 L1252.7,868.4 L1253.8,868.1 L1255.0,867.6 L1256.2,867.2 L1257.4,867.4 L1258.6,868.1 L1259.8,868.9 L1261.0,869.5 L1262.2,870.0 L1263.3,870.1 L1264.5,869.9 L1265.7,869.6 L1266.9,869.3 L1268.1,868.9 L1269.3,868.4 L1270.5,868.0 L1271.6,867.6 L1272.8,867.3 L1274.0,867.3 L1275.2,867.6 L1276.4,868.1 L1277.6,868.5 L1278.8,869.0 L1279.9,869.3 L1281.1,869.3 L1282.3,869.0 L1283.5,868.6 L1284.7,868.5 L1285.9,868.8 L1287.1,869.2 L1288.2,869.2 L1289.4,869.0 L1290.6,868.5 L1291.8,868.1 L1293.0,867.8 L1294.2,867.7 L1295.4,867.8 L1296.5,868.0 L1297.7,868.0 L1298.9,867.8 L1300.1,867.6 L1301.3,867.6 L1302.5,867.7 L1303.7,867.9 L1304.8,868.1 L1306.0,868.4 L1307.2,868.8 L1308.4,869.1 L1309.6,869.1 L1310.8,868.9 L1312.0,868.4 L1313.2,868.2 L1314.3,868.2 L1315.5,868.1 L1316.7,867.7 L1317.9,867.1 L1319.1,866.6 L1320.3,866.2 L1321.5,865.9 L1322.6,865.6 L1323.8,865.3 L1325.0,865.1 L1326.2,865.2 L1327.4,865.4 L1328.6,865.5 L1329.8,865.5 L1330.9,865.3 L1332.1,865.1 L1333.3,864.9 L1334.5,864.6 L1335.7,864.2 L1336.9,863.8 L1338.1,863.6 L1339.2,863.6 L1340.4,863.5 L1341.6,863.3 L1342.8,863.1 L1344.0,863.2 L1345.2,863.8 L1346.4,864.8 L1347.5,865.8 L1348.7,866.7 L1349.9,867.2 L1351.1,867.3 L1352.3,867.1 L1353.5,866.9 L1354.7,866.9 L1355.9,867.3 L1357.0,868.1 L1358.2,868.8 L1359.4,869.3 L1360.6,869.5 L1361.8,869.4 L1363.0,869.4 L1364.2,869.5 L1365.3,869.6 L1366.5,869.7 L1367.7,869.6 L1368.9,869.4 L1370.1,869.0 L1371.3,869.0 L1372.5,869.1 L1373.6,869.2 L1374.8,869.4 L1376.0,869.5 L1377.2,869.4 L1378.4,868.8 L1379.6,868.1 L1380.8,867.5 L1381.9,867.1 L1383.1,867.1 L1384.3,867.2 L1385.5,867.5 L1386.7,867.8 L1387.9,868.3 L1389.1,869.0 L1390.2,869.8 L1391.4,870.5 L1392.6,870.8 L1393.8,870.7 L1395.0,870.4 L1396.2,870.2 L1397.4,870.2 L1398.5,870.3 L1399.7,870.4 L1400.9,870.3 L1402.1,870.0 L1403.3,869.7 L1404.5,869.6 L1405.7,869.4 L1406.9,869.0 L1408.0,868.8 L1409.2,868.4 L1410.4,868.2 L1411.6,868.0 L1412.8,868.0 L1414.0,868.1 L1415.2,868.1 L1416.3,868.0 L1417.5,867.8 L1418.7,867.5 L1419.9,867.4 L1421.1,867.5 L1422.3,868.1 L1423.5,868.9 L1424.6,869.8 L1425.8,870.4 L1427.0,870.6 L1428.2,870.3 L1429.4,870.1 L1430.6,870.2 L1431.8,870.7 L1432.9,871.3 L1434.1,871.8 L1435.3,871.9 L1436.5,871.7 L1437.7,871.4 L1438.9,871.0 L1440.1,870.7 L1441.2,870.7 L1442.4,870.8 L1443.6,871.1 L1444.8,871.2 L1446.0,871.3 L1447.2,871.3 L1448.4,871.3 L1449.6,871.4 L1450.7,871.5 L1451.9,871.7 L1453.1,871.7 L1454.3,871.7 L1455.5,871.5 L1456.7,871.0 L1457.9,870.7 L1459.0,870.5 L1460.2,870.6 L1461.4,870.5 L1462.6,870.3 L1463.8,870.0 L1465.0,869.7 L1466.2,869.7 L1467.3,869.7 L1468.5,869.6 L1469.7,869.5 L1470.9,869.3 L1472.1,869.2 L1473.3,869.2 L1474.5,869.6 L1475.6,870.2 L1476.8,870.9 L1478.0,871.4 L1479.2,871.7 L1480.4,871.6 L1481.6,871.3 L1482.8,871.0 L1483.9,870.8 L1485.1,870.8 L1486.3,871.0 L1487.5,870.9 L1488.7,870.8 L1489.9,870.9 L1491.1,871.1 L1492.2,871.3 L1493.4,871.7 L1494.6,871.9 L1495.8,872.0 L1497.0,872.0 L1498.2,872.1 L1499.4,872.2 L1500.6,872.2 L1501.7,872.2 L1502.9,872.1 L1504.1,872.0 L1505.3,871.6 L1506.5,871.1 L1507.7,871.0 L1508.9,871.1 L1510.0,871.5 L1511.2,871.7 L1512.4,871.5 L1513.6,871.0 L1514.8,870.5 L1516.0,870.3 L1517.2,870.9 L1518.3,872.0 L1519.5,873.2 L1520.7,873.9 L1521.9,873.8 L1523.1,873.1 L1524.3,872.1 L1525.5,871.3 L1526.6,871.0 L1527.8,871.1 L1529.0,871.4 L1530.2,871.7 L1531.4,871.8 L1532.6,871.9 L1533.8,871.7 L1534.9,871.5 L1536.1,871.4 L1537.3,871.4 L1538.5,871.7 L1539.7,872.0 L1540.9,872.2 L1542.1,872.4 L1543.3,872.6 L1544.4,872.6 L1545.6,872.2 L1546.8,871.7 L1548.0,871.4 L1549.2,871.2 L1550.4,871.2 L1551.6,871.2 L1552.7,871.1 L1553.9,870.9 L1555.1,870.8 L1556.3,870.9 L1557.5,871.2 L1558.7,871.3 L1559.9,871.2 L1561.0,871.3 L1562.2,871.6 L1563.4,872.1 L1564.6,872.6 L1565.8,872.6 L1567.0,872.2 L1568.2,871.5 L1569.3,871.0 L1570.5,870.9 L1571.7,871.1 L1572.9,871.4 L1574.1,871.6 L1575.3,871.7 L1576.5,872.0 L1577.6,872.3 L1578.8,872.6 L1580.0,872.7 L1581.2,872.4 L1582.4,871.8 L1583.6,870.9 L1584.8,870.3 L1585.9,870.1 L1587.1,870.1 L1588.3,870.1 L1589.5,869.8 L1590.7,869.3 L1591.9,868.5 L1593.1,867.7 L1594.3,866.9 L1595.4,866.0 L1596.6,864.8 L1597.8,863.4 L1599.0,861.7 L1600.2,860.1 L1601.4,858.6 L1602.6,857.2 L1603.7,855.8 L1604.9,854.1 L1606.1,852.6 L1607.3,851.5 L1608.5,850.9 L1609.7,851.0 L1610.9,851.8 L1612.0,853.0 L1613.2,854.6 L1614.4,856.3 L1615.6,857.8 L1616.8,859.1 L1618.0,860.6 L1619.2,862.1 L1620.3,863.9 L1621.5,865.7 L1622.7,867.3 L1623.9,868.6 L1625.1,869.3 L1626.3,869.7 L1627.5,870.1 L1628.6,870.6 L1629.8,871.1 L1631.0,871.5 L1632.2,871.8 L1633.4,871.9 L1634.6,872.0 L1635.8,872.2 L1637.0,872.4 L1638.1,872.5 L1639.3,872.2 L1640.5,871.9 L1641.7,871.8 L1642.9,872.1 L1644.1,872.6 L1645.3,873.0 L1646.4,873.3 L1647.6,873.4 L1648.8,873.3 L1650.0,873.3 L1651.2,873.4 L1652.4,873.5 L1653.6,873.4 L1654.7,873.2 L1655.9,873.0 L1657.1,872.9 L1658.3,872.9 L1659.5,872.9 L1660.7,872.9 L1661.9,872.9 L1663.0,873.0 L1664.2,873.1 L1665.4,873.2 L1666.6,873.5 L1667.8,873.9 L1669.0,874.4 L1670.2,874.8 L1671.3,874.9 L1672.5,874.6 L1673.7,873.9 L1674.9,873.0 L1676.1,872.3 L1677.3,872.1 L1678.5,872.3 L1679.6,872.8 L1680.8,873.1 L1682.0,873.2 L1683.2,873.2 L1684.4,872.9 L1685.6,872.6 L1686.8,872.4 L1688.0,872.4 L1689.1,872.5 L1690.3,872.7 L1691.5,872.8 L1692.7,872.8 L1693.9,872.8 L1695.1,873.1 L1696.3,873.5 L1697.4,873.8 L1698.6,873.7 L1699.8,873.3 L1701.0,872.6 L1702.2,871.8 L1703.4,871.2 L1704.6,870.9 L1705.7,870.8 L1706.9,870.8 L1708.1,870.7 L1709.3,870.4 L1710.5,869.9 L1711.7,869.4 L1712.9,868.8 L1714.0,868.4 L1715.2,868.1 L1716.4,867.7 L1717.6,867.2 L1718.8,866.7 L1720.0,866.4 L1721.2,866.2 L1722.3,866.2 L1723.5,865.9 L1724.7,865.5 L1725.9,864.8 L1727.1,864.2 L1728.3,863.8 L1729.5,864.1 L1730.6,865.0 L1731.8,866.2 L1733.0,867.1 L1734.2,867.9 L1735.4,868.6 L1736.6,869.3 L1737.8,869.8 L1739.0,870.3 L1740.1,870.8 L1741.3,871.3 L1742.5,871.8 L1743.7,872.1 L1744.9,872.4 L1746.1,872.7 L1747.3,873.1 L1748.4,873.6 L1749.6,874.0 L1750.8,874.3 L1752.0,874.3 L1753.2,874.4 L1754.4,874.5 L1755.6,874.7 L1756.7,875.0 L1757.9,875.4 L1759.1,875.7 L1760.3,875.4 L1761.5,874.7 L1762.7,873.7 L1763.9,872.7 L1765.0,872.0 L1766.2,871.5 L1767.4,871.2 L1768.6,871.1 L1769.8,871.2 L1771.0,871.7 L1772.2,872.6 L1773.3,873.7 L1774.5,874.8 L1775.7,875.5 L1776.9,875.7 L1778.1,875.4 L1779.3,874.8 L1780.5,874.4 L1781.7,874.5 L1782.8,874.9 L1784.0,875.6 L1785.2,876.0 L1786.4,876.2 L1787.6,876.4 L1788.8,876.6 L1790.0,876.8 L1791.1,876.7 L1792.3,876.3 L1793.5,875.7 L1794.7,875.0 L1795.9,874.6 L1797.1,874.5 L1798.3,874.6 L1799.4,874.9 L1800.6,875.0 L1801.5,874.7 L1801.5,874.2" stroke="#c85f2d" stroke-width="5.2"/>
<line x1="1196" y1="57" x2="1196" y2="1081" stroke="#000" stroke-opacity="0.52" stroke-width="5" stroke-dasharray="36.5 39"/>
<rect x="334.0" y="970.0" width="6.0" height="112.5" fill="#000"/>
<rect x="344.5" y="921.0" width="6.0" height="161.5" fill="#000"/>
<rect x="618.2" y="1029.0" width="5.5" height="53.5" fill="#000"/>
<rect x="625.0" y="1025.0" width="6.0" height="57.5" fill="#000"/>
<rect x="790.8" y="1008.8" width="6.0" height="73.8" fill="#000"/>
<rect x="836.8" y="1017.5" width="6.0" height="65.0" fill="#000"/>
<rect x="1006.8" y="987.5" width="6.0" height="95.0" fill="#000"/>
<rect x="1027.5" y="968.8" width="6.0" height="113.8" fill="#000"/>
<rect x="1140.8" y="1025.0" width="6.0" height="57.5" fill="#000"/>
<rect x="1172.5" y="1003.8" width="6.0" height="78.8" fill="#000"/>
<rect x="1186.2" y="1007.5" width="6.0" height="75.0" fill="#000"/>
<rect x="1191.2" y="983.8" width="6.5" height="98.8" fill="#000"/>
<rect x="1323.0" y="1031.2" width="6.0" height="51.2" fill="#000"/>
<rect x="1336.8" y="1025.0" width="6.0" height="57.5" fill="#000"/>
<rect x="1445.0" y="1035.0" width="6.0" height="47.5" fill="#000"/>
<rect x="1594.2" y="996.2" width="6.0" height="86.2" fill="#000"/>
<rect x="1610.0" y="1022.5" width="6.0" height="60.0" fill="#000"/>
<rect x="1679.8" y="1033.8" width="6.0" height="48.8" fill="#000"/>
<rect x="1695.0" y="1036.0" width="6.0" height="46.5" fill="#000"/>
<rect x="1701.5" y="1025.0" width="6.5" height="57.5" fill="#000"/>
<rect x="1718.8" y="1001.2" width="6.0" height="81.2" fill="#000"/>
<rect x="1729.8" y="1031.2" width="6.0" height="51.2" fill="#000"/>
<rect x="142.5" y="53.5" width="1660.5" height="1029.0" fill="none" stroke="#868686" stroke-width="3.4"/>
<line x1="142.5" y1="908.8" x2="1803.0" y2="908.8" stroke="#868686" stroke-width="3.4"/>
<text transform="translate(1791.5,156.3) scale(0.965,1)" font-size="61.0" text-anchor="end" style="fill:#000;stroke:#000;stroke-width:0.90px">0 mg/ml (a)</text>
<text transform="translate(1791.5,286.5) scale(0.965,1)" font-size="61.0" text-anchor="end" style="fill:#000;stroke:#000;stroke-width:0.90px">1 mg/ml (b)</text>
<text transform="translate(1791.5,420.5) scale(0.965,1)" font-size="61.0" text-anchor="end" style="fill:#000;stroke:#000;stroke-width:0.90px">2 mg/ml (c)</text>
<text transform="translate(1791.5,559.0) scale(0.965,1)" font-size="61.0" text-anchor="end" style="fill:#000;stroke:#000;stroke-width:0.90px">3 mg/ml (d)</text>
<text transform="translate(1791.5,689.0) scale(0.965,1)" font-size="61.0" text-anchor="end" style="fill:#000;stroke:#000;stroke-width:0.90px">4 mg/ml (e)</text>
<text transform="translate(1791.5,830.5) scale(0.965,1)" font-size="61.0" text-anchor="end" style="fill:#000;stroke:#000;stroke-width:0.90px">5 mg/ml (f)</text>
<text transform="translate(1792.5,959.5) scale(0.983,1)" font-size="59.5" text-anchor="end" style="fill:#000;stroke:#000;stroke-width:0.90px">Tetragonal MAPI (g)</text>
<text transform="translate(194.0,1001.5) scale(0.980,1)" font-size="61.0" text-anchor="start" style="fill:#000;stroke:#000;stroke-width:0.90px">(002)</text>
<text transform="translate(350.5,962.5) scale(0.980,1)" font-size="61.0" text-anchor="start" style="fill:#000;stroke:#000;stroke-width:0.90px">(110)</text>
<text transform="translate(556.5,1005.0) scale(0.980,1)" font-size="61.0" text-anchor="start" style="fill:#000;stroke:#000;stroke-width:0.90px">(112)</text>
<text transform="translate(699.5,991.5) scale(0.980,1)" font-size="61.0" text-anchor="start" style="fill:#000;stroke:#000;stroke-width:0.90px">(211)</text>
<text transform="translate(828.5,1001.5) scale(0.980,1)" font-size="61.0" text-anchor="start" style="fill:#000;stroke:#000;stroke-width:0.90px">(202)</text>
<text transform="translate(964.5,957.5) scale(0.980,1)" font-size="61.0" text-anchor="start" style="fill:#000;stroke:#000;stroke-width:0.90px">(220)</text>
<text transform="translate(1200.0,1002.8)" font-size="54.0" text-anchor="start" style="fill:#000;stroke:#000;stroke-width:0.50px">(310)</text>
<text transform="translate(1332.5,1013.3)" font-size="54.0" text-anchor="start" style="fill:#000;stroke:#000;stroke-width:0.50px">(312)</text>
<text transform="translate(1475.0,1008.3)" font-size="54.0" text-anchor="start" style="fill:#000;stroke:#000;stroke-width:0.50px">(224)</text>
<text transform="translate(1674.0,1011.8)" font-size="54.0" text-anchor="start" style="fill:#000;stroke:#000;stroke-width:0.50px">(314)</text>
<text transform="translate(141.3,1156.5)" font-size="61.3" text-anchor="middle" style="fill:#141414;stroke:#141414;stroke-width:0.75px">10</text>
<text transform="translate(378.5,1156.5)" font-size="61.3" text-anchor="middle" style="fill:#141414;stroke:#141414;stroke-width:0.75px">15</text>
<text transform="translate(615.7,1156.5)" font-size="61.3" text-anchor="middle" style="fill:#141414;stroke:#141414;stroke-width:0.75px">20</text>
<text transform="translate(852.9,1156.5)" font-size="61.3" text-anchor="middle" style="fill:#141414;stroke:#141414;stroke-width:0.75px">25</text>
<text transform="translate(1090.2,1156.5)" font-size="61.3" text-anchor="middle" style="fill:#141414;stroke:#141414;stroke-width:0.75px">30</text>
<text transform="translate(1327.4,1156.5)" font-size="61.3" text-anchor="middle" style="fill:#141414;stroke:#141414;stroke-width:0.75px">35</text>
<text transform="translate(1564.6,1156.5)" font-size="61.3" text-anchor="middle" style="fill:#141414;stroke:#141414;stroke-width:0.75px">40</text>
<text transform="translate(1801.8,1156.5)" font-size="61.3" text-anchor="middle" style="fill:#141414;stroke:#141414;stroke-width:0.75px">45</text>
<text transform="translate(970.0,1234.8)" font-size="67.9" text-anchor="middle" style="fill:#141414;stroke:#141414;stroke-width:0.75px">2-Theta (deg)</text>
<text transform="translate(108.3,570.0) rotate(-90) scale(0.995,1)" font-size="68.3" text-anchor="middle" style="fill:#141414;stroke:#141414;stroke-width:0.75px">Intensity (arb. units)</text>
<rect x="1815.7" y="226" width="420" height="494" fill="none" stroke="#8a8a8a" stroke-width="3.5"/>
<text transform="translate(1823.8,288.6) scale(0.995,1)" font-size="58.3" text-anchor="start" style="fill:#000;stroke:#000;stroke-width:0.70px">(h)</text>
<path d="M2036,279.3 L2059,365.6 L2140.4,330.5 M2059,365.6 L2101.2,439 M2059,365.6 L2059,602.5 L2008.8,631.6 M2101.2,439 L2069,449 M2048,454.6 L2018.9,461.5 L1974.7,537.3 L2059,516.2 L2141.4,537.3 L2187.5,462.5 L2101.2,439 M2133.3,537.3 L2156.4,591.5 M2148.4,532.2 L2171.5,586.5" fill="none" stroke="#000" stroke-width="3.3" stroke-linejoin="miter" stroke-linecap="butt"/>
<text class="sans" x="2175.5" y="639" font-size="59" text-anchor="middle" style="stroke-width:0.3px">O</text>
<text class="sans" x="1848" y="665.8" font-size="59.6" style="stroke-width:0.3px">HO<tspan font-size="44" dy="15.5">3</tspan><tspan dy="-15.5">S</tspan></text>
</g></svg></body></html>
